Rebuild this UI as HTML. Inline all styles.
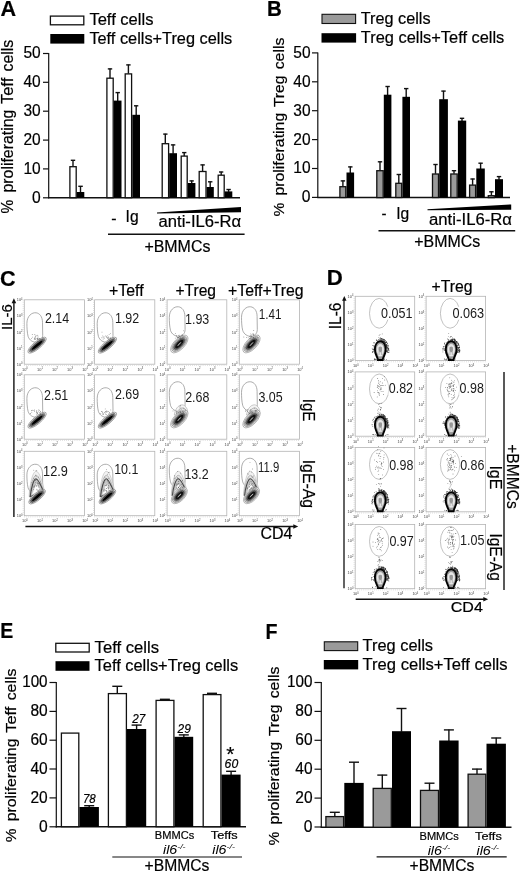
<!DOCTYPE html>
<html lang="en"><head><meta charset="utf-8"><title>Figure</title>
<style>
html,body{margin:0;padding:0;background:#fff;}
body{width:520px;height:874px;overflow:hidden;}
svg{display:block;font-family:"Liberation Sans", sans-serif;}
.m{stroke:#000;stroke-width:0.2px;}
</style></head><body>
<svg width="520" height="874" viewBox="0 0 520 874">
<rect width="520" height="874" fill="#fff"/>
<text font-size="21.6" font-weight="bold" class="m" x="0.6" y="15.8">A</text>
<rect x="50.4" y="16.1" width="33.4" height="8.7" fill="#fff" stroke="#111" stroke-width="1.3"/>
<rect x="50.3" y="34" width="34" height="9.6" fill="#000"/>
<text font-size="16" textLength="64.0" lengthAdjust="spacingAndGlyphs" class="m" x="89.4" y="25.4">Teff cells</text>
<text font-size="16" textLength="142.8" lengthAdjust="spacingAndGlyphs" class="m" x="89.4" y="44.2">Teff cells+Treg cells</text>
<line x1="48.7" y1="53.0" x2="48.7" y2="198.3" stroke="#111" stroke-width="1.2"/>
<line x1="48.1" y1="197.7" x2="240.0" y2="197.7" stroke="#111" stroke-width="1.5"/>
<line x1="43.0" y1="53.5" x2="48.7" y2="53.5" stroke="#111" stroke-width="1.2"/>
<text font-size="16" textLength="17.2" lengthAdjust="spacingAndGlyphs" text-anchor="end" class="m" x="40.6" y="58.4">50</text>
<line x1="43.0" y1="82.3" x2="48.7" y2="82.3" stroke="#111" stroke-width="1.2"/>
<text font-size="16" textLength="17.2" lengthAdjust="spacingAndGlyphs" text-anchor="end" class="m" x="40.6" y="87.2">40</text>
<line x1="43.0" y1="111.2" x2="48.7" y2="111.2" stroke="#111" stroke-width="1.2"/>
<text font-size="16" textLength="17.2" lengthAdjust="spacingAndGlyphs" text-anchor="end" class="m" x="40.6" y="116.1">30</text>
<line x1="43.0" y1="140.1" x2="48.7" y2="140.1" stroke="#111" stroke-width="1.2"/>
<text font-size="16" textLength="17.2" lengthAdjust="spacingAndGlyphs" text-anchor="end" class="m" x="40.6" y="145.0">20</text>
<line x1="43.0" y1="168.9" x2="48.7" y2="168.9" stroke="#111" stroke-width="1.2"/>
<text font-size="16" textLength="17.2" lengthAdjust="spacingAndGlyphs" text-anchor="end" class="m" x="40.6" y="173.8">10</text>
<line x1="43.0" y1="197.8" x2="48.7" y2="197.8" stroke="#111" stroke-width="1.2"/>
<text font-size="16" textLength="8.7" lengthAdjust="spacingAndGlyphs" text-anchor="end" class="m" x="40.6" y="202.7">0</text>
<text font-size="16.4" textLength="13.8" lengthAdjust="spacingAndGlyphs" class="m" transform="translate(12.8 213.5) rotate(-90)">%</text>
<text font-size="16.4" textLength="82.8" lengthAdjust="spacingAndGlyphs" class="m" transform="translate(12.8 192.5) rotate(-90)">proliferating</text>
<text font-size="16.4" textLength="26.2" lengthAdjust="spacingAndGlyphs" class="m" transform="translate(12.8 104.0) rotate(-90)">Teff</text>
<text font-size="16.4" textLength="31.7" lengthAdjust="spacingAndGlyphs" class="m" transform="translate(12.8 71.5) rotate(-90)">cells</text>
<line x1="73.0" y1="160.0" x2="73.0" y2="166.5" stroke="#111" stroke-width="1.4"/>
<line x1="70.8" y1="160.3" x2="75.2" y2="160.3" stroke="#111" stroke-width="1.4"/>
<rect x="69.9" y="166.7" width="6.3" height="31.0" fill="#fff" stroke="#111" stroke-width="1.3"/>
<line x1="80.5" y1="186.0" x2="80.5" y2="192.5" stroke="#111" stroke-width="1.4"/>
<line x1="78.3" y1="186.3" x2="82.8" y2="186.3" stroke="#111" stroke-width="1.4"/>
<rect x="76.8" y="192.0" width="7.5" height="5.7" fill="#000"/>
<line x1="110.0" y1="68.6" x2="110.0" y2="78.0" stroke="#111" stroke-width="1.4"/>
<line x1="107.8" y1="68.9" x2="112.2" y2="68.9" stroke="#111" stroke-width="1.4"/>
<rect x="106.9" y="78.2" width="6.3" height="119.5" fill="#fff" stroke="#111" stroke-width="1.3"/>
<line x1="117.7" y1="92.3" x2="117.7" y2="101.1" stroke="#111" stroke-width="1.4"/>
<line x1="115.5" y1="92.6" x2="119.9" y2="92.6" stroke="#111" stroke-width="1.4"/>
<rect x="113.8" y="100.6" width="7.7" height="97.1" fill="#000"/>
<line x1="128.4" y1="64.6" x2="128.4" y2="73.7" stroke="#111" stroke-width="1.4"/>
<line x1="126.2" y1="64.9" x2="130.6" y2="64.9" stroke="#111" stroke-width="1.4"/>
<rect x="125.2" y="73.9" width="6.4" height="123.8" fill="#fff" stroke="#111" stroke-width="1.3"/>
<line x1="136.2" y1="105.5" x2="136.2" y2="115.3" stroke="#111" stroke-width="1.4"/>
<line x1="134.0" y1="105.8" x2="138.3" y2="105.8" stroke="#111" stroke-width="1.4"/>
<rect x="132.3" y="114.8" width="7.7" height="82.9" fill="#000"/>
<line x1="165.3" y1="133.8" x2="165.3" y2="143.5" stroke="#111" stroke-width="1.4"/>
<line x1="163.2" y1="134.1" x2="167.5" y2="134.1" stroke="#111" stroke-width="1.4"/>
<rect x="162.2" y="143.7" width="6.4" height="54.0" fill="#fff" stroke="#111" stroke-width="1.3"/>
<line x1="173.1" y1="144.6" x2="173.1" y2="153.7" stroke="#111" stroke-width="1.4"/>
<line x1="170.9" y1="144.9" x2="175.3" y2="144.9" stroke="#111" stroke-width="1.4"/>
<rect x="169.2" y="153.2" width="7.8" height="44.5" fill="#000"/>
<line x1="184.2" y1="152.3" x2="184.2" y2="155.9" stroke="#111" stroke-width="1.4"/>
<line x1="182.1" y1="152.6" x2="186.4" y2="152.6" stroke="#111" stroke-width="1.4"/>
<rect x="181.2" y="156.1" width="6.0" height="41.6" fill="#fff" stroke="#111" stroke-width="1.3"/>
<line x1="191.7" y1="180.6" x2="191.7" y2="183.5" stroke="#111" stroke-width="1.4"/>
<line x1="189.5" y1="180.9" x2="193.8" y2="180.9" stroke="#111" stroke-width="1.4"/>
<rect x="187.9" y="183.0" width="7.5" height="14.7" fill="#000"/>
<line x1="202.6" y1="164.6" x2="202.6" y2="171.3" stroke="#111" stroke-width="1.4"/>
<line x1="200.4" y1="164.9" x2="204.8" y2="164.9" stroke="#111" stroke-width="1.4"/>
<rect x="199.2" y="171.5" width="6.8" height="26.2" fill="#fff" stroke="#111" stroke-width="1.3"/>
<line x1="210.2" y1="181.5" x2="210.2" y2="187.5" stroke="#111" stroke-width="1.4"/>
<line x1="208.0" y1="181.8" x2="212.4" y2="181.8" stroke="#111" stroke-width="1.4"/>
<rect x="206.6" y="187.0" width="7.2" height="10.7" fill="#000"/>
<line x1="221.2" y1="171.7" x2="221.2" y2="175.0" stroke="#111" stroke-width="1.4"/>
<line x1="219.0" y1="172.0" x2="223.3" y2="172.0" stroke="#111" stroke-width="1.4"/>
<rect x="218.2" y="175.2" width="6.0" height="22.5" fill="#fff" stroke="#111" stroke-width="1.3"/>
<line x1="228.6" y1="189.2" x2="228.6" y2="191.9" stroke="#111" stroke-width="1.4"/>
<line x1="226.4" y1="189.5" x2="230.8" y2="189.5" stroke="#111" stroke-width="1.4"/>
<rect x="224.8" y="191.4" width="7.5" height="6.3" fill="#000"/>
<polygon points="157,212.5 241,206.9 241,212.2 157,213.5" fill="#000"/>
<text font-size="16" textLength="5.3" lengthAdjust="spacingAndGlyphs" class="m" x="111.2" y="224.2">-</text>
<text font-size="16" textLength="13.0" lengthAdjust="spacingAndGlyphs" class="m" x="125.6" y="222.3">Ig</text>
<text font-size="16" textLength="82.5" lengthAdjust="spacingAndGlyphs" class="m" x="158.6" y="227.0">anti-IL6-Rα</text>
<line x1="108.0" y1="234.2" x2="244.6" y2="234.2" stroke="#111" stroke-width="1.4"/>
<text font-size="16" textLength="66.0" lengthAdjust="spacingAndGlyphs" class="m" x="144.4" y="251.5">+BMMCs</text>
<text font-size="22.6" textLength="14.8" lengthAdjust="spacingAndGlyphs" font-weight="bold" class="m" x="267.0" y="15.7">B</text>
<rect x="322.0" y="14.3" width="33.6" height="9.2" fill="#9a9a9a" stroke="#111" stroke-width="1.1"/>
<rect x="321.5" y="33.2" width="34.6" height="9.4" fill="#000"/>
<text font-size="16" textLength="69.8" lengthAdjust="spacingAndGlyphs" class="m" x="360.8" y="24.2">Treg cells</text>
<text font-size="16" textLength="143.5" lengthAdjust="spacingAndGlyphs" class="m" x="360.8" y="42.8">Treg cells+Teff cells</text>
<line x1="317.8" y1="52.4" x2="317.8" y2="198.1" stroke="#111" stroke-width="1.2"/>
<line x1="317.2" y1="197.5" x2="510.0" y2="197.5" stroke="#111" stroke-width="1.5"/>
<line x1="312.0" y1="52.9" x2="317.8" y2="52.9" stroke="#111" stroke-width="1.2"/>
<text font-size="16" textLength="17.2" lengthAdjust="spacingAndGlyphs" text-anchor="end" class="m" x="310.5" y="57.8">50</text>
<line x1="312.0" y1="81.8" x2="317.8" y2="81.8" stroke="#111" stroke-width="1.2"/>
<text font-size="16" textLength="17.2" lengthAdjust="spacingAndGlyphs" text-anchor="end" class="m" x="310.5" y="86.7">40</text>
<line x1="312.0" y1="110.7" x2="317.8" y2="110.7" stroke="#111" stroke-width="1.2"/>
<text font-size="16" textLength="17.2" lengthAdjust="spacingAndGlyphs" text-anchor="end" class="m" x="310.5" y="115.6">30</text>
<line x1="312.0" y1="139.6" x2="317.8" y2="139.6" stroke="#111" stroke-width="1.2"/>
<text font-size="16" textLength="17.2" lengthAdjust="spacingAndGlyphs" text-anchor="end" class="m" x="310.5" y="144.5">20</text>
<line x1="312.0" y1="168.5" x2="317.8" y2="168.5" stroke="#111" stroke-width="1.2"/>
<text font-size="16" textLength="17.2" lengthAdjust="spacingAndGlyphs" text-anchor="end" class="m" x="310.5" y="173.4">10</text>
<line x1="312.0" y1="197.4" x2="317.8" y2="197.4" stroke="#111" stroke-width="1.2"/>
<text font-size="16" textLength="8.7" lengthAdjust="spacingAndGlyphs" text-anchor="end" class="m" x="310.5" y="202.3">0</text>
<text font-size="15.2" textLength="13.8" lengthAdjust="spacingAndGlyphs" class="m" transform="translate(283.8 216.6) rotate(-90)">%</text>
<text font-size="15.2" textLength="82.8" lengthAdjust="spacingAndGlyphs" class="m" transform="translate(283.8 195.6) rotate(-90)">proliferating</text>
<text font-size="15.2" textLength="31.5" lengthAdjust="spacingAndGlyphs" class="m" transform="translate(283.8 107.1) rotate(-90)">Treg</text>
<text font-size="15.2" textLength="31.7" lengthAdjust="spacingAndGlyphs" class="m" transform="translate(283.8 69.3) rotate(-90)">cells</text>
<line x1="342.9" y1="180.6" x2="342.9" y2="186.5" stroke="#111" stroke-width="1.4"/>
<line x1="340.7" y1="180.9" x2="345.1" y2="180.9" stroke="#111" stroke-width="1.4"/>
<rect x="339.9" y="186.7" width="5.9" height="10.8" fill="#9a9a9a" stroke="#111" stroke-width="1.3"/>
<line x1="350.3" y1="166.6" x2="350.3" y2="173.0" stroke="#111" stroke-width="1.4"/>
<line x1="348.1" y1="166.9" x2="352.5" y2="166.9" stroke="#111" stroke-width="1.4"/>
<rect x="346.5" y="172.5" width="7.6" height="25.0" fill="#000"/>
<line x1="380.0" y1="161.5" x2="380.0" y2="170.5" stroke="#111" stroke-width="1.4"/>
<line x1="377.8" y1="161.8" x2="382.2" y2="161.8" stroke="#111" stroke-width="1.4"/>
<rect x="376.8" y="170.7" width="6.4" height="26.9" fill="#9a9a9a" stroke="#111" stroke-width="1.3"/>
<line x1="387.6" y1="86.2" x2="387.6" y2="95.2" stroke="#111" stroke-width="1.4"/>
<line x1="385.4" y1="86.5" x2="389.8" y2="86.5" stroke="#111" stroke-width="1.4"/>
<rect x="383.8" y="94.7" width="7.6" height="102.8" fill="#000"/>
<line x1="398.8" y1="174.2" x2="398.8" y2="183.2" stroke="#111" stroke-width="1.4"/>
<line x1="396.6" y1="174.5" x2="401.0" y2="174.5" stroke="#111" stroke-width="1.4"/>
<rect x="395.8" y="183.3" width="5.9" height="14.2" fill="#9a9a9a" stroke="#111" stroke-width="1.3"/>
<line x1="406.2" y1="88.3" x2="406.2" y2="97.3" stroke="#111" stroke-width="1.4"/>
<line x1="404.0" y1="88.6" x2="408.4" y2="88.6" stroke="#111" stroke-width="1.4"/>
<rect x="402.4" y="96.8" width="7.6" height="100.7" fill="#000"/>
<line x1="435.5" y1="164.2" x2="435.5" y2="173.8" stroke="#111" stroke-width="1.4"/>
<line x1="433.3" y1="164.5" x2="437.7" y2="164.5" stroke="#111" stroke-width="1.4"/>
<rect x="432.5" y="174.0" width="6.0" height="23.5" fill="#9a9a9a" stroke="#111" stroke-width="1.3"/>
<line x1="443.5" y1="90.8" x2="443.5" y2="99.7" stroke="#111" stroke-width="1.4"/>
<line x1="441.3" y1="91.1" x2="445.7" y2="91.1" stroke="#111" stroke-width="1.4"/>
<rect x="439.2" y="99.2" width="8.7" height="98.3" fill="#000"/>
<line x1="454.0" y1="170.4" x2="454.0" y2="173.8" stroke="#111" stroke-width="1.4"/>
<line x1="451.8" y1="170.7" x2="456.2" y2="170.7" stroke="#111" stroke-width="1.4"/>
<rect x="450.8" y="174.0" width="6.4" height="23.5" fill="#9a9a9a" stroke="#111" stroke-width="1.3"/>
<line x1="462.0" y1="118.0" x2="462.0" y2="121.1" stroke="#111" stroke-width="1.4"/>
<line x1="459.8" y1="118.3" x2="464.2" y2="118.3" stroke="#111" stroke-width="1.4"/>
<rect x="457.9" y="120.6" width="8.3" height="76.9" fill="#000"/>
<line x1="472.6" y1="178.7" x2="472.6" y2="184.9" stroke="#111" stroke-width="1.4"/>
<line x1="470.4" y1="179.0" x2="474.8" y2="179.0" stroke="#111" stroke-width="1.4"/>
<rect x="469.6" y="185.1" width="6.0" height="12.4" fill="#9a9a9a" stroke="#111" stroke-width="1.3"/>
<line x1="480.6" y1="162.9" x2="480.6" y2="169.0" stroke="#111" stroke-width="1.4"/>
<line x1="478.4" y1="163.2" x2="482.8" y2="163.2" stroke="#111" stroke-width="1.4"/>
<rect x="476.3" y="168.5" width="8.5" height="29.0" fill="#000"/>
<line x1="491.4" y1="191.5" x2="491.4" y2="195.5" stroke="#111" stroke-width="1.4"/>
<line x1="489.2" y1="191.8" x2="493.6" y2="191.8" stroke="#111" stroke-width="1.4"/>
<rect x="488.3" y="195.7" width="6.0" height="1.9" fill="#9a9a9a" stroke="#111" stroke-width="1.3"/>
<line x1="499.0" y1="176.3" x2="499.0" y2="179.7" stroke="#111" stroke-width="1.4"/>
<line x1="496.8" y1="176.6" x2="501.2" y2="176.6" stroke="#111" stroke-width="1.4"/>
<rect x="495.0" y="179.2" width="8.0" height="18.3" fill="#000"/>
<polygon points="427.5,209.3 511.2,204.4 511.2,209.7 427.5,210.3" fill="#000"/>
<text font-size="16" textLength="5.0" lengthAdjust="spacingAndGlyphs" class="m" x="381.5" y="219.0">-</text>
<text font-size="16" textLength="13.0" lengthAdjust="spacingAndGlyphs" class="m" x="396.2" y="219.0">Ig</text>
<text font-size="16" textLength="83.0" lengthAdjust="spacingAndGlyphs" class="m" x="429.0" y="224.5">anti-IL6-Rα</text>
<line x1="378.5" y1="230.8" x2="515.2" y2="230.8" stroke="#111" stroke-width="1.4"/>
<text font-size="16" textLength="66.0" lengthAdjust="spacingAndGlyphs" class="m" x="414.2" y="246.5">+BMMCs</text>
<text font-size="21.6" font-weight="bold" class="m" x="0.0" y="285.8">C</text>
<text font-size="16" textLength="34.6" lengthAdjust="spacingAndGlyphs" class="m" x="109.0" y="295.5">+Teff</text>
<text font-size="16" textLength="40.6" lengthAdjust="spacingAndGlyphs" class="m" x="175.4" y="295.5">+Treg</text>
<text font-size="16" textLength="75.6" lengthAdjust="spacingAndGlyphs" class="m" x="228.0" y="295.5">+Teff+Treg</text>
<text font-size="14.9" textLength="25.8" lengthAdjust="spacingAndGlyphs" class="m" transform="translate(12.0 330.0) rotate(-90)">IL-6</text>
<line x1="13.9" y1="302.0" x2="13.9" y2="517.0" stroke="#111" stroke-width="1.4"/>
<polygon points="13.9,298.3 11.6,303.2 16.2,303.2" fill="#111"/>
<line x1="25.4" y1="526.5" x2="294.0" y2="526.5" stroke="#111" stroke-width="1.4"/>
<polygon points="298.2,526.5 293.3,524.2 293.3,528.8" fill="#111"/>
<text font-size="15.6" textLength="32.0" lengthAdjust="spacingAndGlyphs" class="m" x="260.4" y="539.4">CD4</text>
<text font-size="16.6" textLength="22.6" lengthAdjust="spacingAndGlyphs" class="m" transform="translate(302.9 398.7) rotate(90)">IgE</text>
<text font-size="16.6" textLength="48.4" lengthAdjust="spacingAndGlyphs" class="m" transform="translate(302.9 459.7) rotate(90)">IgE-Ag</text>
<rect x="24.3" y="299.8" width="60.2" height="64.4" fill="#fff" stroke="#b4b4b4" stroke-width="0.8"/>
<text x="22.5" y="365.7" font-size="3.9" text-anchor="end" fill="#444">10<tspan dy="-1.4" font-size="2.6">0</tspan></text>
<text x="24.9" y="370.5" font-size="3.9" text-anchor="middle" fill="#444">10<tspan dy="-1.4" font-size="2.6">0</tspan></text>
<text x="22.5" y="349.6" font-size="3.9" text-anchor="end" fill="#444">10<tspan dy="-1.4" font-size="2.6">1</tspan></text>
<text x="40.0" y="370.5" font-size="3.9" text-anchor="middle" fill="#444">10<tspan dy="-1.4" font-size="2.6">1</tspan></text>
<text x="22.5" y="333.5" font-size="3.9" text-anchor="end" fill="#444">10<tspan dy="-1.4" font-size="2.6">2</tspan></text>
<text x="55.0" y="370.5" font-size="3.9" text-anchor="middle" fill="#444">10<tspan dy="-1.4" font-size="2.6">2</tspan></text>
<text x="22.5" y="317.4" font-size="3.9" text-anchor="end" fill="#444">10<tspan dy="-1.4" font-size="2.6">3</tspan></text>
<text x="70.0" y="370.5" font-size="3.9" text-anchor="middle" fill="#444">10<tspan dy="-1.4" font-size="2.6">3</tspan></text>
<text x="22.5" y="301.3" font-size="3.9" text-anchor="end" fill="#444">10<tspan dy="-1.4" font-size="2.6">4</tspan></text>
<text x="85.1" y="370.5" font-size="3.9" text-anchor="middle" fill="#444">10<tspan dy="-1.4" font-size="2.6">4</tspan></text>
<line x1="24.3" y1="365.4" x2="84.5" y2="365.4" stroke="#bbb" stroke-width="0.9" stroke-dasharray="0.5 1.6"/>
<line x1="23.2" y1="299.8" x2="23.2" y2="364.2" stroke="#bbb" stroke-width="0.9" stroke-dasharray="0.5 1.6"/>
<path d="M26.9,323.4 C26.9,310.4 42.3,308.4 42.5,322.4 L42.7,335.4 C42.7,344.4 30.7,344.4 28.1,336.4 C27.1,332.4 26.9,327.4 26.9,323.4 Z" fill="none" stroke="#8a8a8a" stroke-width="0.7"/>
<g transform="translate(37.1 345.2) rotate(-40)"><ellipse rx="11.6" ry="3.7" fill="#fdfdfd" stroke="#6a6a6a" stroke-width="0.55"/><ellipse rx="10.0" ry="2.7" fill="#c8c8c8" stroke="#444" stroke-width="0.6"/><ellipse rx="8.6" ry="2.1" fill="#777" stroke="#222" stroke-width="0.5"/><ellipse rx="7.2" ry="1.4" fill="#000"/></g>
<g fill="#4a4a4a"><circle cx="35.9" cy="338.2" r="0.38"/><circle cx="36.0" cy="338.8" r="0.38"/><circle cx="34.2" cy="339.1" r="0.38"/><circle cx="39.5" cy="338.4" r="0.38"/><circle cx="39.3" cy="339.0" r="0.38"/><circle cx="37.6" cy="339.1" r="0.38"/><circle cx="32.3" cy="337.1" r="0.38"/><circle cx="37.9" cy="338.2" r="0.38"/><circle cx="32.2" cy="334.5" r="0.38"/><circle cx="34.3" cy="338.3" r="0.38"/><circle cx="37.4" cy="339.6" r="0.38"/><circle cx="38.0" cy="337.8" r="0.38"/><circle cx="37.4" cy="338.5" r="0.38"/><circle cx="34.9" cy="334.5" r="0.38"/><circle cx="38.0" cy="336.1" r="0.38"/><circle cx="35.0" cy="337.5" r="0.38"/><circle cx="35.7" cy="339.4" r="0.38"/><circle cx="38.2" cy="339.0" r="0.38"/><circle cx="35.4" cy="336.8" r="0.38"/><circle cx="35.2" cy="336.0" r="0.38"/><circle cx="34.5" cy="339.0" r="0.38"/><circle cx="37.7" cy="335.2" r="0.38"/><circle cx="36.7" cy="335.8" r="0.38"/><circle cx="31.4" cy="338.7" r="0.38"/></g>
<text font-size="14.4" textLength="24.2" lengthAdjust="spacingAndGlyphs" fill="#1a1a1a" x="44.9" y="323.1">2.14</text>
<rect x="94.6" y="299.8" width="60.2" height="64.4" fill="#fff" stroke="#b4b4b4" stroke-width="0.8"/>
<text x="92.8" y="365.7" font-size="3.9" text-anchor="end" fill="#444">10<tspan dy="-1.4" font-size="2.6">0</tspan></text>
<text x="95.2" y="370.5" font-size="3.9" text-anchor="middle" fill="#444">10<tspan dy="-1.4" font-size="2.6">0</tspan></text>
<text x="92.8" y="349.6" font-size="3.9" text-anchor="end" fill="#444">10<tspan dy="-1.4" font-size="2.6">1</tspan></text>
<text x="110.2" y="370.5" font-size="3.9" text-anchor="middle" fill="#444">10<tspan dy="-1.4" font-size="2.6">1</tspan></text>
<text x="92.8" y="333.5" font-size="3.9" text-anchor="end" fill="#444">10<tspan dy="-1.4" font-size="2.6">2</tspan></text>
<text x="125.3" y="370.5" font-size="3.9" text-anchor="middle" fill="#444">10<tspan dy="-1.4" font-size="2.6">2</tspan></text>
<text x="92.8" y="317.4" font-size="3.9" text-anchor="end" fill="#444">10<tspan dy="-1.4" font-size="2.6">3</tspan></text>
<text x="140.3" y="370.5" font-size="3.9" text-anchor="middle" fill="#444">10<tspan dy="-1.4" font-size="2.6">3</tspan></text>
<text x="92.8" y="301.3" font-size="3.9" text-anchor="end" fill="#444">10<tspan dy="-1.4" font-size="2.6">4</tspan></text>
<text x="155.4" y="370.5" font-size="3.9" text-anchor="middle" fill="#444">10<tspan dy="-1.4" font-size="2.6">4</tspan></text>
<line x1="94.6" y1="365.4" x2="154.8" y2="365.4" stroke="#bbb" stroke-width="0.9" stroke-dasharray="0.5 1.6"/>
<line x1="93.5" y1="299.8" x2="93.5" y2="364.2" stroke="#bbb" stroke-width="0.9" stroke-dasharray="0.5 1.6"/>
<path d="M97.2,323.4 C97.2,310.4 112.6,308.4 112.8,322.4 L113.0,335.4 C113.0,344.4 101.0,344.4 98.4,336.4 C97.4,332.4 97.2,327.4 97.2,323.4 Z" fill="none" stroke="#8a8a8a" stroke-width="0.7"/>
<g transform="translate(107.4 345.2) rotate(-40)"><ellipse rx="11.6" ry="3.7" fill="#fdfdfd" stroke="#6a6a6a" stroke-width="0.55"/><ellipse rx="10.0" ry="2.7" fill="#c8c8c8" stroke="#444" stroke-width="0.6"/><ellipse rx="8.6" ry="2.1" fill="#777" stroke="#222" stroke-width="0.5"/><ellipse rx="7.2" ry="1.4" fill="#000"/></g>
<g fill="#4a4a4a"><circle cx="106.6" cy="337.2" r="0.38"/><circle cx="108.2" cy="339.5" r="0.38"/><circle cx="103.1" cy="337.2" r="0.38"/><circle cx="108.6" cy="336.9" r="0.38"/><circle cx="110.6" cy="338.6" r="0.38"/><circle cx="107.2" cy="335.8" r="0.38"/><circle cx="108.5" cy="337.9" r="0.38"/><circle cx="105.7" cy="335.9" r="0.38"/><circle cx="104.4" cy="338.1" r="0.38"/><circle cx="110.3" cy="333.6" r="0.38"/><circle cx="103.1" cy="339.0" r="0.38"/><circle cx="110.7" cy="338.0" r="0.38"/><circle cx="102.0" cy="332.1" r="0.38"/><circle cx="107.8" cy="337.5" r="0.38"/><circle cx="104.0" cy="336.8" r="0.38"/><circle cx="109.8" cy="339.2" r="0.38"/><circle cx="107.5" cy="338.4" r="0.38"/><circle cx="111.0" cy="337.8" r="0.38"/><circle cx="108.2" cy="338.1" r="0.38"/><circle cx="102.8" cy="335.9" r="0.38"/><circle cx="109.4" cy="338.1" r="0.38"/><circle cx="101.8" cy="337.8" r="0.38"/><circle cx="109.1" cy="334.3" r="0.38"/><circle cx="106.4" cy="336.6" r="0.38"/></g>
<text font-size="14.4" textLength="24.2" lengthAdjust="spacingAndGlyphs" fill="#1a1a1a" x="115.0" y="323.0">1.92</text>
<rect x="167.1" y="299.8" width="59.7" height="64.4" fill="#fff" stroke="#b4b4b4" stroke-width="0.8"/>
<text x="165.3" y="365.7" font-size="3.9" text-anchor="end" fill="#444">10<tspan dy="-1.4" font-size="2.6">0</tspan></text>
<text x="167.7" y="370.5" font-size="3.9" text-anchor="middle" fill="#444">10<tspan dy="-1.4" font-size="2.6">0</tspan></text>
<text x="165.3" y="349.6" font-size="3.9" text-anchor="end" fill="#444">10<tspan dy="-1.4" font-size="2.6">1</tspan></text>
<text x="182.6" y="370.5" font-size="3.9" text-anchor="middle" fill="#444">10<tspan dy="-1.4" font-size="2.6">1</tspan></text>
<text x="165.3" y="333.5" font-size="3.9" text-anchor="end" fill="#444">10<tspan dy="-1.4" font-size="2.6">2</tspan></text>
<text x="197.5" y="370.5" font-size="3.9" text-anchor="middle" fill="#444">10<tspan dy="-1.4" font-size="2.6">2</tspan></text>
<text x="165.3" y="317.4" font-size="3.9" text-anchor="end" fill="#444">10<tspan dy="-1.4" font-size="2.6">3</tspan></text>
<text x="212.5" y="370.5" font-size="3.9" text-anchor="middle" fill="#444">10<tspan dy="-1.4" font-size="2.6">3</tspan></text>
<text x="165.3" y="301.3" font-size="3.9" text-anchor="end" fill="#444">10<tspan dy="-1.4" font-size="2.6">4</tspan></text>
<text x="227.4" y="370.5" font-size="3.9" text-anchor="middle" fill="#444">10<tspan dy="-1.4" font-size="2.6">4</tspan></text>
<line x1="167.1" y1="365.4" x2="226.8" y2="365.4" stroke="#bbb" stroke-width="0.9" stroke-dasharray="0.5 1.6"/>
<line x1="166.0" y1="299.8" x2="166.0" y2="364.2" stroke="#bbb" stroke-width="0.9" stroke-dasharray="0.5 1.6"/>
<path d="M169.3,317.4 C169.3,304.4 184.7,302.4 184.9,316.4 L185.1,329.4 C185.1,338.4 173.1,338.4 170.5,330.4 C169.5,326.4 169.3,321.4 169.3,317.4 Z" fill="none" stroke="#8a8a8a" stroke-width="0.7"/>
<g transform="translate(179.3 344.0) rotate(-46)"><ellipse rx="11.2" ry="5.4" fill="#fafafa" stroke="#777" stroke-width="0.5"/><ellipse rx="9.6" ry="4.4" fill="#e4e4e4" stroke="#555" stroke-width="0.5"/><ellipse rx="8.1" ry="3.5" fill="#bbb" stroke="#444" stroke-width="0.5"/><ellipse rx="6.9" ry="2.8" fill="#666" stroke="#222" stroke-width="0.5"/><ellipse rx="5.6" ry="2.1" fill="#111"/><ellipse rx="2.9" ry="0.4" fill="#ddd"/></g>
<g fill="#4a4a4a"><circle cx="175.4" cy="333.7" r="0.38"/><circle cx="180.2" cy="338.0" r="0.38"/><circle cx="179.6" cy="336.6" r="0.38"/><circle cx="179.1" cy="335.1" r="0.38"/><circle cx="177.1" cy="337.3" r="0.38"/><circle cx="181.5" cy="338.4" r="0.38"/><circle cx="176.5" cy="335.7" r="0.38"/><circle cx="182.6" cy="337.2" r="0.38"/><circle cx="175.2" cy="338.1" r="0.38"/><circle cx="178.4" cy="337.6" r="0.38"/><circle cx="182.5" cy="335.4" r="0.38"/><circle cx="182.1" cy="334.7" r="0.38"/><circle cx="176.8" cy="336.6" r="0.38"/><circle cx="181.7" cy="335.9" r="0.38"/><circle cx="179.7" cy="338.1" r="0.38"/><circle cx="179.2" cy="336.8" r="0.38"/><circle cx="178.3" cy="337.7" r="0.38"/><circle cx="180.3" cy="338.5" r="0.38"/><circle cx="180.8" cy="336.8" r="0.38"/><circle cx="184.0" cy="337.5" r="0.38"/><circle cx="177.7" cy="337.4" r="0.38"/><circle cx="178.8" cy="335.7" r="0.38"/><circle cx="177.9" cy="337.3" r="0.38"/><circle cx="183.6" cy="330.8" r="0.38"/></g>
<text font-size="14.4" textLength="24.2" lengthAdjust="spacingAndGlyphs" fill="#1a1a1a" x="185.1" y="323.6">1.93</text>
<rect x="239.3" y="299.8" width="60.2" height="64.4" fill="#fff" stroke="#b4b4b4" stroke-width="0.8"/>
<text x="237.5" y="365.7" font-size="3.9" text-anchor="end" fill="#444">10<tspan dy="-1.4" font-size="2.6">0</tspan></text>
<text x="239.9" y="370.5" font-size="3.9" text-anchor="middle" fill="#444">10<tspan dy="-1.4" font-size="2.6">0</tspan></text>
<text x="237.5" y="349.6" font-size="3.9" text-anchor="end" fill="#444">10<tspan dy="-1.4" font-size="2.6">1</tspan></text>
<text x="255.0" y="370.5" font-size="3.9" text-anchor="middle" fill="#444">10<tspan dy="-1.4" font-size="2.6">1</tspan></text>
<text x="237.5" y="333.5" font-size="3.9" text-anchor="end" fill="#444">10<tspan dy="-1.4" font-size="2.6">2</tspan></text>
<text x="270.0" y="370.5" font-size="3.9" text-anchor="middle" fill="#444">10<tspan dy="-1.4" font-size="2.6">2</tspan></text>
<text x="237.5" y="317.4" font-size="3.9" text-anchor="end" fill="#444">10<tspan dy="-1.4" font-size="2.6">3</tspan></text>
<text x="285.1" y="370.5" font-size="3.9" text-anchor="middle" fill="#444">10<tspan dy="-1.4" font-size="2.6">3</tspan></text>
<text x="237.5" y="301.3" font-size="3.9" text-anchor="end" fill="#444">10<tspan dy="-1.4" font-size="2.6">4</tspan></text>
<text x="300.1" y="370.5" font-size="3.9" text-anchor="middle" fill="#444">10<tspan dy="-1.4" font-size="2.6">4</tspan></text>
<line x1="239.3" y1="365.4" x2="299.5" y2="365.4" stroke="#bbb" stroke-width="0.9" stroke-dasharray="0.5 1.6"/>
<line x1="238.2" y1="299.8" x2="238.2" y2="364.2" stroke="#bbb" stroke-width="0.9" stroke-dasharray="0.5 1.6"/>
<path d="M241.5,317.4 C241.5,304.4 256.9,302.4 257.1,316.4 L257.3,329.4 C257.3,338.4 245.3,338.4 242.7,330.4 C241.7,326.4 241.5,321.4 241.5,317.4 Z" fill="none" stroke="#8a8a8a" stroke-width="0.7"/>
<g transform="translate(251.5 344.0) rotate(-46)"><ellipse rx="11.2" ry="5.4" fill="#fafafa" stroke="#777" stroke-width="0.5"/><ellipse rx="9.6" ry="4.4" fill="#e4e4e4" stroke="#555" stroke-width="0.5"/><ellipse rx="8.1" ry="3.5" fill="#bbb" stroke="#444" stroke-width="0.5"/><ellipse rx="6.9" ry="2.8" fill="#666" stroke="#222" stroke-width="0.5"/><ellipse rx="5.6" ry="2.1" fill="#111"/><ellipse rx="2.9" ry="0.4" fill="#ddd"/></g>
<g fill="#4a4a4a"><circle cx="248.1" cy="337.8" r="0.38"/><circle cx="252.0" cy="337.8" r="0.38"/><circle cx="249.9" cy="336.5" r="0.38"/><circle cx="251.7" cy="336.9" r="0.38"/><circle cx="257.3" cy="337.4" r="0.38"/><circle cx="249.6" cy="338.2" r="0.38"/><circle cx="250.4" cy="338.3" r="0.38"/><circle cx="243.9" cy="337.0" r="0.38"/><circle cx="253.6" cy="335.0" r="0.38"/><circle cx="250.8" cy="335.6" r="0.38"/><circle cx="253.2" cy="334.0" r="0.38"/><circle cx="246.6" cy="337.4" r="0.38"/><circle cx="250.1" cy="336.6" r="0.38"/><circle cx="253.8" cy="330.5" r="0.38"/><circle cx="253.8" cy="334.2" r="0.38"/><circle cx="252.8" cy="334.0" r="0.38"/><circle cx="251.5" cy="334.9" r="0.38"/><circle cx="250.6" cy="337.9" r="0.38"/><circle cx="253.1" cy="338.1" r="0.38"/><circle cx="250.8" cy="333.9" r="0.38"/><circle cx="253.7" cy="337.6" r="0.38"/><circle cx="258.1" cy="335.1" r="0.38"/><circle cx="253.4" cy="337.7" r="0.38"/><circle cx="251.3" cy="336.4" r="0.38"/></g>
<text font-size="14.4" textLength="22.8" lengthAdjust="spacingAndGlyphs" fill="#1a1a1a" x="258.7" y="318.7">1.41</text>
<rect x="24.3" y="374.8" width="60.2" height="64.4" fill="#fff" stroke="#b4b4b4" stroke-width="0.8"/>
<text x="22.5" y="440.7" font-size="3.9" text-anchor="end" fill="#444">10<tspan dy="-1.4" font-size="2.6">0</tspan></text>
<text x="24.9" y="445.5" font-size="3.9" text-anchor="middle" fill="#444">10<tspan dy="-1.4" font-size="2.6">0</tspan></text>
<text x="22.5" y="424.6" font-size="3.9" text-anchor="end" fill="#444">10<tspan dy="-1.4" font-size="2.6">1</tspan></text>
<text x="40.0" y="445.5" font-size="3.9" text-anchor="middle" fill="#444">10<tspan dy="-1.4" font-size="2.6">1</tspan></text>
<text x="22.5" y="408.5" font-size="3.9" text-anchor="end" fill="#444">10<tspan dy="-1.4" font-size="2.6">2</tspan></text>
<text x="55.0" y="445.5" font-size="3.9" text-anchor="middle" fill="#444">10<tspan dy="-1.4" font-size="2.6">2</tspan></text>
<text x="22.5" y="392.4" font-size="3.9" text-anchor="end" fill="#444">10<tspan dy="-1.4" font-size="2.6">3</tspan></text>
<text x="70.0" y="445.5" font-size="3.9" text-anchor="middle" fill="#444">10<tspan dy="-1.4" font-size="2.6">3</tspan></text>
<text x="22.5" y="376.3" font-size="3.9" text-anchor="end" fill="#444">10<tspan dy="-1.4" font-size="2.6">4</tspan></text>
<text x="85.1" y="445.5" font-size="3.9" text-anchor="middle" fill="#444">10<tspan dy="-1.4" font-size="2.6">4</tspan></text>
<line x1="24.3" y1="440.4" x2="84.5" y2="440.4" stroke="#bbb" stroke-width="0.9" stroke-dasharray="0.5 1.6"/>
<line x1="23.2" y1="374.8" x2="23.2" y2="439.2" stroke="#bbb" stroke-width="0.9" stroke-dasharray="0.5 1.6"/>
<path d="M26.9,398.4 C26.9,385.4 42.3,383.4 42.5,397.4 L42.7,410.4 C42.7,419.4 30.7,419.4 28.1,411.4 C27.1,407.4 26.9,402.4 26.9,398.4 Z" fill="none" stroke="#8a8a8a" stroke-width="0.7"/>
<g transform="translate(37.1 420.2) rotate(-40)"><ellipse rx="11.6" ry="3.7" fill="#fdfdfd" stroke="#6a6a6a" stroke-width="0.55"/><ellipse rx="10.0" ry="2.7" fill="#c8c8c8" stroke="#444" stroke-width="0.6"/><ellipse rx="8.6" ry="2.1" fill="#777" stroke="#222" stroke-width="0.5"/><ellipse rx="7.2" ry="1.4" fill="#000"/></g>
<g fill="#4a4a4a"><circle cx="37.2" cy="412.8" r="0.38"/><circle cx="32.6" cy="410.2" r="0.38"/><circle cx="38.2" cy="411.8" r="0.38"/><circle cx="33.9" cy="410.3" r="0.38"/><circle cx="39.9" cy="412.5" r="0.38"/><circle cx="40.4" cy="411.9" r="0.38"/><circle cx="36.6" cy="411.3" r="0.38"/><circle cx="38.6" cy="409.9" r="0.38"/><circle cx="34.3" cy="410.0" r="0.38"/><circle cx="39.2" cy="414.2" r="0.38"/><circle cx="31.5" cy="410.5" r="0.38"/><circle cx="36.3" cy="412.9" r="0.38"/><circle cx="37.6" cy="413.5" r="0.38"/><circle cx="40.5" cy="411.6" r="0.38"/><circle cx="39.6" cy="410.2" r="0.38"/><circle cx="40.4" cy="414.2" r="0.38"/><circle cx="34.7" cy="411.6" r="0.38"/><circle cx="36.9" cy="414.3" r="0.38"/><circle cx="40.3" cy="413.9" r="0.38"/><circle cx="30.6" cy="413.5" r="0.38"/><circle cx="31.8" cy="412.2" r="0.38"/><circle cx="37.4" cy="412.9" r="0.38"/><circle cx="36.6" cy="412.2" r="0.38"/><circle cx="36.8" cy="410.7" r="0.38"/></g>
<text font-size="14.4" textLength="24.2" lengthAdjust="spacingAndGlyphs" fill="#1a1a1a" x="44.1" y="399.6">2.51</text>
<rect x="94.6" y="374.8" width="60.2" height="64.4" fill="#fff" stroke="#b4b4b4" stroke-width="0.8"/>
<text x="92.8" y="440.7" font-size="3.9" text-anchor="end" fill="#444">10<tspan dy="-1.4" font-size="2.6">0</tspan></text>
<text x="95.2" y="445.5" font-size="3.9" text-anchor="middle" fill="#444">10<tspan dy="-1.4" font-size="2.6">0</tspan></text>
<text x="92.8" y="424.6" font-size="3.9" text-anchor="end" fill="#444">10<tspan dy="-1.4" font-size="2.6">1</tspan></text>
<text x="110.2" y="445.5" font-size="3.9" text-anchor="middle" fill="#444">10<tspan dy="-1.4" font-size="2.6">1</tspan></text>
<text x="92.8" y="408.5" font-size="3.9" text-anchor="end" fill="#444">10<tspan dy="-1.4" font-size="2.6">2</tspan></text>
<text x="125.3" y="445.5" font-size="3.9" text-anchor="middle" fill="#444">10<tspan dy="-1.4" font-size="2.6">2</tspan></text>
<text x="92.8" y="392.4" font-size="3.9" text-anchor="end" fill="#444">10<tspan dy="-1.4" font-size="2.6">3</tspan></text>
<text x="140.3" y="445.5" font-size="3.9" text-anchor="middle" fill="#444">10<tspan dy="-1.4" font-size="2.6">3</tspan></text>
<text x="92.8" y="376.3" font-size="3.9" text-anchor="end" fill="#444">10<tspan dy="-1.4" font-size="2.6">4</tspan></text>
<text x="155.4" y="445.5" font-size="3.9" text-anchor="middle" fill="#444">10<tspan dy="-1.4" font-size="2.6">4</tspan></text>
<line x1="94.6" y1="440.4" x2="154.8" y2="440.4" stroke="#bbb" stroke-width="0.9" stroke-dasharray="0.5 1.6"/>
<line x1="93.5" y1="374.8" x2="93.5" y2="439.2" stroke="#bbb" stroke-width="0.9" stroke-dasharray="0.5 1.6"/>
<path d="M97.2,398.4 C97.2,385.4 112.6,383.4 112.8,397.4 L113.0,410.4 C113.0,419.4 101.0,419.4 98.4,411.4 C97.4,407.4 97.2,402.4 97.2,398.4 Z" fill="none" stroke="#8a8a8a" stroke-width="0.7"/>
<g transform="translate(107.4 420.2) rotate(-40)"><ellipse rx="11.6" ry="3.7" fill="#fdfdfd" stroke="#6a6a6a" stroke-width="0.55"/><ellipse rx="10.0" ry="2.7" fill="#c8c8c8" stroke="#444" stroke-width="0.6"/><ellipse rx="8.6" ry="2.1" fill="#777" stroke="#222" stroke-width="0.5"/><ellipse rx="7.2" ry="1.4" fill="#000"/></g>
<g fill="#4a4a4a"><circle cx="106.7" cy="411.6" r="0.38"/><circle cx="110.8" cy="409.9" r="0.38"/><circle cx="105.2" cy="412.1" r="0.38"/><circle cx="102.0" cy="411.4" r="0.38"/><circle cx="101.8" cy="411.5" r="0.38"/><circle cx="103.7" cy="414.7" r="0.38"/><circle cx="106.4" cy="414.6" r="0.38"/><circle cx="105.4" cy="414.0" r="0.38"/><circle cx="111.6" cy="414.6" r="0.38"/><circle cx="108.3" cy="411.7" r="0.38"/><circle cx="106.4" cy="410.9" r="0.38"/><circle cx="105.5" cy="411.5" r="0.38"/><circle cx="102.6" cy="412.9" r="0.38"/><circle cx="109.5" cy="412.3" r="0.38"/><circle cx="106.9" cy="412.3" r="0.38"/><circle cx="107.3" cy="411.2" r="0.38"/><circle cx="102.8" cy="412.8" r="0.38"/><circle cx="109.3" cy="413.0" r="0.38"/><circle cx="104.6" cy="412.4" r="0.38"/><circle cx="102.9" cy="414.3" r="0.38"/><circle cx="103.8" cy="413.6" r="0.38"/><circle cx="100.8" cy="413.7" r="0.38"/><circle cx="105.2" cy="408.9" r="0.38"/><circle cx="108.8" cy="413.9" r="0.38"/></g>
<text font-size="14.4" textLength="24.2" lengthAdjust="spacingAndGlyphs" fill="#1a1a1a" x="114.9" y="399.2">2.69</text>
<rect x="167.1" y="374.8" width="59.7" height="64.4" fill="#fff" stroke="#b4b4b4" stroke-width="0.8"/>
<text x="165.3" y="440.7" font-size="3.9" text-anchor="end" fill="#444">10<tspan dy="-1.4" font-size="2.6">0</tspan></text>
<text x="167.7" y="445.5" font-size="3.9" text-anchor="middle" fill="#444">10<tspan dy="-1.4" font-size="2.6">0</tspan></text>
<text x="165.3" y="424.6" font-size="3.9" text-anchor="end" fill="#444">10<tspan dy="-1.4" font-size="2.6">1</tspan></text>
<text x="182.6" y="445.5" font-size="3.9" text-anchor="middle" fill="#444">10<tspan dy="-1.4" font-size="2.6">1</tspan></text>
<text x="165.3" y="408.5" font-size="3.9" text-anchor="end" fill="#444">10<tspan dy="-1.4" font-size="2.6">2</tspan></text>
<text x="197.5" y="445.5" font-size="3.9" text-anchor="middle" fill="#444">10<tspan dy="-1.4" font-size="2.6">2</tspan></text>
<text x="165.3" y="392.4" font-size="3.9" text-anchor="end" fill="#444">10<tspan dy="-1.4" font-size="2.6">3</tspan></text>
<text x="212.5" y="445.5" font-size="3.9" text-anchor="middle" fill="#444">10<tspan dy="-1.4" font-size="2.6">3</tspan></text>
<text x="165.3" y="376.3" font-size="3.9" text-anchor="end" fill="#444">10<tspan dy="-1.4" font-size="2.6">4</tspan></text>
<text x="227.4" y="445.5" font-size="3.9" text-anchor="middle" fill="#444">10<tspan dy="-1.4" font-size="2.6">4</tspan></text>
<line x1="167.1" y1="440.4" x2="226.8" y2="440.4" stroke="#bbb" stroke-width="0.9" stroke-dasharray="0.5 1.6"/>
<line x1="166.0" y1="374.8" x2="166.0" y2="439.2" stroke="#bbb" stroke-width="0.9" stroke-dasharray="0.5 1.6"/>
<path d="M169.3,392.4 C169.3,379.4 184.7,377.4 184.9,391.4 L185.1,404.4 C185.1,413.4 173.1,413.4 170.5,405.4 C169.5,401.4 169.3,396.4 169.3,392.4 Z" fill="none" stroke="#8a8a8a" stroke-width="0.7"/>
<path d="M174.3,415.0 C175.3,407.0 180.3,404.0 183.3,405.0 C187.3,407.0 188.3,411.0 187.3,415.0 Z" fill="#f4f4f4" stroke="#999" stroke-width="0.5"/>
<path d="M176.3,415.0 C177.3,410.0 180.3,407.5 183.3,408.0 C186.3,409.0 186.9,412.0 186.3,415.0 Z" fill="#e6e6e6" stroke="#777" stroke-width="0.5"/>
<g transform="translate(179.3 419.0) rotate(-46)"><ellipse rx="11.2" ry="5.4" fill="#fafafa" stroke="#777" stroke-width="0.5"/><ellipse rx="9.6" ry="4.4" fill="#e4e4e4" stroke="#555" stroke-width="0.5"/><ellipse rx="8.1" ry="3.5" fill="#bbb" stroke="#444" stroke-width="0.5"/><ellipse rx="6.9" ry="2.8" fill="#666" stroke="#222" stroke-width="0.5"/><ellipse rx="5.6" ry="2.1" fill="#111"/><ellipse rx="2.9" ry="0.4" fill="#ddd"/></g>
<g fill="#4a4a4a"><circle cx="173.0" cy="410.9" r="0.38"/><circle cx="179.6" cy="412.1" r="0.38"/><circle cx="180.8" cy="411.3" r="0.38"/><circle cx="180.5" cy="412.5" r="0.38"/><circle cx="182.3" cy="411.5" r="0.38"/><circle cx="180.0" cy="407.2" r="0.38"/><circle cx="181.1" cy="409.6" r="0.38"/><circle cx="178.0" cy="412.1" r="0.38"/><circle cx="183.8" cy="408.2" r="0.38"/><circle cx="180.0" cy="406.2" r="0.38"/><circle cx="176.4" cy="411.4" r="0.38"/><circle cx="183.7" cy="413.1" r="0.38"/><circle cx="180.3" cy="410.8" r="0.38"/><circle cx="176.4" cy="413.2" r="0.38"/><circle cx="179.6" cy="411.0" r="0.38"/><circle cx="178.7" cy="412.9" r="0.38"/><circle cx="176.2" cy="412.4" r="0.38"/><circle cx="181.1" cy="413.2" r="0.38"/><circle cx="176.6" cy="411.0" r="0.38"/><circle cx="185.7" cy="410.1" r="0.38"/><circle cx="180.5" cy="405.7" r="0.38"/><circle cx="180.4" cy="412.1" r="0.38"/><circle cx="183.2" cy="412.2" r="0.38"/><circle cx="178.6" cy="411.9" r="0.38"/></g>
<text font-size="14.4" textLength="24.2" lengthAdjust="spacingAndGlyphs" fill="#1a1a1a" x="185.2" y="402.3">2.68</text>
<rect x="239.3" y="374.8" width="60.2" height="64.4" fill="#fff" stroke="#b4b4b4" stroke-width="0.8"/>
<text x="237.5" y="440.7" font-size="3.9" text-anchor="end" fill="#444">10<tspan dy="-1.4" font-size="2.6">0</tspan></text>
<text x="239.9" y="445.5" font-size="3.9" text-anchor="middle" fill="#444">10<tspan dy="-1.4" font-size="2.6">0</tspan></text>
<text x="237.5" y="424.6" font-size="3.9" text-anchor="end" fill="#444">10<tspan dy="-1.4" font-size="2.6">1</tspan></text>
<text x="255.0" y="445.5" font-size="3.9" text-anchor="middle" fill="#444">10<tspan dy="-1.4" font-size="2.6">1</tspan></text>
<text x="237.5" y="408.5" font-size="3.9" text-anchor="end" fill="#444">10<tspan dy="-1.4" font-size="2.6">2</tspan></text>
<text x="270.0" y="445.5" font-size="3.9" text-anchor="middle" fill="#444">10<tspan dy="-1.4" font-size="2.6">2</tspan></text>
<text x="237.5" y="392.4" font-size="3.9" text-anchor="end" fill="#444">10<tspan dy="-1.4" font-size="2.6">3</tspan></text>
<text x="285.1" y="445.5" font-size="3.9" text-anchor="middle" fill="#444">10<tspan dy="-1.4" font-size="2.6">3</tspan></text>
<text x="237.5" y="376.3" font-size="3.9" text-anchor="end" fill="#444">10<tspan dy="-1.4" font-size="2.6">4</tspan></text>
<text x="300.1" y="445.5" font-size="3.9" text-anchor="middle" fill="#444">10<tspan dy="-1.4" font-size="2.6">4</tspan></text>
<line x1="239.3" y1="440.4" x2="299.5" y2="440.4" stroke="#bbb" stroke-width="0.9" stroke-dasharray="0.5 1.6"/>
<line x1="238.2" y1="374.8" x2="238.2" y2="439.2" stroke="#bbb" stroke-width="0.9" stroke-dasharray="0.5 1.6"/>
<path d="M241.5,392.4 C241.5,379.4 256.9,377.4 257.1,391.4 L257.3,404.4 C257.3,413.4 245.3,413.4 242.7,405.4 C241.7,401.4 241.5,396.4 241.5,392.4 Z" fill="none" stroke="#8a8a8a" stroke-width="0.7"/>
<path d="M246.5,415.0 C247.5,407.0 252.5,404.0 255.5,405.0 C259.5,407.0 260.5,411.0 259.5,415.0 Z" fill="#f4f4f4" stroke="#999" stroke-width="0.5"/>
<path d="M248.5,415.0 C249.5,410.0 252.5,407.5 255.5,408.0 C258.5,409.0 259.1,412.0 258.5,415.0 Z" fill="#e6e6e6" stroke="#777" stroke-width="0.5"/>
<g transform="translate(251.5 419.0) rotate(-46)"><ellipse rx="11.2" ry="5.4" fill="#fafafa" stroke="#777" stroke-width="0.5"/><ellipse rx="9.6" ry="4.4" fill="#e4e4e4" stroke="#555" stroke-width="0.5"/><ellipse rx="8.1" ry="3.5" fill="#bbb" stroke="#444" stroke-width="0.5"/><ellipse rx="6.9" ry="2.8" fill="#666" stroke="#222" stroke-width="0.5"/><ellipse rx="5.6" ry="2.1" fill="#111"/><ellipse rx="2.9" ry="0.4" fill="#ddd"/></g>
<g fill="#4a4a4a"><circle cx="245.9" cy="410.4" r="0.38"/><circle cx="251.8" cy="411.4" r="0.38"/><circle cx="254.4" cy="408.1" r="0.38"/><circle cx="247.4" cy="411.5" r="0.38"/><circle cx="251.8" cy="412.9" r="0.38"/><circle cx="250.0" cy="410.6" r="0.38"/><circle cx="256.5" cy="410.4" r="0.38"/><circle cx="247.9" cy="409.5" r="0.38"/><circle cx="255.4" cy="410.5" r="0.38"/><circle cx="255.7" cy="411.1" r="0.38"/><circle cx="248.7" cy="412.7" r="0.38"/><circle cx="245.4" cy="411.3" r="0.38"/><circle cx="250.8" cy="411.9" r="0.38"/><circle cx="249.1" cy="413.1" r="0.38"/><circle cx="252.2" cy="412.4" r="0.38"/><circle cx="252.7" cy="412.9" r="0.38"/><circle cx="250.2" cy="411.1" r="0.38"/><circle cx="251.1" cy="411.0" r="0.38"/><circle cx="249.4" cy="413.5" r="0.38"/><circle cx="250.7" cy="413.0" r="0.38"/><circle cx="251.0" cy="413.0" r="0.38"/><circle cx="250.7" cy="409.7" r="0.38"/><circle cx="252.1" cy="410.3" r="0.38"/><circle cx="252.1" cy="412.9" r="0.38"/></g>
<text font-size="14.4" textLength="24.2" lengthAdjust="spacingAndGlyphs" fill="#1a1a1a" x="258.4" y="401.6">3.05</text>
<rect x="24.3" y="451.3" width="60.2" height="64.4" fill="#fff" stroke="#b4b4b4" stroke-width="0.8"/>
<text x="22.5" y="517.2" font-size="3.9" text-anchor="end" fill="#444">10<tspan dy="-1.4" font-size="2.6">0</tspan></text>
<text x="24.9" y="522.0" font-size="3.9" text-anchor="middle" fill="#444">10<tspan dy="-1.4" font-size="2.6">0</tspan></text>
<text x="22.5" y="501.1" font-size="3.9" text-anchor="end" fill="#444">10<tspan dy="-1.4" font-size="2.6">1</tspan></text>
<text x="40.0" y="522.0" font-size="3.9" text-anchor="middle" fill="#444">10<tspan dy="-1.4" font-size="2.6">1</tspan></text>
<text x="22.5" y="485.0" font-size="3.9" text-anchor="end" fill="#444">10<tspan dy="-1.4" font-size="2.6">2</tspan></text>
<text x="55.0" y="522.0" font-size="3.9" text-anchor="middle" fill="#444">10<tspan dy="-1.4" font-size="2.6">2</tspan></text>
<text x="22.5" y="468.9" font-size="3.9" text-anchor="end" fill="#444">10<tspan dy="-1.4" font-size="2.6">3</tspan></text>
<text x="70.0" y="522.0" font-size="3.9" text-anchor="middle" fill="#444">10<tspan dy="-1.4" font-size="2.6">3</tspan></text>
<text x="22.5" y="452.8" font-size="3.9" text-anchor="end" fill="#444">10<tspan dy="-1.4" font-size="2.6">4</tspan></text>
<text x="85.1" y="522.0" font-size="3.9" text-anchor="middle" fill="#444">10<tspan dy="-1.4" font-size="2.6">4</tspan></text>
<line x1="24.3" y1="516.9" x2="84.5" y2="516.9" stroke="#bbb" stroke-width="0.9" stroke-dasharray="0.5 1.6"/>
<line x1="23.2" y1="451.3" x2="23.2" y2="515.7" stroke="#bbb" stroke-width="0.9" stroke-dasharray="0.5 1.6"/>
<path d="M26.9,474.9 C26.9,461.9 42.3,459.9 42.5,473.9 L42.7,486.9 C42.7,495.9 30.7,495.9 28.1,487.9 C27.1,483.9 26.9,478.9 26.9,474.9 Z" fill="none" stroke="#8a8a8a" stroke-width="0.7"/>
<path d="M29.1,496.7 C29.6,484.7 32.6,471.3 36.1,471.3 C39.6,471.3 42.6,482.7 44.6,491.7 Z" fill="#f2f2f2" stroke="#aaa" stroke-width="0.5"/>
<path d="M29.6,496.7 C30.2,486.7 33.1,475.3 36.1,475.3 C39.1,475.3 41.6,484.7 44.0,491.7 Z" fill="#e2e2e2" stroke="#888" stroke-width="0.5"/>
<path d="M30.2,496.7 C31.0,488.7 33.6,478.8 36.0,478.8 C38.2,478.8 41.0,485.7 43.4,491.2 Z" fill="#c4c4c4" stroke="#444" stroke-width="1.1" stroke-linejoin="round"/>
<path d="M32.4,494.2 L36.0,483.8 L40.6,490.7 Z" fill="#fff" stroke="#eee" stroke-width="0.6" stroke-linejoin="round"/>
<g transform="translate(37.1 496.7) rotate(-40)"><ellipse rx="10.4" ry="3.7" fill="#fdfdfd" stroke="#6a6a6a" stroke-width="0.55"/><ellipse rx="9.0" ry="2.7" fill="#c8c8c8" stroke="#444" stroke-width="0.6"/><ellipse rx="7.7" ry="2.1" fill="#777" stroke="#222" stroke-width="0.5"/><ellipse rx="6.5" ry="1.4" fill="#000"/></g>
<g fill="#4a4a4a"><circle cx="37.8" cy="483.5" r="0.38"/><circle cx="31.7" cy="490.7" r="0.38"/><circle cx="34.2" cy="485.3" r="0.38"/><circle cx="33.8" cy="470.2" r="0.38"/><circle cx="33.9" cy="478.6" r="0.38"/><circle cx="35.6" cy="480.2" r="0.38"/><circle cx="34.6" cy="487.0" r="0.38"/><circle cx="37.9" cy="489.8" r="0.38"/><circle cx="40.5" cy="485.5" r="0.38"/><circle cx="36.5" cy="486.4" r="0.38"/><circle cx="40.9" cy="483.4" r="0.38"/><circle cx="39.3" cy="482.5" r="0.38"/><circle cx="36.2" cy="485.4" r="0.38"/><circle cx="35.8" cy="482.6" r="0.38"/><circle cx="38.2" cy="483.9" r="0.38"/><circle cx="36.0" cy="470.8" r="0.38"/><circle cx="39.8" cy="489.5" r="0.38"/><circle cx="36.8" cy="470.4" r="0.38"/><circle cx="35.7" cy="484.2" r="0.38"/><circle cx="39.1" cy="491.1" r="0.38"/><circle cx="33.6" cy="489.7" r="0.38"/><circle cx="37.5" cy="482.2" r="0.38"/><circle cx="38.6" cy="491.0" r="0.38"/><circle cx="38.8" cy="486.9" r="0.38"/><circle cx="37.1" cy="490.8" r="0.38"/><circle cx="36.0" cy="485.7" r="0.38"/><circle cx="33.9" cy="486.2" r="0.38"/><circle cx="36.6" cy="479.5" r="0.38"/><circle cx="35.5" cy="475.1" r="0.38"/><circle cx="34.8" cy="486.7" r="0.38"/><circle cx="38.1" cy="490.8" r="0.38"/><circle cx="36.0" cy="479.9" r="0.38"/><circle cx="41.4" cy="487.1" r="0.38"/><circle cx="39.4" cy="484.1" r="0.38"/><circle cx="36.1" cy="476.6" r="0.38"/><circle cx="38.6" cy="483.7" r="0.38"/><circle cx="31.7" cy="490.8" r="0.38"/><circle cx="38.2" cy="477.1" r="0.38"/><circle cx="31.9" cy="482.7" r="0.38"/><circle cx="35.0" cy="480.0" r="0.38"/><circle cx="36.7" cy="489.2" r="0.38"/><circle cx="38.2" cy="485.6" r="0.38"/><circle cx="40.5" cy="481.9" r="0.38"/><circle cx="33.2" cy="487.2" r="0.38"/></g>
<text font-size="14.4" textLength="24.8" lengthAdjust="spacingAndGlyphs" fill="#1a1a1a" x="43.1" y="475.8">12.9</text>
<rect x="94.6" y="451.3" width="60.2" height="64.4" fill="#fff" stroke="#b4b4b4" stroke-width="0.8"/>
<text x="92.8" y="517.2" font-size="3.9" text-anchor="end" fill="#444">10<tspan dy="-1.4" font-size="2.6">0</tspan></text>
<text x="95.2" y="522.0" font-size="3.9" text-anchor="middle" fill="#444">10<tspan dy="-1.4" font-size="2.6">0</tspan></text>
<text x="92.8" y="501.1" font-size="3.9" text-anchor="end" fill="#444">10<tspan dy="-1.4" font-size="2.6">1</tspan></text>
<text x="110.2" y="522.0" font-size="3.9" text-anchor="middle" fill="#444">10<tspan dy="-1.4" font-size="2.6">1</tspan></text>
<text x="92.8" y="485.0" font-size="3.9" text-anchor="end" fill="#444">10<tspan dy="-1.4" font-size="2.6">2</tspan></text>
<text x="125.3" y="522.0" font-size="3.9" text-anchor="middle" fill="#444">10<tspan dy="-1.4" font-size="2.6">2</tspan></text>
<text x="92.8" y="468.9" font-size="3.9" text-anchor="end" fill="#444">10<tspan dy="-1.4" font-size="2.6">3</tspan></text>
<text x="140.3" y="522.0" font-size="3.9" text-anchor="middle" fill="#444">10<tspan dy="-1.4" font-size="2.6">3</tspan></text>
<text x="92.8" y="452.8" font-size="3.9" text-anchor="end" fill="#444">10<tspan dy="-1.4" font-size="2.6">4</tspan></text>
<text x="155.4" y="522.0" font-size="3.9" text-anchor="middle" fill="#444">10<tspan dy="-1.4" font-size="2.6">4</tspan></text>
<line x1="94.6" y1="516.9" x2="154.8" y2="516.9" stroke="#bbb" stroke-width="0.9" stroke-dasharray="0.5 1.6"/>
<line x1="93.5" y1="451.3" x2="93.5" y2="515.7" stroke="#bbb" stroke-width="0.9" stroke-dasharray="0.5 1.6"/>
<path d="M97.2,474.9 C97.2,461.9 112.6,459.9 112.8,473.9 L113.0,486.9 C113.0,495.9 101.0,495.9 98.4,487.9 C97.4,483.9 97.2,478.9 97.2,474.9 Z" fill="none" stroke="#8a8a8a" stroke-width="0.7"/>
<path d="M99.4,496.7 C99.9,484.7 102.9,471.3 106.4,471.3 C109.9,471.3 112.9,482.7 114.9,491.7 Z" fill="#f2f2f2" stroke="#aaa" stroke-width="0.5"/>
<path d="M99.9,496.7 C100.5,486.7 103.4,475.3 106.4,475.3 C109.4,475.3 111.9,484.7 114.3,491.7 Z" fill="#e2e2e2" stroke="#888" stroke-width="0.5"/>
<path d="M100.5,496.7 C101.3,488.7 103.9,478.8 106.3,478.8 C108.5,478.8 111.3,485.7 113.7,491.2 Z" fill="#c4c4c4" stroke="#444" stroke-width="1.1" stroke-linejoin="round"/>
<path d="M102.7,494.2 L106.3,483.8 L110.9,490.7 Z" fill="#fff" stroke="#eee" stroke-width="0.6" stroke-linejoin="round"/>
<g transform="translate(107.4 496.7) rotate(-40)"><ellipse rx="10.4" ry="3.7" fill="#fdfdfd" stroke="#6a6a6a" stroke-width="0.55"/><ellipse rx="9.0" ry="2.7" fill="#c8c8c8" stroke="#444" stroke-width="0.6"/><ellipse rx="7.7" ry="2.1" fill="#777" stroke="#222" stroke-width="0.5"/><ellipse rx="6.5" ry="1.4" fill="#000"/></g>
<g fill="#4a4a4a"><circle cx="104.1" cy="482.6" r="0.38"/><circle cx="106.7" cy="491.2" r="0.38"/><circle cx="108.2" cy="478.5" r="0.38"/><circle cx="103.7" cy="491.0" r="0.38"/><circle cx="106.4" cy="488.7" r="0.38"/><circle cx="106.7" cy="485.1" r="0.38"/><circle cx="108.7" cy="488.4" r="0.38"/><circle cx="106.7" cy="485.8" r="0.38"/><circle cx="106.4" cy="469.4" r="0.38"/><circle cx="104.3" cy="490.9" r="0.38"/><circle cx="103.0" cy="489.6" r="0.38"/><circle cx="107.3" cy="480.2" r="0.38"/><circle cx="106.2" cy="488.7" r="0.38"/><circle cx="108.1" cy="486.3" r="0.38"/><circle cx="106.8" cy="484.4" r="0.38"/><circle cx="106.5" cy="490.7" r="0.38"/><circle cx="108.8" cy="488.8" r="0.38"/><circle cx="105.0" cy="480.4" r="0.38"/><circle cx="105.9" cy="485.3" r="0.38"/><circle cx="104.0" cy="490.3" r="0.38"/><circle cx="105.6" cy="490.4" r="0.38"/><circle cx="108.3" cy="487.9" r="0.38"/><circle cx="112.9" cy="488.6" r="0.38"/><circle cx="109.8" cy="490.2" r="0.38"/><circle cx="109.8" cy="472.2" r="0.38"/><circle cx="104.9" cy="489.2" r="0.38"/><circle cx="108.5" cy="472.5" r="0.38"/><circle cx="107.7" cy="481.0" r="0.38"/><circle cx="108.9" cy="483.6" r="0.38"/><circle cx="108.2" cy="490.0" r="0.38"/><circle cx="108.2" cy="482.6" r="0.38"/><circle cx="110.0" cy="483.1" r="0.38"/><circle cx="107.5" cy="474.2" r="0.38"/><circle cx="106.3" cy="491.0" r="0.38"/><circle cx="109.9" cy="491.0" r="0.38"/><circle cx="104.8" cy="489.1" r="0.38"/><circle cx="108.4" cy="485.5" r="0.38"/><circle cx="104.9" cy="477.2" r="0.38"/><circle cx="111.2" cy="491.1" r="0.38"/><circle cx="107.6" cy="487.8" r="0.38"/><circle cx="110.6" cy="485.6" r="0.38"/><circle cx="108.7" cy="487.4" r="0.38"/><circle cx="105.1" cy="485.5" r="0.38"/><circle cx="110.4" cy="491.1" r="0.38"/></g>
<text font-size="14.4" textLength="24.2" lengthAdjust="spacingAndGlyphs" fill="#1a1a1a" x="114.2" y="474.2">10.1</text>
<rect x="167.1" y="451.3" width="59.7" height="64.4" fill="#fff" stroke="#b4b4b4" stroke-width="0.8"/>
<text x="165.3" y="517.2" font-size="3.9" text-anchor="end" fill="#444">10<tspan dy="-1.4" font-size="2.6">0</tspan></text>
<text x="167.7" y="522.0" font-size="3.9" text-anchor="middle" fill="#444">10<tspan dy="-1.4" font-size="2.6">0</tspan></text>
<text x="165.3" y="501.1" font-size="3.9" text-anchor="end" fill="#444">10<tspan dy="-1.4" font-size="2.6">1</tspan></text>
<text x="182.6" y="522.0" font-size="3.9" text-anchor="middle" fill="#444">10<tspan dy="-1.4" font-size="2.6">1</tspan></text>
<text x="165.3" y="485.0" font-size="3.9" text-anchor="end" fill="#444">10<tspan dy="-1.4" font-size="2.6">2</tspan></text>
<text x="197.5" y="522.0" font-size="3.9" text-anchor="middle" fill="#444">10<tspan dy="-1.4" font-size="2.6">2</tspan></text>
<text x="165.3" y="468.9" font-size="3.9" text-anchor="end" fill="#444">10<tspan dy="-1.4" font-size="2.6">3</tspan></text>
<text x="212.5" y="522.0" font-size="3.9" text-anchor="middle" fill="#444">10<tspan dy="-1.4" font-size="2.6">3</tspan></text>
<text x="165.3" y="452.8" font-size="3.9" text-anchor="end" fill="#444">10<tspan dy="-1.4" font-size="2.6">4</tspan></text>
<text x="227.4" y="522.0" font-size="3.9" text-anchor="middle" fill="#444">10<tspan dy="-1.4" font-size="2.6">4</tspan></text>
<line x1="167.1" y1="516.9" x2="226.8" y2="516.9" stroke="#bbb" stroke-width="0.9" stroke-dasharray="0.5 1.6"/>
<line x1="166.0" y1="451.3" x2="166.0" y2="515.7" stroke="#bbb" stroke-width="0.9" stroke-dasharray="0.5 1.6"/>
<path d="M169.3,468.9 C169.3,455.9 184.7,453.9 184.9,467.9 L185.1,480.9 C185.1,489.9 173.1,489.9 170.5,481.9 C169.5,477.9 169.3,472.9 169.3,468.9 Z" fill="none" stroke="#8a8a8a" stroke-width="0.7"/>
<path d="M171.3,495.5 C171.8,483.5 174.8,471.3 178.3,471.3 C181.8,471.3 184.8,481.5 186.8,490.5 Z" fill="#f2f2f2" stroke="#aaa" stroke-width="0.5"/>
<path d="M171.8,495.5 C172.4,485.5 175.3,475.3 178.3,475.3 C181.3,475.3 183.8,483.5 186.2,490.5 Z" fill="#e2e2e2" stroke="#888" stroke-width="0.5"/>
<path d="M172.4,495.5 C173.2,487.5 175.8,478.8 178.2,478.8 C180.4,478.8 183.2,484.5 185.6,490.0 Z" fill="#c4c4c4" stroke="#444" stroke-width="1.1" stroke-linejoin="round"/>
<path d="M174.6,493.0 L178.2,483.8 L182.8,489.5 Z" fill="#fff" stroke="#eee" stroke-width="0.6" stroke-linejoin="round"/>
<g transform="translate(179.3 495.5) rotate(-46)"><ellipse rx="10.1" ry="5.4" fill="#fafafa" stroke="#777" stroke-width="0.5"/><ellipse rx="8.7" ry="4.4" fill="#e4e4e4" stroke="#555" stroke-width="0.5"/><ellipse rx="7.3" ry="3.5" fill="#bbb" stroke="#444" stroke-width="0.5"/><ellipse rx="6.2" ry="2.8" fill="#666" stroke="#222" stroke-width="0.5"/><ellipse rx="5.0" ry="2.1" fill="#111"/><ellipse rx="2.6" ry="0.4" fill="#ddd"/></g>
<g fill="#4a4a4a"><circle cx="177.0" cy="483.5" r="0.38"/><circle cx="178.7" cy="487.5" r="0.38"/><circle cx="182.8" cy="480.9" r="0.38"/><circle cx="177.4" cy="471.7" r="0.38"/><circle cx="178.8" cy="483.7" r="0.38"/><circle cx="177.1" cy="489.6" r="0.38"/><circle cx="174.3" cy="475.7" r="0.38"/><circle cx="182.4" cy="480.3" r="0.38"/><circle cx="174.9" cy="477.0" r="0.38"/><circle cx="181.9" cy="486.3" r="0.38"/><circle cx="178.6" cy="487.5" r="0.38"/><circle cx="178.5" cy="481.3" r="0.38"/><circle cx="178.9" cy="478.5" r="0.38"/><circle cx="178.6" cy="487.5" r="0.38"/><circle cx="180.0" cy="488.1" r="0.38"/><circle cx="176.5" cy="488.7" r="0.38"/><circle cx="177.5" cy="477.5" r="0.38"/><circle cx="180.8" cy="489.1" r="0.38"/><circle cx="177.6" cy="484.4" r="0.38"/><circle cx="176.4" cy="487.2" r="0.38"/><circle cx="179.6" cy="485.9" r="0.38"/><circle cx="180.3" cy="473.2" r="0.38"/><circle cx="177.0" cy="489.9" r="0.38"/><circle cx="186.1" cy="475.1" r="0.38"/><circle cx="177.4" cy="488.6" r="0.38"/><circle cx="179.2" cy="486.7" r="0.38"/><circle cx="178.2" cy="487.1" r="0.38"/><circle cx="178.9" cy="483.8" r="0.38"/><circle cx="173.9" cy="482.9" r="0.38"/><circle cx="178.8" cy="481.7" r="0.38"/><circle cx="176.1" cy="485.0" r="0.38"/><circle cx="177.1" cy="484.9" r="0.38"/><circle cx="180.7" cy="487.5" r="0.38"/><circle cx="180.1" cy="489.2" r="0.38"/><circle cx="175.1" cy="489.8" r="0.38"/><circle cx="180.0" cy="485.8" r="0.38"/><circle cx="178.5" cy="484.0" r="0.38"/><circle cx="176.5" cy="484.9" r="0.38"/><circle cx="183.6" cy="485.6" r="0.38"/><circle cx="179.2" cy="488.8" r="0.38"/><circle cx="182.8" cy="487.5" r="0.38"/><circle cx="181.1" cy="484.5" r="0.38"/><circle cx="178.8" cy="489.9" r="0.38"/><circle cx="174.2" cy="478.5" r="0.38"/></g>
<text font-size="14.4" textLength="24.2" lengthAdjust="spacingAndGlyphs" fill="#1a1a1a" x="184.4" y="478.6">13.2</text>
<rect x="239.3" y="451.3" width="60.2" height="64.4" fill="#fff" stroke="#b4b4b4" stroke-width="0.8"/>
<text x="237.5" y="517.2" font-size="3.9" text-anchor="end" fill="#444">10<tspan dy="-1.4" font-size="2.6">0</tspan></text>
<text x="239.9" y="522.0" font-size="3.9" text-anchor="middle" fill="#444">10<tspan dy="-1.4" font-size="2.6">0</tspan></text>
<text x="237.5" y="501.1" font-size="3.9" text-anchor="end" fill="#444">10<tspan dy="-1.4" font-size="2.6">1</tspan></text>
<text x="255.0" y="522.0" font-size="3.9" text-anchor="middle" fill="#444">10<tspan dy="-1.4" font-size="2.6">1</tspan></text>
<text x="237.5" y="485.0" font-size="3.9" text-anchor="end" fill="#444">10<tspan dy="-1.4" font-size="2.6">2</tspan></text>
<text x="270.0" y="522.0" font-size="3.9" text-anchor="middle" fill="#444">10<tspan dy="-1.4" font-size="2.6">2</tspan></text>
<text x="237.5" y="468.9" font-size="3.9" text-anchor="end" fill="#444">10<tspan dy="-1.4" font-size="2.6">3</tspan></text>
<text x="285.1" y="522.0" font-size="3.9" text-anchor="middle" fill="#444">10<tspan dy="-1.4" font-size="2.6">3</tspan></text>
<text x="237.5" y="452.8" font-size="3.9" text-anchor="end" fill="#444">10<tspan dy="-1.4" font-size="2.6">4</tspan></text>
<text x="300.1" y="522.0" font-size="3.9" text-anchor="middle" fill="#444">10<tspan dy="-1.4" font-size="2.6">4</tspan></text>
<line x1="239.3" y1="516.9" x2="299.5" y2="516.9" stroke="#bbb" stroke-width="0.9" stroke-dasharray="0.5 1.6"/>
<line x1="238.2" y1="451.3" x2="238.2" y2="515.7" stroke="#bbb" stroke-width="0.9" stroke-dasharray="0.5 1.6"/>
<path d="M241.5,468.9 C241.5,455.9 256.9,453.9 257.1,467.9 L257.3,480.9 C257.3,489.9 245.3,489.9 242.7,481.9 C241.7,477.9 241.5,472.9 241.5,468.9 Z" fill="none" stroke="#8a8a8a" stroke-width="0.7"/>
<path d="M243.5,495.5 C244.0,483.5 247.0,471.3 250.5,471.3 C254.0,471.3 257.0,481.5 259.0,490.5 Z" fill="#f2f2f2" stroke="#aaa" stroke-width="0.5"/>
<path d="M244.0,495.5 C244.6,485.5 247.5,475.3 250.5,475.3 C253.5,475.3 256.0,483.5 258.4,490.5 Z" fill="#e2e2e2" stroke="#888" stroke-width="0.5"/>
<path d="M244.6,495.5 C245.4,487.5 248.0,478.8 250.4,478.8 C252.6,478.8 255.4,484.5 257.8,490.0 Z" fill="#c4c4c4" stroke="#444" stroke-width="1.1" stroke-linejoin="round"/>
<path d="M246.8,493.0 L250.4,483.8 L255.0,489.5 Z" fill="#fff" stroke="#eee" stroke-width="0.6" stroke-linejoin="round"/>
<g transform="translate(251.5 495.5) rotate(-46)"><ellipse rx="10.1" ry="5.4" fill="#fafafa" stroke="#777" stroke-width="0.5"/><ellipse rx="8.7" ry="4.4" fill="#e4e4e4" stroke="#555" stroke-width="0.5"/><ellipse rx="7.3" ry="3.5" fill="#bbb" stroke="#444" stroke-width="0.5"/><ellipse rx="6.2" ry="2.8" fill="#666" stroke="#222" stroke-width="0.5"/><ellipse rx="5.0" ry="2.1" fill="#111"/><ellipse rx="2.6" ry="0.4" fill="#ddd"/></g>
<g fill="#4a4a4a"><circle cx="253.3" cy="476.0" r="0.38"/><circle cx="252.9" cy="489.0" r="0.38"/><circle cx="252.2" cy="487.1" r="0.38"/><circle cx="247.1" cy="488.3" r="0.38"/><circle cx="254.9" cy="485.4" r="0.38"/><circle cx="248.3" cy="479.1" r="0.38"/><circle cx="247.8" cy="487.3" r="0.38"/><circle cx="255.4" cy="486.6" r="0.38"/><circle cx="251.6" cy="472.1" r="0.38"/><circle cx="249.6" cy="484.6" r="0.38"/><circle cx="252.4" cy="485.6" r="0.38"/><circle cx="248.4" cy="480.6" r="0.38"/><circle cx="251.8" cy="488.0" r="0.38"/><circle cx="247.6" cy="488.4" r="0.38"/><circle cx="249.6" cy="486.3" r="0.38"/><circle cx="250.7" cy="489.3" r="0.38"/><circle cx="250.1" cy="481.6" r="0.38"/><circle cx="254.6" cy="487.1" r="0.38"/><circle cx="253.2" cy="483.9" r="0.38"/><circle cx="251.2" cy="484.0" r="0.38"/><circle cx="254.9" cy="486.9" r="0.38"/><circle cx="250.8" cy="488.4" r="0.38"/><circle cx="247.1" cy="489.9" r="0.38"/><circle cx="249.2" cy="487.0" r="0.38"/><circle cx="248.1" cy="474.2" r="0.38"/><circle cx="251.1" cy="487.9" r="0.38"/><circle cx="249.6" cy="482.9" r="0.38"/><circle cx="250.3" cy="485.2" r="0.38"/><circle cx="252.2" cy="477.5" r="0.38"/><circle cx="249.2" cy="489.8" r="0.38"/><circle cx="253.2" cy="488.7" r="0.38"/><circle cx="251.8" cy="484.8" r="0.38"/><circle cx="251.8" cy="476.7" r="0.38"/><circle cx="249.2" cy="471.1" r="0.38"/><circle cx="249.3" cy="489.9" r="0.38"/><circle cx="251.5" cy="481.8" r="0.38"/><circle cx="247.8" cy="473.2" r="0.38"/><circle cx="252.6" cy="483.6" r="0.38"/><circle cx="252.6" cy="469.0" r="0.38"/><circle cx="251.5" cy="488.0" r="0.38"/><circle cx="253.4" cy="487.0" r="0.38"/><circle cx="255.3" cy="480.1" r="0.38"/><circle cx="250.0" cy="462.4" r="0.38"/><circle cx="253.1" cy="487.0" r="0.38"/></g>
<text font-size="14.4" textLength="21.2" lengthAdjust="spacingAndGlyphs" fill="#1a1a1a" x="258.1" y="472.4">11.9</text>
<text font-size="22.2" font-weight="bold" class="m" x="326.8" y="285.3">D</text>
<text font-size="16" textLength="41.0" lengthAdjust="spacingAndGlyphs" class="m" x="431.5" y="291.5">+Treg</text>
<text font-size="15.6" textLength="26.6" lengthAdjust="spacingAndGlyphs" class="m" transform="translate(341.2 329.2) rotate(-90)">IL-6</text>
<line x1="344.0" y1="300.0" x2="344.0" y2="588.3" stroke="#222" stroke-width="1.4"/>
<polygon points="344.3,295.9 342.1,300.8 346.5,300.8" fill="#111"/>
<line x1="355.7" y1="599.3" x2="484.0" y2="599.3" stroke="#111" stroke-width="1.4"/>
<polygon points="488.2,599.3 483.3,597 483.3,601.6" fill="#111"/>
<text font-size="14.8" textLength="32.0" lengthAdjust="spacingAndGlyphs" class="m" x="450.8" y="611.9">CD4</text>
<line x1="504.0" y1="372.0" x2="504.0" y2="590.0" stroke="#222" stroke-width="1.5"/>
<text font-size="16.4" textLength="64.6" lengthAdjust="spacingAndGlyphs" class="m" transform="translate(507.3 444.2) rotate(90)">+BMMCs</text>
<text font-size="16.4" textLength="24.0" lengthAdjust="spacingAndGlyphs" class="m" transform="translate(490.2 465.4) rotate(90)">IgE</text>
<text font-size="16.4" textLength="47.4" lengthAdjust="spacingAndGlyphs" class="m" transform="translate(490.2 533.4) rotate(90)">IgE-Ag</text>
<rect x="355.2" y="296.3" width="59.5" height="64.3" fill="#fff" stroke="#b4b4b4" stroke-width="0.8"/>
<text x="353.4" y="362.1" font-size="3.9" text-anchor="end" fill="#444">10<tspan dy="-1.4" font-size="2.6">0</tspan></text>
<text x="355.8" y="366.9" font-size="3.9" text-anchor="middle" fill="#444">10<tspan dy="-1.4" font-size="2.6">0</tspan></text>
<text x="353.4" y="346.0" font-size="3.9" text-anchor="end" fill="#444">10<tspan dy="-1.4" font-size="2.6">1</tspan></text>
<text x="370.7" y="366.9" font-size="3.9" text-anchor="middle" fill="#444">10<tspan dy="-1.4" font-size="2.6">1</tspan></text>
<text x="353.4" y="330.0" font-size="3.9" text-anchor="end" fill="#444">10<tspan dy="-1.4" font-size="2.6">2</tspan></text>
<text x="385.6" y="366.9" font-size="3.9" text-anchor="middle" fill="#444">10<tspan dy="-1.4" font-size="2.6">2</tspan></text>
<text x="353.4" y="313.9" font-size="3.9" text-anchor="end" fill="#444">10<tspan dy="-1.4" font-size="2.6">3</tspan></text>
<text x="400.4" y="366.9" font-size="3.9" text-anchor="middle" fill="#444">10<tspan dy="-1.4" font-size="2.6">3</tspan></text>
<text x="353.4" y="297.8" font-size="3.9" text-anchor="end" fill="#444">10<tspan dy="-1.4" font-size="2.6">4</tspan></text>
<text x="415.3" y="366.9" font-size="3.9" text-anchor="middle" fill="#444">10<tspan dy="-1.4" font-size="2.6">4</tspan></text>
<line x1="355.2" y1="361.8" x2="414.7" y2="361.8" stroke="#bbb" stroke-width="0.9" stroke-dasharray="0.5 1.6"/>
<line x1="354.1" y1="296.3" x2="354.1" y2="360.6" stroke="#bbb" stroke-width="0.9" stroke-dasharray="0.5 1.6"/>
<ellipse cx="379.2" cy="313.3" rx="9.7" ry="14.9" fill="none" stroke="#a8a8a8" stroke-width="0.7"/>
<path d="M377.9,360.0 C377.5,356.0 374.7,355.0 374.9,349.0 C375.1,344.0 377.5,341.2 380.3,341.2 C383.1,341.2 385.5,344.0 385.7,349.0 C385.9,355.0 383.1,356.0 382.7,360.0 Z" fill="#9a9a9a" stroke="#000" stroke-width="1.9"/>
<path d="M378.8,356.0 C378.6,353.5 376.8,352.9 377.0,349.2 C377.1,346.1 378.6,344.3 380.3,344.3 C382.0,344.3 383.5,346.1 383.6,349.2 C383.8,352.9 382.0,353.5 381.8,356.0 Z" fill="#e6e6e6" stroke="#f4f4f4" stroke-width="0.6"/>
<path d="M379.6,352.2 C379.5,351.0 378.6,350.7 378.7,348.9 C378.7,347.4 379.5,346.6 380.3,346.6 C381.1,346.6 381.9,347.4 381.9,348.9 C382.0,350.7 381.1,351.0 381.0,352.2 Z" fill="#999"/>
<line x1="379.1" y1="347.0" x2="379.1" y2="355.0" stroke="#888" stroke-width="0.5"/>
<line x1="381.5" y1="347.0" x2="381.5" y2="355.0" stroke="#888" stroke-width="0.5"/>
<g fill="#222"><circle cx="388.0" cy="345.1" r="0.42"/><circle cx="387.6" cy="346.0" r="0.42"/><circle cx="386.7" cy="348.0" r="0.42"/><circle cx="381.8" cy="338.5" r="0.42"/><circle cx="386.4" cy="345.0" r="0.42"/><circle cx="386.5" cy="344.7" r="0.42"/><circle cx="388.3" cy="345.9" r="0.42"/><circle cx="383.1" cy="341.7" r="0.42"/><circle cx="386.6" cy="351.5" r="0.42"/><circle cx="373.5" cy="349.6" r="0.42"/><circle cx="381.6" cy="340.1" r="0.42"/><circle cx="377.5" cy="340.9" r="0.42"/><circle cx="383.9" cy="341.5" r="0.42"/><circle cx="372.5" cy="349.4" r="0.42"/><circle cx="381.5" cy="340.4" r="0.42"/><circle cx="386.6" cy="345.4" r="0.42"/><circle cx="384.2" cy="339.6" r="0.42"/><circle cx="374.1" cy="342.6" r="0.42"/><circle cx="386.8" cy="346.5" r="0.42"/><circle cx="383.7" cy="342.0" r="0.42"/><circle cx="385.2" cy="344.1" r="0.42"/><circle cx="385.4" cy="340.4" r="0.42"/><circle cx="387.2" cy="351.0" r="0.42"/><circle cx="388.2" cy="348.4" r="0.42"/><circle cx="382.1" cy="339.6" r="0.42"/><circle cx="373.8" cy="342.8" r="0.42"/><circle cx="386.6" cy="342.6" r="0.42"/><circle cx="388.3" cy="348.2" r="0.42"/><circle cx="385.5" cy="344.2" r="0.42"/><circle cx="381.2" cy="340.0" r="0.42"/><circle cx="380.2" cy="340.1" r="0.42"/><circle cx="387.7" cy="343.9" r="0.42"/><circle cx="372.7" cy="345.4" r="0.42"/><circle cx="387.2" cy="349.4" r="0.42"/><circle cx="372.6" cy="351.7" r="0.42"/><circle cx="388.5" cy="347.9" r="0.42"/><circle cx="386.6" cy="342.0" r="0.42"/><circle cx="387.1" cy="350.2" r="0.42"/><circle cx="384.8" cy="342.6" r="0.42"/><circle cx="384.2" cy="342.8" r="0.42"/><circle cx="383.6" cy="341.1" r="0.42"/><circle cx="386.1" cy="346.3" r="0.42"/><circle cx="388.1" cy="349.8" r="0.42"/><circle cx="387.2" cy="347.3" r="0.42"/><circle cx="386.8" cy="346.6" r="0.42"/><circle cx="382.3" cy="339.0" r="0.42"/><circle cx="383.4" cy="341.4" r="0.42"/><circle cx="385.7" cy="345.6" r="0.42"/><circle cx="383.1" cy="339.3" r="0.42"/><circle cx="385.4" cy="344.0" r="0.42"/><circle cx="386.2" cy="341.7" r="0.42"/><circle cx="387.6" cy="347.7" r="0.42"/><circle cx="387.4" cy="343.7" r="0.42"/><circle cx="389.0" cy="350.4" r="0.42"/><circle cx="389.0" cy="351.9" r="0.42"/><circle cx="373.1" cy="349.8" r="0.42"/><circle cx="384.3" cy="340.0" r="0.42"/><circle cx="386.3" cy="344.5" r="0.42"/><circle cx="386.3" cy="346.1" r="0.42"/><circle cx="387.4" cy="348.4" r="0.42"/><circle cx="386.8" cy="342.6" r="0.42"/><circle cx="375.3" cy="344.4" r="0.42"/><circle cx="385.6" cy="342.3" r="0.42"/><circle cx="386.7" cy="345.4" r="0.42"/><circle cx="387.6" cy="352.3" r="0.42"/><circle cx="384.1" cy="341.0" r="0.42"/><circle cx="386.5" cy="344.6" r="0.42"/><circle cx="386.8" cy="351.0" r="0.42"/><circle cx="385.4" cy="342.3" r="0.42"/><circle cx="388.4" cy="349.4" r="0.42"/><circle cx="386.1" cy="346.5" r="0.42"/><circle cx="373.7" cy="350.8" r="0.42"/><circle cx="372.3" cy="352.7" r="0.42"/><circle cx="381.9" cy="338.5" r="0.42"/><circle cx="373.7" cy="349.5" r="0.42"/><circle cx="383.6" cy="342.0" r="0.42"/><circle cx="384.0" cy="339.6" r="0.42"/><circle cx="387.5" cy="347.1" r="0.42"/><circle cx="386.8" cy="347.3" r="0.42"/><circle cx="381.7" cy="340.6" r="0.42"/><circle cx="384.4" cy="339.9" r="0.42"/><circle cx="387.7" cy="348.2" r="0.42"/><circle cx="386.6" cy="342.4" r="0.42"/><circle cx="374.0" cy="348.3" r="0.42"/><circle cx="377.1" cy="340.8" r="0.42"/><circle cx="388.4" cy="345.9" r="0.42"/><circle cx="384.3" cy="341.3" r="0.42"/><circle cx="385.9" cy="341.7" r="0.42"/><circle cx="372.7" cy="352.1" r="0.42"/><circle cx="386.5" cy="350.1" r="0.42"/><circle cx="382.6" cy="340.2" r="0.42"/><circle cx="386.8" cy="347.8" r="0.42"/><circle cx="386.5" cy="350.8" r="0.42"/><circle cx="385.3" cy="343.4" r="0.42"/><circle cx="388.1" cy="350.3" r="0.42"/><circle cx="387.1" cy="351.0" r="0.42"/><circle cx="376.3" cy="339.9" r="0.42"/><circle cx="384.9" cy="342.7" r="0.42"/><circle cx="379.1" cy="340.0" r="0.42"/><circle cx="381.7" cy="338.5" r="0.42"/><circle cx="387.1" cy="343.1" r="0.42"/><circle cx="383.7" cy="341.4" r="0.42"/><circle cx="387.8" cy="352.2" r="0.42"/><circle cx="386.7" cy="347.4" r="0.42"/><circle cx="380.1" cy="339.0" r="0.42"/><circle cx="387.3" cy="351.8" r="0.42"/><circle cx="372.2" cy="348.2" r="0.42"/><circle cx="388.6" cy="352.6" r="0.42"/><circle cx="388.3" cy="348.6" r="0.42"/><circle cx="386.7" cy="347.0" r="0.42"/><circle cx="374.1" cy="343.1" r="0.42"/><circle cx="386.3" cy="345.4" r="0.42"/><circle cx="385.4" cy="342.2" r="0.42"/><circle cx="373.6" cy="351.3" r="0.42"/><circle cx="384.0" cy="341.7" r="0.42"/><circle cx="383.1" cy="339.5" r="0.42"/><circle cx="384.2" cy="341.9" r="0.42"/><circle cx="376.7" cy="340.1" r="0.42"/><circle cx="372.9" cy="351.9" r="0.42"/><circle cx="385.1" cy="340.6" r="0.42"/><circle cx="385.2" cy="342.9" r="0.42"/><circle cx="388.8" cy="352.4" r="0.42"/><circle cx="388.9" cy="350.1" r="0.42"/><circle cx="386.6" cy="351.5" r="0.42"/><circle cx="376.6" cy="340.2" r="0.42"/><circle cx="383.7" cy="340.3" r="0.42"/><circle cx="383.4" cy="339.2" r="0.42"/><circle cx="388.9" cy="348.9" r="0.42"/><circle cx="386.5" cy="348.6" r="0.42"/><circle cx="373.3" cy="345.4" r="0.42"/><circle cx="387.2" cy="350.9" r="0.42"/><circle cx="386.3" cy="345.7" r="0.42"/><circle cx="384.3" cy="342.0" r="0.42"/><circle cx="383.5" cy="341.0" r="0.42"/><circle cx="380.2" cy="338.5" r="0.42"/><circle cx="383.9" cy="341.1" r="0.42"/><circle cx="388.2" cy="348.8" r="0.42"/><circle cx="374.1" cy="347.7" r="0.42"/><circle cx="383.5" cy="342.1" r="0.42"/><circle cx="385.5" cy="345.0" r="0.42"/><circle cx="386.6" cy="346.9" r="0.42"/><circle cx="374.0" cy="346.5" r="0.42"/><circle cx="385.0" cy="343.0" r="0.42"/><circle cx="380.3" cy="340.4" r="0.42"/><circle cx="388.5" cy="349.5" r="0.42"/><circle cx="387.4" cy="345.6" r="0.42"/><circle cx="383.1" cy="339.1" r="0.42"/><circle cx="382.4" cy="340.7" r="0.42"/><circle cx="380.3" cy="339.7" r="0.42"/><circle cx="384.2" cy="341.1" r="0.42"/><circle cx="384.3" cy="359.0" r="0.45"/><circle cx="377.9" cy="359.5" r="0.45"/><circle cx="374.8" cy="358.7" r="0.45"/><circle cx="382.9" cy="358.9" r="0.45"/><circle cx="375.0" cy="359.3" r="0.45"/><circle cx="384.7" cy="359.1" r="0.45"/><circle cx="374.3" cy="359.3" r="0.45"/><circle cx="386.5" cy="359.6" r="0.45"/><circle cx="375.4" cy="359.5" r="0.45"/><circle cx="383.6" cy="358.7" r="0.45"/><circle cx="374.8" cy="359.8" r="0.45"/><circle cx="376.3" cy="359.5" r="0.45"/><circle cx="378.5" cy="339.7" r="0.35"/><circle cx="378.9" cy="337.7" r="0.35"/><circle cx="381.5" cy="339.0" r="0.35"/><circle cx="382.2" cy="333.9" r="0.35"/><circle cx="380.4" cy="337.7" r="0.35"/><circle cx="381.8" cy="339.3" r="0.35"/><circle cx="379.1" cy="335.7" r="0.35"/><circle cx="380.0" cy="334.6" r="0.35"/><circle cx="380.0" cy="338.3" r="0.35"/><circle cx="379.0" cy="339.3" r="0.35"/></g>
<rect x="380.7" y="306.6" width="31.8" height="13" fill="#fff"/>
<text font-size="14" textLength="31.4" lengthAdjust="spacingAndGlyphs" fill="#1a1a1a" x="381.0" y="317.8">0.051</text>
<rect x="426.1" y="296.3" width="59.5" height="64.3" fill="#fff" stroke="#b4b4b4" stroke-width="0.8"/>
<text x="424.3" y="362.1" font-size="3.9" text-anchor="end" fill="#444">10<tspan dy="-1.4" font-size="2.6">0</tspan></text>
<text x="426.7" y="366.9" font-size="3.9" text-anchor="middle" fill="#444">10<tspan dy="-1.4" font-size="2.6">0</tspan></text>
<text x="424.3" y="346.0" font-size="3.9" text-anchor="end" fill="#444">10<tspan dy="-1.4" font-size="2.6">1</tspan></text>
<text x="441.6" y="366.9" font-size="3.9" text-anchor="middle" fill="#444">10<tspan dy="-1.4" font-size="2.6">1</tspan></text>
<text x="424.3" y="330.0" font-size="3.9" text-anchor="end" fill="#444">10<tspan dy="-1.4" font-size="2.6">2</tspan></text>
<text x="456.5" y="366.9" font-size="3.9" text-anchor="middle" fill="#444">10<tspan dy="-1.4" font-size="2.6">2</tspan></text>
<text x="424.3" y="313.9" font-size="3.9" text-anchor="end" fill="#444">10<tspan dy="-1.4" font-size="2.6">3</tspan></text>
<text x="471.3" y="366.9" font-size="3.9" text-anchor="middle" fill="#444">10<tspan dy="-1.4" font-size="2.6">3</tspan></text>
<text x="424.3" y="297.8" font-size="3.9" text-anchor="end" fill="#444">10<tspan dy="-1.4" font-size="2.6">4</tspan></text>
<text x="486.2" y="366.9" font-size="3.9" text-anchor="middle" fill="#444">10<tspan dy="-1.4" font-size="2.6">4</tspan></text>
<line x1="426.1" y1="361.8" x2="485.6" y2="361.8" stroke="#bbb" stroke-width="0.9" stroke-dasharray="0.5 1.6"/>
<line x1="425.0" y1="296.3" x2="425.0" y2="360.6" stroke="#bbb" stroke-width="0.9" stroke-dasharray="0.5 1.6"/>
<ellipse cx="450.1" cy="313.3" rx="9.7" ry="14.9" fill="none" stroke="#a8a8a8" stroke-width="0.7"/>
<path d="M448.8,360.0 C448.4,356.0 445.6,355.0 445.8,349.0 C446.0,344.0 448.4,341.2 451.2,341.2 C454.0,341.2 456.4,344.0 456.6,349.0 C456.8,355.0 454.0,356.0 453.6,360.0 Z" fill="#9a9a9a" stroke="#000" stroke-width="1.9"/>
<path d="M449.7,356.0 C449.5,353.5 447.7,352.9 447.9,349.2 C448.0,346.1 449.5,344.3 451.2,344.3 C452.9,344.3 454.4,346.1 454.5,349.2 C454.7,352.9 452.9,353.5 452.7,356.0 Z" fill="#e6e6e6" stroke="#f4f4f4" stroke-width="0.6"/>
<path d="M450.5,352.2 C450.4,351.0 449.5,350.7 449.6,348.9 C449.6,347.4 450.4,346.6 451.2,346.6 C452.0,346.6 452.8,347.4 452.8,348.9 C452.9,350.7 452.0,351.0 451.9,352.2 Z" fill="#999"/>
<line x1="450.0" y1="347.0" x2="450.0" y2="355.0" stroke="#888" stroke-width="0.5"/>
<line x1="452.4" y1="347.0" x2="452.4" y2="355.0" stroke="#888" stroke-width="0.5"/>
<g fill="#222"><circle cx="454.1" cy="339.4" r="0.42"/><circle cx="459.0" cy="350.2" r="0.42"/><circle cx="448.6" cy="340.4" r="0.42"/><circle cx="455.1" cy="341.3" r="0.42"/><circle cx="452.7" cy="340.5" r="0.42"/><circle cx="443.2" cy="347.9" r="0.42"/><circle cx="443.6" cy="346.8" r="0.42"/><circle cx="452.1" cy="340.0" r="0.42"/><circle cx="458.4" cy="348.9" r="0.42"/><circle cx="458.1" cy="345.2" r="0.42"/><circle cx="456.1" cy="341.6" r="0.42"/><circle cx="444.5" cy="350.0" r="0.42"/><circle cx="452.3" cy="339.9" r="0.42"/><circle cx="454.9" cy="340.7" r="0.42"/><circle cx="456.8" cy="343.1" r="0.42"/><circle cx="456.6" cy="341.9" r="0.42"/><circle cx="452.6" cy="339.7" r="0.42"/><circle cx="455.3" cy="340.6" r="0.42"/><circle cx="459.9" cy="351.8" r="0.42"/><circle cx="457.6" cy="345.5" r="0.42"/><circle cx="459.0" cy="347.9" r="0.42"/><circle cx="457.9" cy="343.9" r="0.42"/><circle cx="450.7" cy="340.2" r="0.42"/><circle cx="454.5" cy="341.5" r="0.42"/><circle cx="457.2" cy="343.1" r="0.42"/><circle cx="457.1" cy="341.4" r="0.42"/><circle cx="459.2" cy="347.3" r="0.42"/><circle cx="450.3" cy="340.5" r="0.42"/><circle cx="458.9" cy="345.7" r="0.42"/><circle cx="458.4" cy="352.6" r="0.42"/><circle cx="457.8" cy="347.5" r="0.42"/><circle cx="451.6" cy="339.6" r="0.42"/><circle cx="447.4" cy="341.4" r="0.42"/><circle cx="445.2" cy="347.4" r="0.42"/><circle cx="454.6" cy="339.7" r="0.42"/><circle cx="452.4" cy="340.9" r="0.42"/><circle cx="458.0" cy="350.2" r="0.42"/><circle cx="459.4" cy="350.0" r="0.42"/><circle cx="453.9" cy="339.3" r="0.42"/><circle cx="448.1" cy="339.5" r="0.42"/><circle cx="443.1" cy="348.4" r="0.42"/><circle cx="455.5" cy="340.8" r="0.42"/><circle cx="459.5" cy="347.8" r="0.42"/><circle cx="457.7" cy="351.6" r="0.42"/><circle cx="456.6" cy="344.7" r="0.42"/><circle cx="454.6" cy="339.5" r="0.42"/><circle cx="451.9" cy="339.3" r="0.42"/><circle cx="452.5" cy="340.0" r="0.42"/><circle cx="459.0" cy="349.7" r="0.42"/><circle cx="458.9" cy="351.6" r="0.42"/><circle cx="444.1" cy="350.0" r="0.42"/><circle cx="451.0" cy="339.4" r="0.42"/><circle cx="459.2" cy="351.4" r="0.42"/><circle cx="458.3" cy="344.0" r="0.42"/><circle cx="458.4" cy="344.8" r="0.42"/><circle cx="452.9" cy="339.7" r="0.42"/><circle cx="458.0" cy="343.6" r="0.42"/><circle cx="456.6" cy="342.8" r="0.42"/><circle cx="459.1" cy="346.9" r="0.42"/><circle cx="456.2" cy="341.9" r="0.42"/><circle cx="445.9" cy="345.2" r="0.42"/><circle cx="458.5" cy="347.3" r="0.42"/><circle cx="457.8" cy="352.3" r="0.42"/><circle cx="448.2" cy="339.8" r="0.42"/><circle cx="443.5" cy="349.1" r="0.42"/><circle cx="456.2" cy="341.4" r="0.42"/><circle cx="455.3" cy="340.6" r="0.42"/><circle cx="454.5" cy="341.6" r="0.42"/><circle cx="454.6" cy="340.1" r="0.42"/><circle cx="458.5" cy="347.3" r="0.42"/><circle cx="455.9" cy="342.6" r="0.42"/><circle cx="457.5" cy="351.9" r="0.42"/><circle cx="453.1" cy="339.1" r="0.42"/><circle cx="455.7" cy="343.8" r="0.42"/><circle cx="459.0" cy="345.0" r="0.42"/><circle cx="459.1" cy="350.0" r="0.42"/><circle cx="457.3" cy="351.9" r="0.42"/><circle cx="454.3" cy="339.0" r="0.42"/><circle cx="457.2" cy="348.0" r="0.42"/><circle cx="459.2" cy="351.9" r="0.42"/><circle cx="444.6" cy="343.9" r="0.42"/><circle cx="446.5" cy="343.6" r="0.42"/><circle cx="446.2" cy="342.4" r="0.42"/><circle cx="457.9" cy="342.6" r="0.42"/><circle cx="457.4" cy="352.1" r="0.42"/><circle cx="454.8" cy="342.2" r="0.42"/><circle cx="459.6" cy="351.7" r="0.42"/><circle cx="456.0" cy="341.7" r="0.42"/><circle cx="456.7" cy="341.7" r="0.42"/><circle cx="454.7" cy="341.0" r="0.42"/><circle cx="459.1" cy="347.3" r="0.42"/><circle cx="459.9" cy="350.3" r="0.42"/><circle cx="444.7" cy="346.2" r="0.42"/><circle cx="442.9" cy="351.9" r="0.42"/><circle cx="455.8" cy="342.0" r="0.42"/><circle cx="454.6" cy="340.0" r="0.42"/><circle cx="459.3" cy="352.8" r="0.42"/><circle cx="454.4" cy="340.7" r="0.42"/><circle cx="445.0" cy="348.5" r="0.42"/><circle cx="459.4" cy="347.6" r="0.42"/><circle cx="443.3" cy="346.7" r="0.42"/><circle cx="456.7" cy="343.7" r="0.42"/><circle cx="445.4" cy="345.4" r="0.42"/><circle cx="444.4" cy="350.1" r="0.42"/><circle cx="458.4" cy="348.2" r="0.42"/><circle cx="459.4" cy="351.2" r="0.42"/><circle cx="457.3" cy="342.6" r="0.42"/><circle cx="458.4" cy="344.0" r="0.42"/><circle cx="457.9" cy="349.6" r="0.42"/><circle cx="457.6" cy="345.8" r="0.42"/><circle cx="452.0" cy="340.4" r="0.42"/><circle cx="454.0" cy="341.4" r="0.42"/><circle cx="457.4" cy="346.9" r="0.42"/><circle cx="452.1" cy="340.8" r="0.42"/><circle cx="458.5" cy="348.1" r="0.42"/><circle cx="445.1" cy="344.5" r="0.42"/><circle cx="444.4" cy="343.5" r="0.42"/><circle cx="457.5" cy="349.6" r="0.42"/><circle cx="453.5" cy="341.2" r="0.42"/><circle cx="452.2" cy="338.4" r="0.42"/><circle cx="459.0" cy="350.6" r="0.42"/><circle cx="455.8" cy="342.7" r="0.42"/><circle cx="458.1" cy="344.7" r="0.42"/><circle cx="459.3" cy="346.1" r="0.42"/><circle cx="457.1" cy="346.9" r="0.42"/><circle cx="442.7" cy="348.8" r="0.42"/><circle cx="459.4" cy="350.9" r="0.42"/><circle cx="460.0" cy="350.1" r="0.42"/><circle cx="444.4" cy="342.9" r="0.42"/><circle cx="456.3" cy="341.9" r="0.42"/><circle cx="458.2" cy="350.5" r="0.42"/><circle cx="457.8" cy="350.2" r="0.42"/><circle cx="447.5" cy="342.5" r="0.42"/><circle cx="456.8" cy="345.8" r="0.42"/><circle cx="458.4" cy="343.8" r="0.42"/><circle cx="457.8" cy="350.9" r="0.42"/><circle cx="442.8" cy="349.9" r="0.42"/><circle cx="452.2" cy="340.0" r="0.42"/><circle cx="458.9" cy="348.7" r="0.42"/><circle cx="459.3" cy="350.1" r="0.42"/><circle cx="458.1" cy="350.0" r="0.42"/><circle cx="459.6" cy="349.7" r="0.42"/><circle cx="451.4" cy="339.9" r="0.42"/><circle cx="454.0" cy="338.8" r="0.42"/><circle cx="457.7" cy="347.8" r="0.42"/><circle cx="452.1" cy="340.3" r="0.42"/><circle cx="459.5" cy="347.3" r="0.42"/><circle cx="444.9" cy="348.8" r="0.42"/><circle cx="455.1" cy="339.5" r="0.42"/><circle cx="453.9" cy="341.3" r="0.42"/><circle cx="451.6" cy="359.7" r="0.45"/><circle cx="450.2" cy="358.6" r="0.45"/><circle cx="446.7" cy="359.1" r="0.45"/><circle cx="445.4" cy="359.7" r="0.45"/><circle cx="455.5" cy="358.9" r="0.45"/><circle cx="446.3" cy="359.9" r="0.45"/><circle cx="444.6" cy="359.1" r="0.45"/><circle cx="451.1" cy="359.6" r="0.45"/><circle cx="446.5" cy="359.1" r="0.45"/><circle cx="454.5" cy="358.8" r="0.45"/><circle cx="452.5" cy="359.7" r="0.45"/><circle cx="444.3" cy="358.9" r="0.45"/><circle cx="448.3" cy="336.5" r="0.35"/><circle cx="452.6" cy="337.5" r="0.35"/><circle cx="448.8" cy="333.4" r="0.35"/><circle cx="451.3" cy="336.5" r="0.35"/><circle cx="453.3" cy="339.1" r="0.35"/><circle cx="447.4" cy="338.8" r="0.35"/><circle cx="450.1" cy="337.4" r="0.35"/><circle cx="450.9" cy="336.7" r="0.35"/><circle cx="450.9" cy="336.7" r="0.35"/><circle cx="450.1" cy="339.8" r="0.35"/></g>
<rect x="452.1" y="306.7" width="32.2" height="13" fill="#fff"/>
<text font-size="14" textLength="31.8" lengthAdjust="spacingAndGlyphs" fill="#1a1a1a" x="452.4" y="317.9">0.063</text>
<rect x="355.2" y="371.9" width="59.5" height="64.3" fill="#fff" stroke="#b4b4b4" stroke-width="0.8"/>
<text x="353.4" y="437.7" font-size="3.9" text-anchor="end" fill="#444">10<tspan dy="-1.4" font-size="2.6">0</tspan></text>
<text x="355.8" y="442.5" font-size="3.9" text-anchor="middle" fill="#444">10<tspan dy="-1.4" font-size="2.6">0</tspan></text>
<text x="353.4" y="421.6" font-size="3.9" text-anchor="end" fill="#444">10<tspan dy="-1.4" font-size="2.6">1</tspan></text>
<text x="370.7" y="442.5" font-size="3.9" text-anchor="middle" fill="#444">10<tspan dy="-1.4" font-size="2.6">1</tspan></text>
<text x="353.4" y="405.5" font-size="3.9" text-anchor="end" fill="#444">10<tspan dy="-1.4" font-size="2.6">2</tspan></text>
<text x="385.6" y="442.5" font-size="3.9" text-anchor="middle" fill="#444">10<tspan dy="-1.4" font-size="2.6">2</tspan></text>
<text x="353.4" y="389.5" font-size="3.9" text-anchor="end" fill="#444">10<tspan dy="-1.4" font-size="2.6">3</tspan></text>
<text x="400.4" y="442.5" font-size="3.9" text-anchor="middle" fill="#444">10<tspan dy="-1.4" font-size="2.6">3</tspan></text>
<text x="353.4" y="373.4" font-size="3.9" text-anchor="end" fill="#444">10<tspan dy="-1.4" font-size="2.6">4</tspan></text>
<text x="415.3" y="442.5" font-size="3.9" text-anchor="middle" fill="#444">10<tspan dy="-1.4" font-size="2.6">4</tspan></text>
<line x1="355.2" y1="437.4" x2="414.7" y2="437.4" stroke="#bbb" stroke-width="0.9" stroke-dasharray="0.5 1.6"/>
<line x1="354.1" y1="371.9" x2="354.1" y2="436.2" stroke="#bbb" stroke-width="0.9" stroke-dasharray="0.5 1.6"/>
<ellipse cx="379.2" cy="388.9" rx="9.7" ry="14.9" fill="none" stroke="#a8a8a8" stroke-width="0.7"/>
<path d="M377.9,435.6 C377.5,431.6 374.7,430.6 374.9,424.6 C375.1,419.6 377.5,416.8 380.3,416.8 C383.1,416.8 385.5,419.6 385.7,424.6 C385.9,430.6 383.1,431.6 382.7,435.6 Z" fill="#9a9a9a" stroke="#000" stroke-width="1.9"/>
<path d="M378.8,431.6 C378.6,429.1 376.8,428.5 377.0,424.8 C377.1,421.7 378.6,419.9 380.3,419.9 C382.0,419.9 383.5,421.7 383.6,424.8 C383.8,428.5 382.0,429.1 381.8,431.6 Z" fill="#e6e6e6" stroke="#f4f4f4" stroke-width="0.6"/>
<path d="M379.6,427.8 C379.5,426.6 378.6,426.3 378.7,424.5 C378.7,423.0 379.5,422.2 380.3,422.2 C381.1,422.2 381.9,423.0 381.9,424.5 C382.0,426.3 381.1,426.6 381.0,427.8 Z" fill="#999"/>
<line x1="379.1" y1="422.6" x2="379.1" y2="430.6" stroke="#888" stroke-width="0.5"/>
<line x1="381.5" y1="422.6" x2="381.5" y2="430.6" stroke="#888" stroke-width="0.5"/>
<g fill="#222"><circle cx="387.7" cy="426.2" r="0.42"/><circle cx="374.6" cy="417.5" r="0.42"/><circle cx="384.6" cy="416.2" r="0.42"/><circle cx="388.8" cy="425.9" r="0.42"/><circle cx="386.2" cy="419.2" r="0.42"/><circle cx="389.0" cy="424.9" r="0.42"/><circle cx="387.1" cy="424.4" r="0.42"/><circle cx="386.7" cy="427.0" r="0.42"/><circle cx="385.0" cy="419.5" r="0.42"/><circle cx="383.2" cy="415.2" r="0.42"/><circle cx="385.5" cy="420.5" r="0.42"/><circle cx="386.5" cy="421.5" r="0.42"/><circle cx="387.7" cy="422.9" r="0.42"/><circle cx="387.6" cy="422.5" r="0.42"/><circle cx="388.0" cy="421.6" r="0.42"/><circle cx="383.1" cy="416.0" r="0.42"/><circle cx="379.8" cy="415.3" r="0.42"/><circle cx="387.0" cy="422.5" r="0.42"/><circle cx="381.9" cy="414.1" r="0.42"/><circle cx="372.0" cy="424.8" r="0.42"/><circle cx="387.8" cy="426.2" r="0.42"/><circle cx="385.0" cy="418.5" r="0.42"/><circle cx="387.0" cy="420.8" r="0.42"/><circle cx="381.3" cy="416.5" r="0.42"/><circle cx="373.1" cy="419.3" r="0.42"/><circle cx="372.7" cy="420.6" r="0.42"/><circle cx="385.2" cy="417.2" r="0.42"/><circle cx="385.8" cy="418.3" r="0.42"/><circle cx="386.3" cy="421.1" r="0.42"/><circle cx="384.9" cy="418.2" r="0.42"/><circle cx="387.8" cy="423.6" r="0.42"/><circle cx="385.7" cy="419.7" r="0.42"/><circle cx="386.6" cy="423.4" r="0.42"/><circle cx="387.2" cy="426.7" r="0.42"/><circle cx="379.2" cy="414.3" r="0.42"/><circle cx="384.9" cy="416.8" r="0.42"/><circle cx="381.1" cy="415.0" r="0.42"/><circle cx="387.2" cy="424.4" r="0.42"/><circle cx="387.4" cy="428.0" r="0.42"/><circle cx="386.8" cy="418.4" r="0.42"/><circle cx="380.5" cy="415.6" r="0.42"/><circle cx="388.5" cy="427.2" r="0.42"/><circle cx="387.0" cy="421.6" r="0.42"/><circle cx="388.3" cy="424.2" r="0.42"/><circle cx="387.9" cy="422.1" r="0.42"/><circle cx="384.3" cy="416.1" r="0.42"/><circle cx="384.9" cy="416.1" r="0.42"/><circle cx="384.2" cy="415.8" r="0.42"/><circle cx="383.4" cy="414.7" r="0.42"/><circle cx="387.0" cy="419.4" r="0.42"/><circle cx="384.0" cy="416.2" r="0.42"/><circle cx="387.0" cy="420.3" r="0.42"/><circle cx="387.6" cy="421.2" r="0.42"/><circle cx="383.8" cy="416.6" r="0.42"/><circle cx="387.8" cy="425.0" r="0.42"/><circle cx="385.2" cy="419.2" r="0.42"/><circle cx="383.7" cy="414.9" r="0.42"/><circle cx="388.0" cy="420.3" r="0.42"/><circle cx="385.0" cy="419.7" r="0.42"/><circle cx="380.4" cy="413.9" r="0.42"/><circle cx="387.4" cy="418.7" r="0.42"/><circle cx="385.5" cy="418.7" r="0.42"/><circle cx="384.7" cy="415.5" r="0.42"/><circle cx="386.1" cy="421.8" r="0.42"/><circle cx="379.0" cy="415.1" r="0.42"/><circle cx="385.5" cy="418.1" r="0.42"/><circle cx="383.4" cy="416.5" r="0.42"/><circle cx="386.8" cy="421.9" r="0.42"/><circle cx="382.7" cy="415.6" r="0.42"/><circle cx="375.1" cy="416.8" r="0.42"/><circle cx="387.3" cy="423.2" r="0.42"/><circle cx="387.8" cy="425.1" r="0.42"/><circle cx="381.3" cy="414.9" r="0.42"/><circle cx="383.3" cy="417.4" r="0.42"/><circle cx="388.0" cy="422.8" r="0.42"/><circle cx="373.1" cy="422.1" r="0.42"/><circle cx="387.6" cy="423.6" r="0.42"/><circle cx="376.5" cy="416.4" r="0.42"/><circle cx="387.6" cy="425.5" r="0.42"/><circle cx="386.8" cy="425.3" r="0.42"/><circle cx="379.8" cy="414.2" r="0.42"/><circle cx="383.5" cy="417.5" r="0.42"/><circle cx="388.3" cy="425.2" r="0.42"/><circle cx="385.1" cy="419.3" r="0.42"/><circle cx="386.8" cy="421.7" r="0.42"/><circle cx="381.8" cy="414.3" r="0.42"/><circle cx="388.0" cy="427.6" r="0.42"/><circle cx="383.0" cy="414.7" r="0.42"/><circle cx="374.0" cy="421.5" r="0.42"/><circle cx="372.8" cy="426.7" r="0.42"/><circle cx="386.0" cy="419.5" r="0.42"/><circle cx="386.1" cy="420.3" r="0.42"/><circle cx="388.5" cy="425.2" r="0.42"/><circle cx="383.5" cy="417.1" r="0.42"/><circle cx="386.3" cy="419.2" r="0.42"/><circle cx="387.5" cy="426.1" r="0.42"/><circle cx="387.4" cy="424.9" r="0.42"/><circle cx="384.7" cy="418.1" r="0.42"/><circle cx="383.8" cy="417.5" r="0.42"/><circle cx="387.1" cy="424.8" r="0.42"/><circle cx="387.4" cy="423.4" r="0.42"/><circle cx="384.1" cy="417.7" r="0.42"/><circle cx="381.9" cy="414.1" r="0.42"/><circle cx="387.1" cy="426.0" r="0.42"/><circle cx="375.7" cy="418.3" r="0.42"/><circle cx="385.4" cy="418.5" r="0.42"/><circle cx="387.2" cy="419.0" r="0.42"/><circle cx="379.5" cy="415.7" r="0.42"/><circle cx="387.9" cy="422.7" r="0.42"/><circle cx="382.8" cy="416.9" r="0.42"/><circle cx="386.3" cy="418.6" r="0.42"/><circle cx="387.8" cy="427.1" r="0.42"/><circle cx="384.2" cy="417.6" r="0.42"/><circle cx="385.4" cy="418.3" r="0.42"/><circle cx="373.3" cy="419.3" r="0.42"/><circle cx="384.6" cy="417.9" r="0.42"/><circle cx="384.9" cy="418.0" r="0.42"/><circle cx="375.9" cy="418.1" r="0.42"/><circle cx="388.1" cy="426.3" r="0.42"/><circle cx="372.2" cy="424.8" r="0.42"/><circle cx="386.6" cy="424.9" r="0.42"/><circle cx="387.2" cy="422.9" r="0.42"/><circle cx="377.2" cy="417.0" r="0.42"/><circle cx="387.4" cy="420.5" r="0.42"/><circle cx="383.2" cy="416.3" r="0.42"/><circle cx="383.0" cy="416.4" r="0.42"/><circle cx="386.6" cy="426.3" r="0.42"/><circle cx="374.5" cy="420.8" r="0.42"/><circle cx="375.3" cy="419.7" r="0.42"/><circle cx="383.3" cy="415.2" r="0.42"/><circle cx="384.8" cy="418.9" r="0.42"/><circle cx="382.1" cy="414.3" r="0.42"/><circle cx="374.0" cy="418.2" r="0.42"/><circle cx="381.1" cy="416.3" r="0.42"/><circle cx="381.8" cy="415.3" r="0.42"/><circle cx="385.2" cy="416.6" r="0.42"/><circle cx="381.4" cy="415.8" r="0.42"/><circle cx="387.9" cy="427.3" r="0.42"/><circle cx="387.2" cy="422.9" r="0.42"/><circle cx="388.0" cy="422.8" r="0.42"/><circle cx="386.2" cy="420.9" r="0.42"/><circle cx="382.7" cy="416.0" r="0.42"/><circle cx="383.7" cy="416.0" r="0.42"/><circle cx="385.5" cy="417.1" r="0.42"/><circle cx="377.8" cy="415.8" r="0.42"/><circle cx="386.3" cy="422.3" r="0.42"/><circle cx="386.6" cy="424.9" r="0.42"/><circle cx="387.3" cy="422.6" r="0.42"/><circle cx="387.4" cy="427.0" r="0.42"/><circle cx="389.0" cy="428.1" r="0.42"/><circle cx="373.6" cy="434.5" r="0.45"/><circle cx="388.0" cy="434.8" r="0.45"/><circle cx="374.0" cy="434.9" r="0.45"/><circle cx="379.2" cy="435.3" r="0.45"/><circle cx="381.0" cy="435.6" r="0.45"/><circle cx="387.0" cy="434.6" r="0.45"/><circle cx="382.3" cy="434.2" r="0.45"/><circle cx="382.7" cy="435.2" r="0.45"/><circle cx="376.2" cy="435.4" r="0.45"/><circle cx="372.7" cy="434.4" r="0.45"/><circle cx="385.7" cy="435.2" r="0.45"/><circle cx="375.3" cy="434.6" r="0.45"/><circle cx="381.1" cy="408.1" r="0.35"/><circle cx="380.5" cy="409.5" r="0.35"/><circle cx="380.4" cy="409.8" r="0.35"/><circle cx="378.9" cy="413.3" r="0.35"/><circle cx="379.9" cy="412.5" r="0.35"/><circle cx="378.1" cy="411.9" r="0.35"/><circle cx="377.5" cy="410.1" r="0.35"/><circle cx="379.3" cy="414.4" r="0.35"/><circle cx="377.5" cy="413.3" r="0.35"/><circle cx="380.2" cy="409.9" r="0.35"/></g>
<g fill="#333"><circle cx="384.8" cy="380.0" r="0.4"/><circle cx="377.2" cy="387.6" r="0.4"/><circle cx="381.1" cy="391.3" r="0.4"/><circle cx="379.1" cy="386.3" r="0.4"/><circle cx="379.5" cy="384.4" r="0.4"/><circle cx="374.1" cy="392.5" r="0.4"/><circle cx="380.6" cy="388.2" r="0.4"/><circle cx="378.5" cy="388.7" r="0.4"/><circle cx="380.0" cy="387.0" r="0.4"/><circle cx="382.5" cy="378.3" r="0.4"/><circle cx="380.6" cy="381.8" r="0.4"/><circle cx="379.3" cy="395.3" r="0.4"/><circle cx="377.5" cy="386.9" r="0.4"/><circle cx="378.6" cy="392.4" r="0.4"/><circle cx="377.7" cy="378.5" r="0.4"/><circle cx="381.2" cy="385.5" r="0.4"/><circle cx="379.3" cy="393.1" r="0.4"/><circle cx="378.0" cy="385.4" r="0.4"/><circle cx="380.3" cy="389.6" r="0.4"/><circle cx="378.8" cy="392.9" r="0.4"/><circle cx="385.2" cy="385.2" r="0.4"/><circle cx="384.3" cy="376.3" r="0.4"/><circle cx="383.2" cy="385.6" r="0.4"/><circle cx="380.3" cy="385.6" r="0.4"/><circle cx="378.5" cy="380.7" r="0.4"/><circle cx="379.1" cy="394.2" r="0.4"/><circle cx="382.6" cy="385.6" r="0.4"/><circle cx="378.8" cy="383.7" r="0.4"/><circle cx="377.2" cy="396.9" r="0.4"/><circle cx="381.5" cy="388.0" r="0.4"/><circle cx="378.9" cy="382.0" r="0.4"/><circle cx="383.0" cy="391.5" r="0.4"/><circle cx="377.8" cy="392.6" r="0.4"/><circle cx="377.4" cy="390.8" r="0.4"/><circle cx="377.8" cy="385.2" r="0.4"/><circle cx="381.1" cy="389.7" r="0.4"/><circle cx="382.3" cy="383.0" r="0.4"/><circle cx="383.6" cy="394.5" r="0.4"/><circle cx="380.0" cy="389.9" r="0.4"/><circle cx="378.2" cy="386.6" r="0.4"/><circle cx="378.7" cy="404.7" r="0.38"/><circle cx="380.3" cy="407.5" r="0.38"/><circle cx="381.3" cy="407.6" r="0.38"/><circle cx="381.1" cy="403.5" r="0.38"/><circle cx="379.8" cy="406.4" r="0.38"/><circle cx="380.5" cy="409.8" r="0.38"/><circle cx="378.4" cy="409.0" r="0.38"/><circle cx="379.6" cy="403.8" r="0.38"/></g>
<rect x="388.5" y="381.9" width="24.6" height="13" fill="#fff"/>
<text font-size="14" textLength="24.2" lengthAdjust="spacingAndGlyphs" fill="#1a1a1a" x="388.8" y="393.1">0.82</text>
<rect x="426.1" y="371.9" width="59.5" height="64.3" fill="#fff" stroke="#b4b4b4" stroke-width="0.8"/>
<text x="424.3" y="437.7" font-size="3.9" text-anchor="end" fill="#444">10<tspan dy="-1.4" font-size="2.6">0</tspan></text>
<text x="426.7" y="442.5" font-size="3.9" text-anchor="middle" fill="#444">10<tspan dy="-1.4" font-size="2.6">0</tspan></text>
<text x="424.3" y="421.6" font-size="3.9" text-anchor="end" fill="#444">10<tspan dy="-1.4" font-size="2.6">1</tspan></text>
<text x="441.6" y="442.5" font-size="3.9" text-anchor="middle" fill="#444">10<tspan dy="-1.4" font-size="2.6">1</tspan></text>
<text x="424.3" y="405.5" font-size="3.9" text-anchor="end" fill="#444">10<tspan dy="-1.4" font-size="2.6">2</tspan></text>
<text x="456.5" y="442.5" font-size="3.9" text-anchor="middle" fill="#444">10<tspan dy="-1.4" font-size="2.6">2</tspan></text>
<text x="424.3" y="389.5" font-size="3.9" text-anchor="end" fill="#444">10<tspan dy="-1.4" font-size="2.6">3</tspan></text>
<text x="471.3" y="442.5" font-size="3.9" text-anchor="middle" fill="#444">10<tspan dy="-1.4" font-size="2.6">3</tspan></text>
<text x="424.3" y="373.4" font-size="3.9" text-anchor="end" fill="#444">10<tspan dy="-1.4" font-size="2.6">4</tspan></text>
<text x="486.2" y="442.5" font-size="3.9" text-anchor="middle" fill="#444">10<tspan dy="-1.4" font-size="2.6">4</tspan></text>
<line x1="426.1" y1="437.4" x2="485.6" y2="437.4" stroke="#bbb" stroke-width="0.9" stroke-dasharray="0.5 1.6"/>
<line x1="425.0" y1="371.9" x2="425.0" y2="436.2" stroke="#bbb" stroke-width="0.9" stroke-dasharray="0.5 1.6"/>
<ellipse cx="450.1" cy="388.9" rx="9.7" ry="14.9" fill="none" stroke="#a8a8a8" stroke-width="0.7"/>
<path d="M448.8,435.6 C448.4,431.6 445.6,430.6 445.8,424.6 C446.0,419.6 448.4,416.8 451.2,416.8 C454.0,416.8 456.4,419.6 456.6,424.6 C456.8,430.6 454.0,431.6 453.6,435.6 Z" fill="#9a9a9a" stroke="#000" stroke-width="1.9"/>
<path d="M449.7,431.6 C449.5,429.1 447.7,428.5 447.9,424.8 C448.0,421.7 449.5,419.9 451.2,419.9 C452.9,419.9 454.4,421.7 454.5,424.8 C454.7,428.5 452.9,429.1 452.7,431.6 Z" fill="#e6e6e6" stroke="#f4f4f4" stroke-width="0.6"/>
<path d="M450.5,427.8 C450.4,426.6 449.5,426.3 449.6,424.5 C449.6,423.0 450.4,422.2 451.2,422.2 C452.0,422.2 452.8,423.0 452.8,424.5 C452.9,426.3 452.0,426.6 451.9,427.8 Z" fill="#999"/>
<line x1="450.0" y1="422.6" x2="450.0" y2="430.6" stroke="#888" stroke-width="0.5"/>
<line x1="452.4" y1="422.6" x2="452.4" y2="430.6" stroke="#888" stroke-width="0.5"/>
<g fill="#222"><circle cx="454.6" cy="415.5" r="0.42"/><circle cx="453.7" cy="416.6" r="0.42"/><circle cx="455.3" cy="415.8" r="0.42"/><circle cx="457.9" cy="427.9" r="0.42"/><circle cx="455.2" cy="417.7" r="0.42"/><circle cx="453.0" cy="414.4" r="0.42"/><circle cx="443.8" cy="423.3" r="0.42"/><circle cx="444.8" cy="423.5" r="0.42"/><circle cx="455.6" cy="416.1" r="0.42"/><circle cx="454.8" cy="417.6" r="0.42"/><circle cx="457.0" cy="417.9" r="0.42"/><circle cx="458.7" cy="424.4" r="0.42"/><circle cx="459.6" cy="423.7" r="0.42"/><circle cx="453.9" cy="416.7" r="0.42"/><circle cx="457.7" cy="426.3" r="0.42"/><circle cx="457.6" cy="423.4" r="0.42"/><circle cx="453.7" cy="416.0" r="0.42"/><circle cx="450.3" cy="414.6" r="0.42"/><circle cx="457.4" cy="425.7" r="0.42"/><circle cx="451.2" cy="414.0" r="0.42"/><circle cx="457.9" cy="426.9" r="0.42"/><circle cx="458.4" cy="425.5" r="0.42"/><circle cx="444.4" cy="422.4" r="0.42"/><circle cx="457.5" cy="424.6" r="0.42"/><circle cx="458.9" cy="425.3" r="0.42"/><circle cx="458.0" cy="421.5" r="0.42"/><circle cx="457.1" cy="422.8" r="0.42"/><circle cx="458.5" cy="427.5" r="0.42"/><circle cx="457.8" cy="426.5" r="0.42"/><circle cx="457.9" cy="423.8" r="0.42"/><circle cx="449.7" cy="415.3" r="0.42"/><circle cx="454.4" cy="417.6" r="0.42"/><circle cx="443.2" cy="423.2" r="0.42"/><circle cx="454.5" cy="416.6" r="0.42"/><circle cx="442.8" cy="423.1" r="0.42"/><circle cx="456.4" cy="417.0" r="0.42"/><circle cx="457.3" cy="418.8" r="0.42"/><circle cx="457.2" cy="423.0" r="0.42"/><circle cx="458.5" cy="424.0" r="0.42"/><circle cx="458.2" cy="428.1" r="0.42"/><circle cx="456.8" cy="418.9" r="0.42"/><circle cx="457.6" cy="423.2" r="0.42"/><circle cx="452.9" cy="414.8" r="0.42"/><circle cx="459.8" cy="427.0" r="0.42"/><circle cx="458.2" cy="421.4" r="0.42"/><circle cx="454.2" cy="415.1" r="0.42"/><circle cx="458.7" cy="425.7" r="0.42"/><circle cx="458.1" cy="425.4" r="0.42"/><circle cx="458.4" cy="421.1" r="0.42"/><circle cx="458.0" cy="420.6" r="0.42"/><circle cx="447.8" cy="417.2" r="0.42"/><circle cx="454.7" cy="415.9" r="0.42"/><circle cx="458.2" cy="425.0" r="0.42"/><circle cx="450.3" cy="414.1" r="0.42"/><circle cx="454.8" cy="417.3" r="0.42"/><circle cx="447.5" cy="416.7" r="0.42"/><circle cx="457.5" cy="427.4" r="0.42"/><circle cx="456.3" cy="418.7" r="0.42"/><circle cx="452.8" cy="415.5" r="0.42"/><circle cx="457.4" cy="417.3" r="0.42"/><circle cx="458.2" cy="425.5" r="0.42"/><circle cx="454.8" cy="415.5" r="0.42"/><circle cx="457.0" cy="418.9" r="0.42"/><circle cx="455.4" cy="416.6" r="0.42"/><circle cx="457.3" cy="418.5" r="0.42"/><circle cx="445.4" cy="420.2" r="0.42"/><circle cx="457.1" cy="419.5" r="0.42"/><circle cx="456.7" cy="420.6" r="0.42"/><circle cx="452.3" cy="414.5" r="0.42"/><circle cx="459.3" cy="427.9" r="0.42"/><circle cx="456.1" cy="419.7" r="0.42"/><circle cx="459.8" cy="425.6" r="0.42"/><circle cx="458.6" cy="421.2" r="0.42"/><circle cx="457.0" cy="422.5" r="0.42"/><circle cx="457.1" cy="417.0" r="0.42"/><circle cx="459.1" cy="422.3" r="0.42"/><circle cx="444.8" cy="424.7" r="0.42"/><circle cx="454.1" cy="415.4" r="0.42"/><circle cx="452.9" cy="415.3" r="0.42"/><circle cx="458.9" cy="423.8" r="0.42"/><circle cx="458.5" cy="424.7" r="0.42"/><circle cx="452.2" cy="414.8" r="0.42"/><circle cx="454.0" cy="415.6" r="0.42"/><circle cx="444.5" cy="423.4" r="0.42"/><circle cx="457.0" cy="420.3" r="0.42"/><circle cx="444.7" cy="424.2" r="0.42"/><circle cx="453.7" cy="415.8" r="0.42"/><circle cx="455.4" cy="415.6" r="0.42"/><circle cx="444.8" cy="423.2" r="0.42"/><circle cx="458.2" cy="426.3" r="0.42"/><circle cx="445.0" cy="427.2" r="0.42"/><circle cx="459.3" cy="425.3" r="0.42"/><circle cx="452.7" cy="416.5" r="0.42"/><circle cx="445.3" cy="417.4" r="0.42"/><circle cx="458.0" cy="427.0" r="0.42"/><circle cx="457.4" cy="424.4" r="0.42"/><circle cx="452.1" cy="416.2" r="0.42"/><circle cx="458.3" cy="419.4" r="0.42"/><circle cx="455.7" cy="417.5" r="0.42"/><circle cx="459.3" cy="426.3" r="0.42"/><circle cx="454.9" cy="416.5" r="0.42"/><circle cx="454.6" cy="417.2" r="0.42"/><circle cx="459.3" cy="425.1" r="0.42"/><circle cx="456.4" cy="420.3" r="0.42"/><circle cx="458.7" cy="428.1" r="0.42"/><circle cx="457.3" cy="418.8" r="0.42"/><circle cx="445.7" cy="416.4" r="0.42"/><circle cx="457.6" cy="421.1" r="0.42"/><circle cx="457.7" cy="421.3" r="0.42"/><circle cx="457.4" cy="417.4" r="0.42"/><circle cx="444.4" cy="425.5" r="0.42"/><circle cx="458.0" cy="426.2" r="0.42"/><circle cx="443.5" cy="422.0" r="0.42"/><circle cx="456.5" cy="417.4" r="0.42"/><circle cx="450.2" cy="415.6" r="0.42"/><circle cx="459.2" cy="428.4" r="0.42"/><circle cx="451.0" cy="414.8" r="0.42"/><circle cx="457.5" cy="419.4" r="0.42"/><circle cx="457.6" cy="419.1" r="0.42"/><circle cx="456.7" cy="417.7" r="0.42"/><circle cx="450.4" cy="415.8" r="0.42"/><circle cx="456.1" cy="416.1" r="0.42"/><circle cx="458.6" cy="425.8" r="0.42"/><circle cx="457.2" cy="419.3" r="0.42"/><circle cx="454.1" cy="416.7" r="0.42"/><circle cx="452.1" cy="414.7" r="0.42"/><circle cx="458.9" cy="421.2" r="0.42"/><circle cx="459.5" cy="425.5" r="0.42"/><circle cx="454.2" cy="417.1" r="0.42"/><circle cx="457.9" cy="421.4" r="0.42"/><circle cx="457.9" cy="419.8" r="0.42"/><circle cx="456.3" cy="416.9" r="0.42"/><circle cx="458.2" cy="421.8" r="0.42"/><circle cx="458.3" cy="424.8" r="0.42"/><circle cx="454.8" cy="418.0" r="0.42"/><circle cx="454.1" cy="416.4" r="0.42"/><circle cx="459.0" cy="424.7" r="0.42"/><circle cx="457.6" cy="420.7" r="0.42"/><circle cx="457.4" cy="420.8" r="0.42"/><circle cx="458.4" cy="420.9" r="0.42"/><circle cx="458.8" cy="421.2" r="0.42"/><circle cx="452.6" cy="414.1" r="0.42"/><circle cx="446.3" cy="418.2" r="0.42"/><circle cx="454.8" cy="417.9" r="0.42"/><circle cx="453.6" cy="415.5" r="0.42"/><circle cx="456.6" cy="421.0" r="0.42"/><circle cx="458.3" cy="419.7" r="0.42"/><circle cx="457.2" cy="419.7" r="0.42"/><circle cx="444.0" cy="421.4" r="0.42"/><circle cx="453.4" cy="416.8" r="0.42"/><circle cx="452.1" cy="434.4" r="0.45"/><circle cx="455.5" cy="435.4" r="0.45"/><circle cx="446.7" cy="435.5" r="0.45"/><circle cx="456.3" cy="435.4" r="0.45"/><circle cx="444.6" cy="434.5" r="0.45"/><circle cx="452.2" cy="435.5" r="0.45"/><circle cx="454.1" cy="434.5" r="0.45"/><circle cx="450.9" cy="435.5" r="0.45"/><circle cx="454.3" cy="435.0" r="0.45"/><circle cx="452.5" cy="434.1" r="0.45"/><circle cx="456.3" cy="434.3" r="0.45"/><circle cx="445.5" cy="435.1" r="0.45"/><circle cx="450.0" cy="415.5" r="0.35"/><circle cx="451.3" cy="415.4" r="0.35"/><circle cx="450.1" cy="412.1" r="0.35"/><circle cx="450.1" cy="407.7" r="0.35"/><circle cx="448.6" cy="414.0" r="0.35"/><circle cx="449.8" cy="415.0" r="0.35"/><circle cx="449.3" cy="408.0" r="0.35"/><circle cx="451.1" cy="408.1" r="0.35"/><circle cx="450.2" cy="412.9" r="0.35"/><circle cx="451.8" cy="414.0" r="0.35"/></g>
<g fill="#333"><circle cx="449.0" cy="391.8" r="0.4"/><circle cx="447.7" cy="387.9" r="0.4"/><circle cx="448.0" cy="394.8" r="0.4"/><circle cx="452.6" cy="399.1" r="0.4"/><circle cx="450.2" cy="386.8" r="0.4"/><circle cx="449.7" cy="393.6" r="0.4"/><circle cx="448.3" cy="391.2" r="0.4"/><circle cx="450.0" cy="391.3" r="0.4"/><circle cx="451.5" cy="383.0" r="0.4"/><circle cx="449.8" cy="377.8" r="0.4"/><circle cx="448.7" cy="384.1" r="0.4"/><circle cx="453.3" cy="385.0" r="0.4"/><circle cx="451.5" cy="386.1" r="0.4"/><circle cx="447.8" cy="390.6" r="0.4"/><circle cx="455.5" cy="390.7" r="0.4"/><circle cx="453.8" cy="390.6" r="0.4"/><circle cx="453.2" cy="398.7" r="0.4"/><circle cx="446.9" cy="383.7" r="0.4"/><circle cx="447.3" cy="387.5" r="0.4"/><circle cx="450.0" cy="383.3" r="0.4"/><circle cx="452.0" cy="397.6" r="0.4"/><circle cx="454.2" cy="397.2" r="0.4"/><circle cx="451.2" cy="389.8" r="0.4"/><circle cx="454.4" cy="392.8" r="0.4"/><circle cx="453.3" cy="385.7" r="0.4"/><circle cx="449.9" cy="383.8" r="0.4"/><circle cx="453.9" cy="382.7" r="0.4"/><circle cx="451.4" cy="389.0" r="0.4"/><circle cx="450.7" cy="385.9" r="0.4"/><circle cx="451.9" cy="383.5" r="0.4"/><circle cx="451.2" cy="394.6" r="0.4"/><circle cx="449.6" cy="393.8" r="0.4"/><circle cx="453.9" cy="397.4" r="0.4"/><circle cx="448.8" cy="396.8" r="0.4"/><circle cx="453.4" cy="395.4" r="0.4"/><circle cx="453.3" cy="386.7" r="0.4"/><circle cx="453.2" cy="388.5" r="0.4"/><circle cx="449.8" cy="384.4" r="0.4"/><circle cx="449.9" cy="386.7" r="0.4"/><circle cx="447.1" cy="389.4" r="0.4"/><circle cx="447.6" cy="390.9" r="0.4"/><circle cx="454.3" cy="394.2" r="0.4"/><circle cx="454.8" cy="396.1" r="0.4"/><circle cx="456.6" cy="387.1" r="0.4"/><circle cx="448.9" cy="386.6" r="0.4"/><circle cx="448.6" cy="394.9" r="0.4"/><circle cx="445.4" cy="387.7" r="0.4"/><circle cx="453.2" cy="390.9" r="0.4"/><circle cx="453.0" cy="381.8" r="0.4"/><circle cx="449.9" cy="386.8" r="0.4"/><circle cx="452.1" cy="390.8" r="0.4"/><circle cx="454.5" cy="380.8" r="0.4"/><circle cx="451.7" cy="399.8" r="0.4"/><circle cx="454.1" cy="388.9" r="0.4"/><circle cx="453.1" cy="386.4" r="0.4"/><circle cx="454.2" cy="384.6" r="0.4"/><circle cx="453.0" cy="388.9" r="0.4"/><circle cx="449.2" cy="388.7" r="0.4"/><circle cx="450.8" cy="384.0" r="0.4"/><circle cx="451.4" cy="382.9" r="0.4"/><circle cx="453.7" cy="390.4" r="0.4"/><circle cx="453.4" cy="391.3" r="0.4"/><circle cx="451.7" cy="380.2" r="0.4"/><circle cx="450.3" cy="387.7" r="0.4"/><circle cx="449.8" cy="387.2" r="0.4"/><circle cx="450.1" cy="385.1" r="0.4"/><circle cx="448.9" cy="385.0" r="0.4"/><circle cx="448.4" cy="393.1" r="0.4"/><circle cx="451.7" cy="390.3" r="0.4"/><circle cx="452.9" cy="385.6" r="0.4"/><circle cx="452.4" cy="406.7" r="0.38"/><circle cx="449.1" cy="404.1" r="0.38"/><circle cx="453.1" cy="403.8" r="0.38"/><circle cx="452.5" cy="406.9" r="0.38"/><circle cx="450.5" cy="406.6" r="0.38"/><circle cx="451.0" cy="404.2" r="0.38"/><circle cx="449.7" cy="405.8" r="0.38"/><circle cx="450.8" cy="404.5" r="0.38"/></g>
<rect x="459.3" y="382.1" width="24.6" height="13" fill="#fff"/>
<text font-size="14" textLength="24.2" lengthAdjust="spacingAndGlyphs" fill="#1a1a1a" x="459.6" y="393.3">0.98</text>
<rect x="355.2" y="447.5" width="59.5" height="64.3" fill="#fff" stroke="#b4b4b4" stroke-width="0.8"/>
<text x="353.4" y="513.3" font-size="3.9" text-anchor="end" fill="#444">10<tspan dy="-1.4" font-size="2.6">0</tspan></text>
<text x="355.8" y="518.1" font-size="3.9" text-anchor="middle" fill="#444">10<tspan dy="-1.4" font-size="2.6">0</tspan></text>
<text x="353.4" y="497.2" font-size="3.9" text-anchor="end" fill="#444">10<tspan dy="-1.4" font-size="2.6">1</tspan></text>
<text x="370.7" y="518.1" font-size="3.9" text-anchor="middle" fill="#444">10<tspan dy="-1.4" font-size="2.6">1</tspan></text>
<text x="353.4" y="481.1" font-size="3.9" text-anchor="end" fill="#444">10<tspan dy="-1.4" font-size="2.6">2</tspan></text>
<text x="385.6" y="518.1" font-size="3.9" text-anchor="middle" fill="#444">10<tspan dy="-1.4" font-size="2.6">2</tspan></text>
<text x="353.4" y="465.1" font-size="3.9" text-anchor="end" fill="#444">10<tspan dy="-1.4" font-size="2.6">3</tspan></text>
<text x="400.4" y="518.1" font-size="3.9" text-anchor="middle" fill="#444">10<tspan dy="-1.4" font-size="2.6">3</tspan></text>
<text x="353.4" y="449.0" font-size="3.9" text-anchor="end" fill="#444">10<tspan dy="-1.4" font-size="2.6">4</tspan></text>
<text x="415.3" y="518.1" font-size="3.9" text-anchor="middle" fill="#444">10<tspan dy="-1.4" font-size="2.6">4</tspan></text>
<line x1="355.2" y1="513.0" x2="414.7" y2="513.0" stroke="#bbb" stroke-width="0.9" stroke-dasharray="0.5 1.6"/>
<line x1="354.1" y1="447.5" x2="354.1" y2="511.8" stroke="#bbb" stroke-width="0.9" stroke-dasharray="0.5 1.6"/>
<ellipse cx="379.2" cy="464.5" rx="9.7" ry="14.9" fill="none" stroke="#a8a8a8" stroke-width="0.7"/>
<path d="M377.9,511.2 C377.5,507.2 374.7,506.2 374.9,500.2 C375.1,495.2 377.5,492.4 380.3,492.4 C383.1,492.4 385.5,495.2 385.7,500.2 C385.9,506.2 383.1,507.2 382.7,511.2 Z" fill="#9a9a9a" stroke="#000" stroke-width="1.9"/>
<path d="M378.8,507.2 C378.6,504.7 376.8,504.1 377.0,500.4 C377.1,497.3 378.6,495.5 380.3,495.5 C382.0,495.5 383.5,497.3 383.6,500.4 C383.8,504.1 382.0,504.7 381.8,507.2 Z" fill="#e6e6e6" stroke="#f4f4f4" stroke-width="0.6"/>
<path d="M379.6,503.4 C379.5,502.2 378.6,501.9 378.7,500.1 C378.7,498.6 379.5,497.8 380.3,497.8 C381.1,497.8 381.9,498.6 381.9,500.1 C382.0,501.9 381.1,502.2 381.0,503.4 Z" fill="#999"/>
<line x1="379.1" y1="498.2" x2="379.1" y2="506.2" stroke="#888" stroke-width="0.5"/>
<line x1="381.5" y1="498.2" x2="381.5" y2="506.2" stroke="#888" stroke-width="0.5"/>
<g fill="#222"><circle cx="386.9" cy="499.8" r="0.42"/><circle cx="373.0" cy="498.9" r="0.42"/><circle cx="384.4" cy="490.9" r="0.42"/><circle cx="384.5" cy="491.9" r="0.42"/><circle cx="386.5" cy="497.3" r="0.42"/><circle cx="379.9" cy="491.2" r="0.42"/><circle cx="385.9" cy="493.9" r="0.42"/><circle cx="388.2" cy="499.4" r="0.42"/><circle cx="386.4" cy="492.9" r="0.42"/><circle cx="384.0" cy="491.0" r="0.42"/><circle cx="382.0" cy="489.9" r="0.42"/><circle cx="387.4" cy="499.6" r="0.42"/><circle cx="387.8" cy="497.7" r="0.42"/><circle cx="386.6" cy="498.3" r="0.42"/><circle cx="371.6" cy="503.1" r="0.42"/><circle cx="380.7" cy="490.6" r="0.42"/><circle cx="372.2" cy="500.2" r="0.42"/><circle cx="387.1" cy="496.2" r="0.42"/><circle cx="374.8" cy="496.4" r="0.42"/><circle cx="383.7" cy="492.9" r="0.42"/><circle cx="383.7" cy="491.0" r="0.42"/><circle cx="371.7" cy="501.4" r="0.42"/><circle cx="387.6" cy="496.0" r="0.42"/><circle cx="372.8" cy="496.9" r="0.42"/><circle cx="382.0" cy="489.8" r="0.42"/><circle cx="388.8" cy="499.1" r="0.42"/><circle cx="388.6" cy="500.3" r="0.42"/><circle cx="382.3" cy="491.8" r="0.42"/><circle cx="384.2" cy="491.5" r="0.42"/><circle cx="373.4" cy="495.8" r="0.42"/><circle cx="385.1" cy="493.5" r="0.42"/><circle cx="383.2" cy="492.0" r="0.42"/><circle cx="386.4" cy="503.4" r="0.42"/><circle cx="386.2" cy="493.4" r="0.42"/><circle cx="386.9" cy="497.8" r="0.42"/><circle cx="388.1" cy="502.4" r="0.42"/><circle cx="385.5" cy="492.8" r="0.42"/><circle cx="374.5" cy="497.0" r="0.42"/><circle cx="388.4" cy="498.9" r="0.42"/><circle cx="382.6" cy="491.6" r="0.42"/><circle cx="387.3" cy="494.8" r="0.42"/><circle cx="372.8" cy="502.2" r="0.42"/><circle cx="387.0" cy="494.5" r="0.42"/><circle cx="386.8" cy="503.7" r="0.42"/><circle cx="388.0" cy="497.4" r="0.42"/><circle cx="387.8" cy="499.9" r="0.42"/><circle cx="380.0" cy="490.9" r="0.42"/><circle cx="385.8" cy="493.4" r="0.42"/><circle cx="385.9" cy="492.3" r="0.42"/><circle cx="384.8" cy="493.3" r="0.42"/><circle cx="381.5" cy="490.8" r="0.42"/><circle cx="388.7" cy="501.7" r="0.42"/><circle cx="379.1" cy="491.0" r="0.42"/><circle cx="372.3" cy="499.5" r="0.42"/><circle cx="381.6" cy="491.3" r="0.42"/><circle cx="385.2" cy="494.9" r="0.42"/><circle cx="387.5" cy="502.1" r="0.42"/><circle cx="377.0" cy="492.5" r="0.42"/><circle cx="381.5" cy="490.7" r="0.42"/><circle cx="376.1" cy="491.4" r="0.42"/><circle cx="383.9" cy="490.5" r="0.42"/><circle cx="385.5" cy="494.7" r="0.42"/><circle cx="388.6" cy="501.4" r="0.42"/><circle cx="384.9" cy="491.6" r="0.42"/><circle cx="387.0" cy="498.8" r="0.42"/><circle cx="383.8" cy="490.4" r="0.42"/><circle cx="386.6" cy="497.0" r="0.42"/><circle cx="387.3" cy="502.0" r="0.42"/><circle cx="381.5" cy="491.1" r="0.42"/><circle cx="385.2" cy="494.7" r="0.42"/><circle cx="381.5" cy="489.9" r="0.42"/><circle cx="384.0" cy="492.6" r="0.42"/><circle cx="380.9" cy="490.5" r="0.42"/><circle cx="381.9" cy="491.6" r="0.42"/><circle cx="379.7" cy="491.2" r="0.42"/><circle cx="383.8" cy="491.0" r="0.42"/><circle cx="379.0" cy="491.3" r="0.42"/><circle cx="385.6" cy="495.1" r="0.42"/><circle cx="383.9" cy="491.4" r="0.42"/><circle cx="387.2" cy="499.7" r="0.42"/><circle cx="372.5" cy="502.7" r="0.42"/><circle cx="374.3" cy="495.6" r="0.42"/><circle cx="383.5" cy="492.2" r="0.42"/><circle cx="383.7" cy="492.8" r="0.42"/><circle cx="379.6" cy="490.6" r="0.42"/><circle cx="386.8" cy="502.6" r="0.42"/><circle cx="382.6" cy="491.1" r="0.42"/><circle cx="386.1" cy="494.2" r="0.42"/><circle cx="386.3" cy="493.4" r="0.42"/><circle cx="374.2" cy="498.0" r="0.42"/><circle cx="374.4" cy="494.8" r="0.42"/><circle cx="372.3" cy="499.8" r="0.42"/><circle cx="385.3" cy="492.0" r="0.42"/><circle cx="388.1" cy="502.7" r="0.42"/><circle cx="388.6" cy="500.0" r="0.42"/><circle cx="385.6" cy="496.1" r="0.42"/><circle cx="385.3" cy="492.2" r="0.42"/><circle cx="388.5" cy="504.0" r="0.42"/><circle cx="386.8" cy="502.8" r="0.42"/><circle cx="381.5" cy="490.7" r="0.42"/><circle cx="388.5" cy="499.8" r="0.42"/><circle cx="385.6" cy="494.7" r="0.42"/><circle cx="383.6" cy="490.8" r="0.42"/><circle cx="384.0" cy="492.0" r="0.42"/><circle cx="387.8" cy="502.8" r="0.42"/><circle cx="387.6" cy="496.7" r="0.42"/><circle cx="383.1" cy="491.1" r="0.42"/><circle cx="372.2" cy="503.9" r="0.42"/><circle cx="387.7" cy="495.0" r="0.42"/><circle cx="387.4" cy="498.7" r="0.42"/><circle cx="387.6" cy="500.5" r="0.42"/><circle cx="384.1" cy="492.9" r="0.42"/><circle cx="384.7" cy="492.9" r="0.42"/><circle cx="384.4" cy="493.3" r="0.42"/><circle cx="372.2" cy="502.9" r="0.42"/><circle cx="372.2" cy="500.7" r="0.42"/><circle cx="382.8" cy="492.1" r="0.42"/><circle cx="387.6" cy="497.5" r="0.42"/><circle cx="387.6" cy="497.5" r="0.42"/><circle cx="386.2" cy="498.1" r="0.42"/><circle cx="388.6" cy="502.1" r="0.42"/><circle cx="386.8" cy="499.9" r="0.42"/><circle cx="381.0" cy="489.4" r="0.42"/><circle cx="373.9" cy="496.1" r="0.42"/><circle cx="385.6" cy="495.8" r="0.42"/><circle cx="381.9" cy="491.7" r="0.42"/><circle cx="374.4" cy="492.7" r="0.42"/><circle cx="383.9" cy="491.2" r="0.42"/><circle cx="386.8" cy="500.2" r="0.42"/><circle cx="383.3" cy="491.9" r="0.42"/><circle cx="382.7" cy="491.3" r="0.42"/><circle cx="384.7" cy="494.5" r="0.42"/><circle cx="373.0" cy="499.4" r="0.42"/><circle cx="386.2" cy="496.4" r="0.42"/><circle cx="386.8" cy="501.7" r="0.42"/><circle cx="385.3" cy="493.6" r="0.42"/><circle cx="384.5" cy="492.7" r="0.42"/><circle cx="385.0" cy="493.2" r="0.42"/><circle cx="375.6" cy="494.1" r="0.42"/><circle cx="382.1" cy="491.2" r="0.42"/><circle cx="381.2" cy="491.9" r="0.42"/><circle cx="386.2" cy="495.5" r="0.42"/><circle cx="373.1" cy="497.0" r="0.42"/><circle cx="386.7" cy="502.3" r="0.42"/><circle cx="386.5" cy="499.8" r="0.42"/><circle cx="373.5" cy="501.2" r="0.42"/><circle cx="372.4" cy="501.2" r="0.42"/><circle cx="383.7" cy="493.0" r="0.42"/><circle cx="388.9" cy="499.6" r="0.42"/><circle cx="387.0" cy="494.7" r="0.42"/><circle cx="374.0" cy="510.0" r="0.45"/><circle cx="386.5" cy="509.8" r="0.45"/><circle cx="372.3" cy="509.9" r="0.45"/><circle cx="381.2" cy="510.0" r="0.45"/><circle cx="380.3" cy="510.3" r="0.45"/><circle cx="381.8" cy="510.0" r="0.45"/><circle cx="373.5" cy="511.1" r="0.45"/><circle cx="381.0" cy="510.8" r="0.45"/><circle cx="378.7" cy="511.2" r="0.45"/><circle cx="384.2" cy="511.2" r="0.45"/><circle cx="385.6" cy="510.0" r="0.45"/><circle cx="379.6" cy="511.0" r="0.45"/><circle cx="378.7" cy="489.0" r="0.35"/><circle cx="378.7" cy="490.4" r="0.35"/><circle cx="381.0" cy="490.5" r="0.35"/><circle cx="378.9" cy="489.8" r="0.35"/><circle cx="379.0" cy="483.5" r="0.35"/><circle cx="379.7" cy="489.7" r="0.35"/><circle cx="378.5" cy="488.7" r="0.35"/><circle cx="379.4" cy="488.9" r="0.35"/><circle cx="376.3" cy="484.3" r="0.35"/><circle cx="379.3" cy="490.7" r="0.35"/></g>
<g fill="#333"><circle cx="381.1" cy="464.2" r="0.4"/><circle cx="378.9" cy="456.0" r="0.4"/><circle cx="377.4" cy="462.2" r="0.4"/><circle cx="377.2" cy="467.2" r="0.4"/><circle cx="376.8" cy="453.2" r="0.4"/><circle cx="379.5" cy="453.2" r="0.4"/><circle cx="383.9" cy="457.5" r="0.4"/><circle cx="379.9" cy="461.7" r="0.4"/><circle cx="378.0" cy="453.3" r="0.4"/><circle cx="375.5" cy="467.8" r="0.4"/><circle cx="382.5" cy="474.9" r="0.4"/><circle cx="376.5" cy="466.1" r="0.4"/><circle cx="380.0" cy="467.6" r="0.4"/><circle cx="378.8" cy="467.0" r="0.4"/><circle cx="382.1" cy="466.3" r="0.4"/><circle cx="383.5" cy="462.0" r="0.4"/><circle cx="383.7" cy="459.1" r="0.4"/><circle cx="384.0" cy="447.9" r="0.4"/><circle cx="380.0" cy="458.6" r="0.4"/><circle cx="380.0" cy="468.7" r="0.4"/><circle cx="381.7" cy="463.5" r="0.4"/><circle cx="384.1" cy="454.9" r="0.4"/><circle cx="378.0" cy="471.3" r="0.4"/><circle cx="380.8" cy="451.6" r="0.4"/><circle cx="380.8" cy="456.5" r="0.4"/><circle cx="383.5" cy="469.3" r="0.4"/><circle cx="378.7" cy="470.1" r="0.4"/><circle cx="378.0" cy="468.1" r="0.4"/><circle cx="381.4" cy="462.3" r="0.4"/><circle cx="376.6" cy="461.5" r="0.4"/><circle cx="374.5" cy="459.9" r="0.4"/><circle cx="375.6" cy="469.7" r="0.4"/><circle cx="377.7" cy="449.6" r="0.4"/><circle cx="381.4" cy="465.0" r="0.4"/><circle cx="378.8" cy="474.6" r="0.4"/><circle cx="381.9" cy="463.4" r="0.4"/><circle cx="378.5" cy="446.7" r="0.4"/><circle cx="381.2" cy="468.3" r="0.4"/><circle cx="378.6" cy="455.2" r="0.4"/><circle cx="379.9" cy="453.8" r="0.4"/><circle cx="380.2" cy="478.7" r="0.38"/><circle cx="381.1" cy="484.0" r="0.38"/><circle cx="380.4" cy="486.2" r="0.38"/><circle cx="381.1" cy="483.6" r="0.38"/><circle cx="378.7" cy="483.3" r="0.38"/><circle cx="379.3" cy="484.1" r="0.38"/><circle cx="380.1" cy="479.0" r="0.38"/><circle cx="380.6" cy="478.6" r="0.38"/></g>
<rect x="388.9" y="458.4" width="24.6" height="13" fill="#fff"/>
<text font-size="14" textLength="24.2" lengthAdjust="spacingAndGlyphs" fill="#1a1a1a" x="389.2" y="469.6">0.98</text>
<rect x="426.1" y="447.5" width="59.5" height="64.3" fill="#fff" stroke="#b4b4b4" stroke-width="0.8"/>
<text x="424.3" y="513.3" font-size="3.9" text-anchor="end" fill="#444">10<tspan dy="-1.4" font-size="2.6">0</tspan></text>
<text x="426.7" y="518.1" font-size="3.9" text-anchor="middle" fill="#444">10<tspan dy="-1.4" font-size="2.6">0</tspan></text>
<text x="424.3" y="497.2" font-size="3.9" text-anchor="end" fill="#444">10<tspan dy="-1.4" font-size="2.6">1</tspan></text>
<text x="441.6" y="518.1" font-size="3.9" text-anchor="middle" fill="#444">10<tspan dy="-1.4" font-size="2.6">1</tspan></text>
<text x="424.3" y="481.1" font-size="3.9" text-anchor="end" fill="#444">10<tspan dy="-1.4" font-size="2.6">2</tspan></text>
<text x="456.5" y="518.1" font-size="3.9" text-anchor="middle" fill="#444">10<tspan dy="-1.4" font-size="2.6">2</tspan></text>
<text x="424.3" y="465.1" font-size="3.9" text-anchor="end" fill="#444">10<tspan dy="-1.4" font-size="2.6">3</tspan></text>
<text x="471.3" y="518.1" font-size="3.9" text-anchor="middle" fill="#444">10<tspan dy="-1.4" font-size="2.6">3</tspan></text>
<text x="424.3" y="449.0" font-size="3.9" text-anchor="end" fill="#444">10<tspan dy="-1.4" font-size="2.6">4</tspan></text>
<text x="486.2" y="518.1" font-size="3.9" text-anchor="middle" fill="#444">10<tspan dy="-1.4" font-size="2.6">4</tspan></text>
<line x1="426.1" y1="513.0" x2="485.6" y2="513.0" stroke="#bbb" stroke-width="0.9" stroke-dasharray="0.5 1.6"/>
<line x1="425.0" y1="447.5" x2="425.0" y2="511.8" stroke="#bbb" stroke-width="0.9" stroke-dasharray="0.5 1.6"/>
<ellipse cx="450.1" cy="464.5" rx="9.7" ry="14.9" fill="none" stroke="#a8a8a8" stroke-width="0.7"/>
<path d="M448.8,511.2 C448.4,507.2 445.6,506.2 445.8,500.2 C446.0,495.2 448.4,492.4 451.2,492.4 C454.0,492.4 456.4,495.2 456.6,500.2 C456.8,506.2 454.0,507.2 453.6,511.2 Z" fill="#9a9a9a" stroke="#000" stroke-width="1.9"/>
<path d="M449.7,507.2 C449.5,504.7 447.7,504.1 447.9,500.4 C448.0,497.3 449.5,495.5 451.2,495.5 C452.9,495.5 454.4,497.3 454.5,500.4 C454.7,504.1 452.9,504.7 452.7,507.2 Z" fill="#e6e6e6" stroke="#f4f4f4" stroke-width="0.6"/>
<path d="M450.5,503.4 C450.4,502.2 449.5,501.9 449.6,500.1 C449.6,498.6 450.4,497.8 451.2,497.8 C452.0,497.8 452.8,498.6 452.8,500.1 C452.9,501.9 452.0,502.2 451.9,503.4 Z" fill="#999"/>
<line x1="450.0" y1="498.2" x2="450.0" y2="506.2" stroke="#888" stroke-width="0.5"/>
<line x1="452.4" y1="498.2" x2="452.4" y2="506.2" stroke="#888" stroke-width="0.5"/>
<g fill="#222"><circle cx="456.6" cy="496.0" r="0.42"/><circle cx="455.2" cy="491.7" r="0.42"/><circle cx="457.0" cy="497.2" r="0.42"/><circle cx="446.6" cy="493.1" r="0.42"/><circle cx="454.8" cy="490.6" r="0.42"/><circle cx="454.4" cy="490.6" r="0.42"/><circle cx="459.0" cy="503.8" r="0.42"/><circle cx="456.8" cy="492.5" r="0.42"/><circle cx="459.1" cy="501.3" r="0.42"/><circle cx="457.0" cy="492.4" r="0.42"/><circle cx="457.9" cy="503.5" r="0.42"/><circle cx="445.0" cy="498.5" r="0.42"/><circle cx="455.1" cy="491.4" r="0.42"/><circle cx="458.4" cy="501.9" r="0.42"/><circle cx="458.8" cy="496.9" r="0.42"/><circle cx="457.9" cy="500.1" r="0.42"/><circle cx="454.1" cy="491.8" r="0.42"/><circle cx="456.6" cy="492.5" r="0.42"/><circle cx="457.2" cy="496.6" r="0.42"/><circle cx="458.4" cy="499.4" r="0.42"/><circle cx="457.7" cy="500.9" r="0.42"/><circle cx="458.5" cy="502.7" r="0.42"/><circle cx="454.7" cy="492.0" r="0.42"/><circle cx="454.6" cy="493.3" r="0.42"/><circle cx="449.7" cy="489.9" r="0.42"/><circle cx="445.0" cy="498.7" r="0.42"/><circle cx="453.7" cy="492.0" r="0.42"/><circle cx="452.6" cy="492.1" r="0.42"/><circle cx="458.2" cy="495.8" r="0.42"/><circle cx="455.2" cy="493.4" r="0.42"/><circle cx="454.3" cy="492.8" r="0.42"/><circle cx="455.6" cy="494.0" r="0.42"/><circle cx="454.6" cy="493.4" r="0.42"/><circle cx="456.1" cy="494.4" r="0.42"/><circle cx="447.8" cy="492.9" r="0.42"/><circle cx="443.1" cy="501.8" r="0.42"/><circle cx="459.6" cy="499.7" r="0.42"/><circle cx="459.6" cy="499.9" r="0.42"/><circle cx="458.5" cy="500.5" r="0.42"/><circle cx="445.2" cy="494.5" r="0.42"/><circle cx="452.7" cy="490.5" r="0.42"/><circle cx="452.6" cy="491.0" r="0.42"/><circle cx="451.4" cy="489.3" r="0.42"/><circle cx="452.3" cy="489.9" r="0.42"/><circle cx="452.0" cy="491.4" r="0.42"/><circle cx="455.8" cy="493.3" r="0.42"/><circle cx="454.2" cy="491.9" r="0.42"/><circle cx="457.9" cy="495.9" r="0.42"/><circle cx="459.1" cy="499.5" r="0.42"/><circle cx="459.9" cy="501.4" r="0.42"/><circle cx="450.7" cy="490.4" r="0.42"/><circle cx="456.2" cy="494.6" r="0.42"/><circle cx="452.2" cy="491.0" r="0.42"/><circle cx="446.6" cy="491.6" r="0.42"/><circle cx="459.8" cy="503.1" r="0.42"/><circle cx="457.4" cy="499.0" r="0.42"/><circle cx="457.1" cy="492.7" r="0.42"/><circle cx="452.9" cy="491.0" r="0.42"/><circle cx="459.1" cy="501.8" r="0.42"/><circle cx="454.8" cy="491.5" r="0.42"/><circle cx="459.9" cy="502.7" r="0.42"/><circle cx="455.9" cy="492.7" r="0.42"/><circle cx="456.6" cy="495.4" r="0.42"/><circle cx="447.4" cy="493.6" r="0.42"/><circle cx="448.0" cy="491.7" r="0.42"/><circle cx="455.1" cy="494.0" r="0.42"/><circle cx="452.6" cy="490.5" r="0.42"/><circle cx="452.4" cy="491.6" r="0.42"/><circle cx="457.5" cy="496.2" r="0.42"/><circle cx="444.5" cy="500.1" r="0.42"/><circle cx="455.0" cy="491.6" r="0.42"/><circle cx="457.8" cy="499.3" r="0.42"/><circle cx="457.0" cy="497.0" r="0.42"/><circle cx="458.9" cy="500.8" r="0.42"/><circle cx="449.7" cy="491.4" r="0.42"/><circle cx="457.8" cy="503.5" r="0.42"/><circle cx="452.3" cy="491.7" r="0.42"/><circle cx="444.4" cy="494.7" r="0.42"/><circle cx="447.5" cy="491.4" r="0.42"/><circle cx="459.2" cy="499.2" r="0.42"/><circle cx="444.1" cy="496.9" r="0.42"/><circle cx="458.8" cy="503.7" r="0.42"/><circle cx="459.3" cy="502.7" r="0.42"/><circle cx="457.7" cy="503.6" r="0.42"/><circle cx="455.2" cy="493.3" r="0.42"/><circle cx="452.5" cy="492.2" r="0.42"/><circle cx="456.5" cy="495.6" r="0.42"/><circle cx="458.3" cy="499.4" r="0.42"/><circle cx="457.6" cy="502.2" r="0.42"/><circle cx="455.0" cy="491.5" r="0.42"/><circle cx="458.3" cy="500.6" r="0.42"/><circle cx="458.8" cy="501.2" r="0.42"/><circle cx="446.7" cy="493.3" r="0.42"/><circle cx="458.0" cy="494.9" r="0.42"/><circle cx="455.7" cy="492.5" r="0.42"/><circle cx="459.4" cy="502.3" r="0.42"/><circle cx="458.8" cy="500.5" r="0.42"/><circle cx="449.7" cy="492.0" r="0.42"/><circle cx="456.6" cy="495.3" r="0.42"/><circle cx="446.7" cy="494.8" r="0.42"/><circle cx="457.0" cy="495.9" r="0.42"/><circle cx="446.3" cy="492.8" r="0.42"/><circle cx="457.3" cy="496.4" r="0.42"/><circle cx="454.5" cy="492.9" r="0.42"/><circle cx="443.8" cy="497.0" r="0.42"/><circle cx="455.2" cy="493.0" r="0.42"/><circle cx="458.9" cy="503.1" r="0.42"/><circle cx="450.9" cy="491.5" r="0.42"/><circle cx="458.6" cy="501.8" r="0.42"/><circle cx="455.6" cy="492.6" r="0.42"/><circle cx="459.4" cy="502.7" r="0.42"/><circle cx="456.0" cy="493.2" r="0.42"/><circle cx="455.3" cy="493.1" r="0.42"/><circle cx="452.8" cy="491.3" r="0.42"/><circle cx="457.9" cy="495.9" r="0.42"/><circle cx="452.2" cy="491.4" r="0.42"/><circle cx="455.8" cy="494.4" r="0.42"/><circle cx="455.3" cy="494.1" r="0.42"/><circle cx="457.9" cy="497.1" r="0.42"/><circle cx="459.6" cy="498.5" r="0.42"/><circle cx="457.7" cy="502.6" r="0.42"/><circle cx="458.2" cy="497.5" r="0.42"/><circle cx="457.3" cy="497.7" r="0.42"/><circle cx="458.1" cy="499.7" r="0.42"/><circle cx="454.7" cy="493.2" r="0.42"/><circle cx="452.7" cy="489.9" r="0.42"/><circle cx="455.2" cy="493.1" r="0.42"/><circle cx="452.4" cy="491.8" r="0.42"/><circle cx="459.3" cy="499.3" r="0.42"/><circle cx="456.9" cy="494.6" r="0.42"/><circle cx="459.6" cy="500.8" r="0.42"/><circle cx="457.5" cy="496.8" r="0.42"/><circle cx="459.5" cy="503.9" r="0.42"/><circle cx="445.0" cy="494.9" r="0.42"/><circle cx="444.2" cy="502.0" r="0.42"/><circle cx="457.5" cy="497.6" r="0.42"/><circle cx="458.3" cy="499.9" r="0.42"/><circle cx="444.0" cy="500.4" r="0.42"/><circle cx="453.0" cy="490.4" r="0.42"/><circle cx="443.5" cy="495.8" r="0.42"/><circle cx="456.6" cy="492.7" r="0.42"/><circle cx="457.8" cy="494.3" r="0.42"/><circle cx="454.5" cy="490.8" r="0.42"/><circle cx="452.9" cy="490.0" r="0.42"/><circle cx="445.1" cy="494.2" r="0.42"/><circle cx="458.5" cy="495.5" r="0.42"/><circle cx="455.6" cy="491.7" r="0.42"/><circle cx="457.8" cy="499.6" r="0.42"/><circle cx="454.5" cy="492.3" r="0.42"/><circle cx="454.7" cy="493.3" r="0.42"/><circle cx="446.4" cy="510.5" r="0.45"/><circle cx="449.6" cy="510.0" r="0.45"/><circle cx="458.5" cy="510.7" r="0.45"/><circle cx="453.3" cy="509.9" r="0.45"/><circle cx="450.7" cy="509.9" r="0.45"/><circle cx="454.9" cy="510.7" r="0.45"/><circle cx="457.2" cy="510.3" r="0.45"/><circle cx="444.9" cy="510.3" r="0.45"/><circle cx="456.5" cy="510.4" r="0.45"/><circle cx="450.9" cy="510.6" r="0.45"/><circle cx="457.3" cy="510.2" r="0.45"/><circle cx="446.5" cy="510.7" r="0.45"/><circle cx="447.9" cy="483.6" r="0.35"/><circle cx="450.0" cy="489.3" r="0.35"/><circle cx="450.5" cy="490.7" r="0.35"/><circle cx="448.9" cy="488.9" r="0.35"/><circle cx="449.9" cy="487.1" r="0.35"/><circle cx="451.6" cy="488.5" r="0.35"/><circle cx="451.3" cy="484.8" r="0.35"/><circle cx="449.6" cy="489.0" r="0.35"/><circle cx="450.1" cy="484.0" r="0.35"/><circle cx="450.8" cy="483.1" r="0.35"/></g>
<g fill="#333"><circle cx="453.5" cy="462.7" r="0.4"/><circle cx="448.1" cy="468.9" r="0.4"/><circle cx="452.4" cy="461.4" r="0.4"/><circle cx="450.2" cy="467.7" r="0.4"/><circle cx="450.7" cy="459.5" r="0.4"/><circle cx="448.2" cy="461.1" r="0.4"/><circle cx="450.2" cy="460.3" r="0.4"/><circle cx="461.3" cy="456.3" r="0.4"/><circle cx="446.9" cy="459.3" r="0.4"/><circle cx="453.0" cy="474.0" r="0.4"/><circle cx="447.1" cy="460.1" r="0.4"/><circle cx="452.4" cy="459.2" r="0.4"/><circle cx="452.4" cy="461.3" r="0.4"/><circle cx="453.7" cy="464.0" r="0.4"/><circle cx="455.0" cy="456.0" r="0.4"/><circle cx="453.7" cy="461.2" r="0.4"/><circle cx="453.7" cy="460.1" r="0.4"/><circle cx="453.0" cy="469.1" r="0.4"/><circle cx="451.7" cy="457.5" r="0.4"/><circle cx="449.4" cy="460.5" r="0.4"/><circle cx="450.5" cy="468.7" r="0.4"/><circle cx="448.2" cy="462.5" r="0.4"/><circle cx="451.1" cy="463.3" r="0.4"/><circle cx="448.9" cy="470.4" r="0.4"/><circle cx="450.9" cy="459.0" r="0.4"/><circle cx="450.8" cy="469.6" r="0.4"/><circle cx="452.4" cy="469.7" r="0.4"/><circle cx="452.2" cy="460.9" r="0.4"/><circle cx="447.6" cy="458.5" r="0.4"/><circle cx="450.9" cy="454.3" r="0.4"/><circle cx="450.4" cy="458.7" r="0.4"/><circle cx="453.8" cy="452.4" r="0.4"/><circle cx="456.4" cy="467.3" r="0.4"/><circle cx="449.9" cy="463.8" r="0.4"/><circle cx="454.8" cy="467.2" r="0.4"/><circle cx="450.3" cy="460.3" r="0.4"/><circle cx="447.6" cy="465.0" r="0.4"/><circle cx="453.1" cy="462.9" r="0.4"/><circle cx="451.1" cy="458.9" r="0.4"/><circle cx="451.3" cy="466.1" r="0.4"/><circle cx="448.1" cy="467.1" r="0.4"/><circle cx="450.4" cy="466.1" r="0.4"/><circle cx="451.1" cy="465.3" r="0.4"/><circle cx="451.6" cy="467.5" r="0.4"/><circle cx="449.4" cy="462.9" r="0.4"/><circle cx="448.3" cy="463.8" r="0.4"/><circle cx="453.6" cy="461.9" r="0.4"/><circle cx="453.4" cy="460.9" r="0.4"/><circle cx="451.9" cy="470.0" r="0.4"/><circle cx="451.8" cy="465.6" r="0.4"/><circle cx="454.2" cy="466.8" r="0.4"/><circle cx="453.3" cy="461.8" r="0.4"/><circle cx="449.4" cy="467.6" r="0.4"/><circle cx="448.7" cy="469.8" r="0.4"/><circle cx="449.8" cy="465.0" r="0.4"/><circle cx="453.0" cy="457.6" r="0.4"/><circle cx="455.6" cy="463.4" r="0.4"/><circle cx="450.6" cy="457.9" r="0.4"/><circle cx="447.2" cy="454.0" r="0.4"/><circle cx="448.8" cy="466.4" r="0.4"/><circle cx="450.0" cy="469.7" r="0.4"/><circle cx="448.9" cy="455.3" r="0.4"/><circle cx="452.2" cy="462.0" r="0.4"/><circle cx="447.8" cy="471.0" r="0.4"/><circle cx="451.7" cy="455.9" r="0.4"/><circle cx="449.9" cy="458.5" r="0.4"/><circle cx="453.8" cy="460.6" r="0.4"/><circle cx="449.7" cy="465.0" r="0.4"/><circle cx="454.7" cy="470.8" r="0.4"/><circle cx="451.1" cy="461.8" r="0.4"/><circle cx="450.5" cy="482.5" r="0.38"/><circle cx="452.3" cy="481.4" r="0.38"/><circle cx="452.0" cy="482.8" r="0.38"/><circle cx="450.4" cy="485.9" r="0.38"/><circle cx="450.2" cy="481.2" r="0.38"/><circle cx="450.1" cy="481.6" r="0.38"/><circle cx="449.5" cy="480.6" r="0.38"/><circle cx="449.8" cy="481.5" r="0.38"/></g>
<rect x="459.9" y="458.4" width="24.6" height="13" fill="#fff"/>
<text font-size="14" textLength="24.2" lengthAdjust="spacingAndGlyphs" fill="#1a1a1a" x="460.2" y="469.6">0.86</text>
<rect x="355.2" y="524.4" width="59.5" height="64.3" fill="#fff" stroke="#b4b4b4" stroke-width="0.8"/>
<text x="353.4" y="590.2" font-size="3.9" text-anchor="end" fill="#444">10<tspan dy="-1.4" font-size="2.6">0</tspan></text>
<text x="355.8" y="595.0" font-size="3.9" text-anchor="middle" fill="#444">10<tspan dy="-1.4" font-size="2.6">0</tspan></text>
<text x="353.4" y="574.1" font-size="3.9" text-anchor="end" fill="#444">10<tspan dy="-1.4" font-size="2.6">1</tspan></text>
<text x="370.7" y="595.0" font-size="3.9" text-anchor="middle" fill="#444">10<tspan dy="-1.4" font-size="2.6">1</tspan></text>
<text x="353.4" y="558.0" font-size="3.9" text-anchor="end" fill="#444">10<tspan dy="-1.4" font-size="2.6">2</tspan></text>
<text x="385.6" y="595.0" font-size="3.9" text-anchor="middle" fill="#444">10<tspan dy="-1.4" font-size="2.6">2</tspan></text>
<text x="353.4" y="542.0" font-size="3.9" text-anchor="end" fill="#444">10<tspan dy="-1.4" font-size="2.6">3</tspan></text>
<text x="400.4" y="595.0" font-size="3.9" text-anchor="middle" fill="#444">10<tspan dy="-1.4" font-size="2.6">3</tspan></text>
<text x="353.4" y="525.9" font-size="3.9" text-anchor="end" fill="#444">10<tspan dy="-1.4" font-size="2.6">4</tspan></text>
<text x="415.3" y="595.0" font-size="3.9" text-anchor="middle" fill="#444">10<tspan dy="-1.4" font-size="2.6">4</tspan></text>
<line x1="355.2" y1="589.9" x2="414.7" y2="589.9" stroke="#bbb" stroke-width="0.9" stroke-dasharray="0.5 1.6"/>
<line x1="354.1" y1="524.4" x2="354.1" y2="588.7" stroke="#bbb" stroke-width="0.9" stroke-dasharray="0.5 1.6"/>
<ellipse cx="379.2" cy="541.4" rx="9.7" ry="14.9" fill="none" stroke="#a8a8a8" stroke-width="0.7"/>
<path d="M377.9,588.1 C377.5,584.1 374.7,583.1 374.9,577.1 C375.1,572.1 377.5,569.3 380.3,569.3 C383.1,569.3 385.5,572.1 385.7,577.1 C385.9,583.1 383.1,584.1 382.7,588.1 Z" fill="#9a9a9a" stroke="#000" stroke-width="1.9"/>
<path d="M378.8,584.1 C378.6,581.6 376.8,581.0 377.0,577.3 C377.1,574.2 378.6,572.4 380.3,572.4 C382.0,572.4 383.5,574.2 383.6,577.3 C383.8,581.0 382.0,581.6 381.8,584.1 Z" fill="#e6e6e6" stroke="#f4f4f4" stroke-width="0.6"/>
<path d="M379.6,580.3 C379.5,579.1 378.6,578.8 378.7,577.0 C378.7,575.5 379.5,574.7 380.3,574.7 C381.1,574.7 381.9,575.5 381.9,577.0 C382.0,578.8 381.1,579.1 381.0,580.3 Z" fill="#999"/>
<line x1="379.1" y1="575.1" x2="379.1" y2="583.1" stroke="#888" stroke-width="0.5"/>
<line x1="381.5" y1="575.1" x2="381.5" y2="583.1" stroke="#888" stroke-width="0.5"/>
<g fill="#222"><circle cx="383.1" cy="568.7" r="0.42"/><circle cx="383.3" cy="569.1" r="0.42"/><circle cx="388.2" cy="577.3" r="0.42"/><circle cx="388.5" cy="576.6" r="0.42"/><circle cx="387.2" cy="578.6" r="0.42"/><circle cx="374.3" cy="569.9" r="0.42"/><circle cx="382.2" cy="566.9" r="0.42"/><circle cx="381.5" cy="568.6" r="0.42"/><circle cx="382.9" cy="568.5" r="0.42"/><circle cx="374.2" cy="571.5" r="0.42"/><circle cx="386.6" cy="580.2" r="0.42"/><circle cx="388.1" cy="577.9" r="0.42"/><circle cx="387.3" cy="573.7" r="0.42"/><circle cx="373.2" cy="579.6" r="0.42"/><circle cx="387.4" cy="576.7" r="0.42"/><circle cx="371.6" cy="580.0" r="0.42"/><circle cx="386.5" cy="574.9" r="0.42"/><circle cx="384.3" cy="570.8" r="0.42"/><circle cx="387.6" cy="579.5" r="0.42"/><circle cx="378.7" cy="568.0" r="0.42"/><circle cx="381.7" cy="568.3" r="0.42"/><circle cx="388.9" cy="578.2" r="0.42"/><circle cx="386.9" cy="574.2" r="0.42"/><circle cx="388.4" cy="580.8" r="0.42"/><circle cx="380.0" cy="568.8" r="0.42"/><circle cx="384.8" cy="569.0" r="0.42"/><circle cx="383.1" cy="566.9" r="0.42"/><circle cx="387.5" cy="574.1" r="0.42"/><circle cx="386.5" cy="570.3" r="0.42"/><circle cx="373.2" cy="572.4" r="0.42"/><circle cx="376.0" cy="570.2" r="0.42"/><circle cx="383.2" cy="568.1" r="0.42"/><circle cx="380.5" cy="568.1" r="0.42"/><circle cx="388.9" cy="577.5" r="0.42"/><circle cx="382.8" cy="567.4" r="0.42"/><circle cx="378.1" cy="568.2" r="0.42"/><circle cx="388.3" cy="575.7" r="0.42"/><circle cx="385.1" cy="568.6" r="0.42"/><circle cx="386.4" cy="571.0" r="0.42"/><circle cx="387.7" cy="577.0" r="0.42"/><circle cx="387.6" cy="574.1" r="0.42"/><circle cx="371.7" cy="577.6" r="0.42"/><circle cx="381.9" cy="567.7" r="0.42"/><circle cx="374.4" cy="571.9" r="0.42"/><circle cx="389.0" cy="578.7" r="0.42"/><circle cx="375.2" cy="572.1" r="0.42"/><circle cx="385.1" cy="568.2" r="0.42"/><circle cx="388.0" cy="576.3" r="0.42"/><circle cx="386.6" cy="579.2" r="0.42"/><circle cx="387.6" cy="572.3" r="0.42"/><circle cx="381.0" cy="567.0" r="0.42"/><circle cx="388.9" cy="578.3" r="0.42"/><circle cx="385.6" cy="572.8" r="0.42"/><circle cx="383.9" cy="570.0" r="0.42"/><circle cx="382.2" cy="567.3" r="0.42"/><circle cx="387.4" cy="571.9" r="0.42"/><circle cx="372.1" cy="579.7" r="0.42"/><circle cx="388.7" cy="579.1" r="0.42"/><circle cx="372.1" cy="577.3" r="0.42"/><circle cx="383.2" cy="569.2" r="0.42"/><circle cx="385.6" cy="569.0" r="0.42"/><circle cx="387.6" cy="578.4" r="0.42"/><circle cx="387.2" cy="574.4" r="0.42"/><circle cx="388.5" cy="577.9" r="0.42"/><circle cx="373.3" cy="576.4" r="0.42"/><circle cx="381.4" cy="568.7" r="0.42"/><circle cx="387.8" cy="580.3" r="0.42"/><circle cx="384.8" cy="571.2" r="0.42"/><circle cx="378.8" cy="566.6" r="0.42"/><circle cx="384.4" cy="567.8" r="0.42"/><circle cx="379.3" cy="566.7" r="0.42"/><circle cx="381.6" cy="567.5" r="0.42"/><circle cx="388.9" cy="580.9" r="0.42"/><circle cx="387.0" cy="578.7" r="0.42"/><circle cx="372.9" cy="574.3" r="0.42"/><circle cx="371.5" cy="577.9" r="0.42"/><circle cx="385.8" cy="574.0" r="0.42"/><circle cx="387.2" cy="580.6" r="0.42"/><circle cx="383.9" cy="567.6" r="0.42"/><circle cx="383.1" cy="569.2" r="0.42"/><circle cx="383.3" cy="567.1" r="0.42"/><circle cx="380.0" cy="568.0" r="0.42"/><circle cx="383.6" cy="568.0" r="0.42"/><circle cx="373.9" cy="579.9" r="0.42"/><circle cx="384.6" cy="570.8" r="0.42"/><circle cx="371.5" cy="579.0" r="0.42"/><circle cx="384.8" cy="569.1" r="0.42"/><circle cx="379.3" cy="568.0" r="0.42"/><circle cx="386.9" cy="578.2" r="0.42"/><circle cx="387.1" cy="571.8" r="0.42"/><circle cx="386.3" cy="571.5" r="0.42"/><circle cx="386.5" cy="576.8" r="0.42"/><circle cx="374.9" cy="572.2" r="0.42"/><circle cx="386.2" cy="574.5" r="0.42"/><circle cx="385.5" cy="569.5" r="0.42"/><circle cx="381.9" cy="568.1" r="0.42"/><circle cx="387.0" cy="579.3" r="0.42"/><circle cx="383.9" cy="570.3" r="0.42"/><circle cx="381.7" cy="568.4" r="0.42"/><circle cx="386.6" cy="575.4" r="0.42"/><circle cx="388.3" cy="577.8" r="0.42"/><circle cx="386.8" cy="579.0" r="0.42"/><circle cx="377.0" cy="569.8" r="0.42"/><circle cx="387.8" cy="579.0" r="0.42"/><circle cx="388.3" cy="577.8" r="0.42"/><circle cx="376.2" cy="569.6" r="0.42"/><circle cx="388.7" cy="576.7" r="0.42"/><circle cx="384.4" cy="570.5" r="0.42"/><circle cx="384.8" cy="570.4" r="0.42"/><circle cx="386.3" cy="572.6" r="0.42"/><circle cx="385.5" cy="572.2" r="0.42"/><circle cx="387.3" cy="571.6" r="0.42"/><circle cx="380.5" cy="568.3" r="0.42"/><circle cx="382.0" cy="567.1" r="0.42"/><circle cx="386.5" cy="572.5" r="0.42"/><circle cx="388.0" cy="575.7" r="0.42"/><circle cx="385.4" cy="568.5" r="0.42"/><circle cx="386.8" cy="579.7" r="0.42"/><circle cx="385.2" cy="569.3" r="0.42"/><circle cx="381.5" cy="567.2" r="0.42"/><circle cx="383.8" cy="570.5" r="0.42"/><circle cx="383.1" cy="567.9" r="0.42"/><circle cx="384.4" cy="570.8" r="0.42"/><circle cx="382.5" cy="569.3" r="0.42"/><circle cx="373.4" cy="580.6" r="0.42"/><circle cx="381.7" cy="566.8" r="0.42"/><circle cx="388.9" cy="577.2" r="0.42"/><circle cx="387.2" cy="574.3" r="0.42"/><circle cx="387.8" cy="575.8" r="0.42"/><circle cx="385.1" cy="570.1" r="0.42"/><circle cx="384.1" cy="568.9" r="0.42"/><circle cx="388.4" cy="576.2" r="0.42"/><circle cx="387.6" cy="575.6" r="0.42"/><circle cx="383.0" cy="567.7" r="0.42"/><circle cx="387.3" cy="572.7" r="0.42"/><circle cx="384.0" cy="569.6" r="0.42"/><circle cx="383.6" cy="569.6" r="0.42"/><circle cx="376.2" cy="568.7" r="0.42"/><circle cx="386.7" cy="574.7" r="0.42"/><circle cx="385.8" cy="569.1" r="0.42"/><circle cx="388.1" cy="574.6" r="0.42"/><circle cx="388.4" cy="576.4" r="0.42"/><circle cx="386.3" cy="572.6" r="0.42"/><circle cx="374.5" cy="569.7" r="0.42"/><circle cx="387.3" cy="575.3" r="0.42"/><circle cx="386.8" cy="576.0" r="0.42"/><circle cx="383.6" cy="567.5" r="0.42"/><circle cx="384.0" cy="569.2" r="0.42"/><circle cx="383.1" cy="569.5" r="0.42"/><circle cx="387.4" cy="576.3" r="0.42"/><circle cx="372.6" cy="587.5" r="0.45"/><circle cx="378.4" cy="588.1" r="0.45"/><circle cx="378.2" cy="587.0" r="0.45"/><circle cx="377.6" cy="587.1" r="0.45"/><circle cx="382.3" cy="587.8" r="0.45"/><circle cx="372.6" cy="587.1" r="0.45"/><circle cx="382.1" cy="587.7" r="0.45"/><circle cx="375.5" cy="586.8" r="0.45"/><circle cx="386.8" cy="587.7" r="0.45"/><circle cx="381.7" cy="587.2" r="0.45"/><circle cx="377.5" cy="588.0" r="0.45"/><circle cx="377.5" cy="587.1" r="0.45"/><circle cx="378.0" cy="565.2" r="0.35"/><circle cx="380.0" cy="566.2" r="0.35"/><circle cx="378.8" cy="564.3" r="0.35"/><circle cx="377.3" cy="561.6" r="0.35"/><circle cx="382.4" cy="560.3" r="0.35"/><circle cx="379.5" cy="560.2" r="0.35"/><circle cx="379.4" cy="562.8" r="0.35"/><circle cx="379.0" cy="567.3" r="0.35"/><circle cx="380.0" cy="561.1" r="0.35"/><circle cx="379.0" cy="561.2" r="0.35"/></g>
<g fill="#333"><circle cx="373.0" cy="542.0" r="0.4"/><circle cx="382.2" cy="541.7" r="0.4"/><circle cx="380.5" cy="547.5" r="0.4"/><circle cx="380.8" cy="529.5" r="0.4"/><circle cx="377.7" cy="538.3" r="0.4"/><circle cx="380.3" cy="537.4" r="0.4"/><circle cx="379.7" cy="549.1" r="0.4"/><circle cx="373.0" cy="546.2" r="0.4"/><circle cx="382.2" cy="543.2" r="0.4"/><circle cx="380.0" cy="540.3" r="0.4"/><circle cx="380.9" cy="541.2" r="0.4"/><circle cx="378.3" cy="544.2" r="0.4"/><circle cx="378.0" cy="539.7" r="0.4"/><circle cx="379.1" cy="533.6" r="0.4"/><circle cx="381.5" cy="539.5" r="0.4"/><circle cx="377.2" cy="539.5" r="0.4"/><circle cx="376.7" cy="547.8" r="0.4"/><circle cx="381.2" cy="550.8" r="0.4"/><circle cx="378.6" cy="543.8" r="0.4"/><circle cx="377.7" cy="535.2" r="0.4"/><circle cx="379.8" cy="542.2" r="0.4"/><circle cx="382.2" cy="538.4" r="0.4"/><circle cx="382.6" cy="545.2" r="0.4"/><circle cx="377.9" cy="538.9" r="0.4"/><circle cx="377.8" cy="549.3" r="0.4"/><circle cx="378.7" cy="544.8" r="0.4"/><circle cx="382.2" cy="538.5" r="0.4"/><circle cx="378.8" cy="541.8" r="0.4"/><circle cx="378.1" cy="533.0" r="0.4"/><circle cx="377.7" cy="541.8" r="0.4"/><circle cx="380.5" cy="549.6" r="0.4"/><circle cx="375.6" cy="542.7" r="0.4"/><circle cx="377.2" cy="546.2" r="0.4"/><circle cx="381.7" cy="540.6" r="0.4"/><circle cx="383.5" cy="537.9" r="0.4"/><circle cx="378.7" cy="534.1" r="0.4"/><circle cx="378.4" cy="540.5" r="0.4"/><circle cx="381.6" cy="546.9" r="0.4"/><circle cx="379.4" cy="535.9" r="0.4"/><circle cx="379.2" cy="537.6" r="0.4"/><circle cx="379.6" cy="559.5" r="0.38"/><circle cx="379.7" cy="557.9" r="0.38"/><circle cx="379.6" cy="559.3" r="0.38"/><circle cx="380.0" cy="560.3" r="0.38"/><circle cx="380.9" cy="560.8" r="0.38"/><circle cx="381.0" cy="559.8" r="0.38"/><circle cx="378.6" cy="560.0" r="0.38"/><circle cx="378.8" cy="557.2" r="0.38"/></g>
<rect x="389.1" y="534.3" width="24.8" height="13" fill="#fff"/>
<text font-size="14" textLength="24.4" lengthAdjust="spacingAndGlyphs" fill="#1a1a1a" x="389.4" y="545.5">0.97</text>
<rect x="426.1" y="524.4" width="59.5" height="64.3" fill="#fff" stroke="#b4b4b4" stroke-width="0.8"/>
<text x="424.3" y="590.2" font-size="3.9" text-anchor="end" fill="#444">10<tspan dy="-1.4" font-size="2.6">0</tspan></text>
<text x="426.7" y="595.0" font-size="3.9" text-anchor="middle" fill="#444">10<tspan dy="-1.4" font-size="2.6">0</tspan></text>
<text x="424.3" y="574.1" font-size="3.9" text-anchor="end" fill="#444">10<tspan dy="-1.4" font-size="2.6">1</tspan></text>
<text x="441.6" y="595.0" font-size="3.9" text-anchor="middle" fill="#444">10<tspan dy="-1.4" font-size="2.6">1</tspan></text>
<text x="424.3" y="558.0" font-size="3.9" text-anchor="end" fill="#444">10<tspan dy="-1.4" font-size="2.6">2</tspan></text>
<text x="456.5" y="595.0" font-size="3.9" text-anchor="middle" fill="#444">10<tspan dy="-1.4" font-size="2.6">2</tspan></text>
<text x="424.3" y="542.0" font-size="3.9" text-anchor="end" fill="#444">10<tspan dy="-1.4" font-size="2.6">3</tspan></text>
<text x="471.3" y="595.0" font-size="3.9" text-anchor="middle" fill="#444">10<tspan dy="-1.4" font-size="2.6">3</tspan></text>
<text x="424.3" y="525.9" font-size="3.9" text-anchor="end" fill="#444">10<tspan dy="-1.4" font-size="2.6">4</tspan></text>
<text x="486.2" y="595.0" font-size="3.9" text-anchor="middle" fill="#444">10<tspan dy="-1.4" font-size="2.6">4</tspan></text>
<line x1="426.1" y1="589.9" x2="485.6" y2="589.9" stroke="#bbb" stroke-width="0.9" stroke-dasharray="0.5 1.6"/>
<line x1="425.0" y1="524.4" x2="425.0" y2="588.7" stroke="#bbb" stroke-width="0.9" stroke-dasharray="0.5 1.6"/>
<ellipse cx="450.1" cy="541.4" rx="9.7" ry="14.9" fill="none" stroke="#a8a8a8" stroke-width="0.7"/>
<path d="M448.8,588.1 C448.4,584.1 445.6,583.1 445.8,577.1 C446.0,572.1 448.4,569.3 451.2,569.3 C454.0,569.3 456.4,572.1 456.6,577.1 C456.8,583.1 454.0,584.1 453.6,588.1 Z" fill="#9a9a9a" stroke="#000" stroke-width="1.9"/>
<path d="M449.7,584.1 C449.5,581.6 447.7,581.0 447.9,577.3 C448.0,574.2 449.5,572.4 451.2,572.4 C452.9,572.4 454.4,574.2 454.5,577.3 C454.7,581.0 452.9,581.6 452.7,584.1 Z" fill="#e6e6e6" stroke="#f4f4f4" stroke-width="0.6"/>
<path d="M450.5,580.3 C450.4,579.1 449.5,578.8 449.6,577.0 C449.6,575.5 450.4,574.7 451.2,574.7 C452.0,574.7 452.8,575.5 452.8,577.0 C452.9,578.8 452.0,579.1 451.9,580.3 Z" fill="#999"/>
<line x1="450.0" y1="575.1" x2="450.0" y2="583.1" stroke="#888" stroke-width="0.5"/>
<line x1="452.4" y1="575.1" x2="452.4" y2="583.1" stroke="#888" stroke-width="0.5"/>
<g fill="#222"><circle cx="455.6" cy="568.4" r="0.42"/><circle cx="454.6" cy="568.9" r="0.42"/><circle cx="456.8" cy="570.5" r="0.42"/><circle cx="459.8" cy="579.6" r="0.42"/><circle cx="446.2" cy="571.3" r="0.42"/><circle cx="459.4" cy="580.7" r="0.42"/><circle cx="444.0" cy="576.5" r="0.42"/><circle cx="446.5" cy="569.8" r="0.42"/><circle cx="459.6" cy="580.5" r="0.42"/><circle cx="455.6" cy="571.4" r="0.42"/><circle cx="457.6" cy="576.1" r="0.42"/><circle cx="442.7" cy="577.6" r="0.42"/><circle cx="444.0" cy="580.4" r="0.42"/><circle cx="457.2" cy="569.9" r="0.42"/><circle cx="452.7" cy="568.6" r="0.42"/><circle cx="450.1" cy="567.4" r="0.42"/><circle cx="455.1" cy="568.4" r="0.42"/><circle cx="452.0" cy="568.4" r="0.42"/><circle cx="456.9" cy="570.2" r="0.42"/><circle cx="459.1" cy="576.7" r="0.42"/><circle cx="458.3" cy="571.4" r="0.42"/><circle cx="451.2" cy="568.7" r="0.42"/><circle cx="459.6" cy="576.9" r="0.42"/><circle cx="455.4" cy="568.6" r="0.42"/><circle cx="452.9" cy="567.9" r="0.42"/><circle cx="451.8" cy="567.5" r="0.42"/><circle cx="454.8" cy="568.1" r="0.42"/><circle cx="458.1" cy="577.2" r="0.42"/><circle cx="458.3" cy="577.0" r="0.42"/><circle cx="452.3" cy="569.0" r="0.42"/><circle cx="457.2" cy="570.3" r="0.42"/><circle cx="448.4" cy="569.5" r="0.42"/><circle cx="456.9" cy="569.7" r="0.42"/><circle cx="456.5" cy="569.4" r="0.42"/><circle cx="457.2" cy="574.0" r="0.42"/><circle cx="453.6" cy="569.1" r="0.42"/><circle cx="456.1" cy="571.8" r="0.42"/><circle cx="457.7" cy="573.2" r="0.42"/><circle cx="453.0" cy="567.1" r="0.42"/><circle cx="456.7" cy="573.8" r="0.42"/><circle cx="454.9" cy="568.8" r="0.42"/><circle cx="457.3" cy="570.9" r="0.42"/><circle cx="458.3" cy="579.6" r="0.42"/><circle cx="457.4" cy="571.2" r="0.42"/><circle cx="446.5" cy="571.8" r="0.42"/><circle cx="457.5" cy="579.2" r="0.42"/><circle cx="457.5" cy="576.6" r="0.42"/><circle cx="454.7" cy="568.9" r="0.42"/><circle cx="457.6" cy="580.5" r="0.42"/><circle cx="454.9" cy="570.3" r="0.42"/><circle cx="459.9" cy="580.3" r="0.42"/><circle cx="445.5" cy="571.9" r="0.42"/><circle cx="452.5" cy="568.3" r="0.42"/><circle cx="454.9" cy="569.2" r="0.42"/><circle cx="457.9" cy="573.7" r="0.42"/><circle cx="444.1" cy="576.6" r="0.42"/><circle cx="458.5" cy="576.5" r="0.42"/><circle cx="459.0" cy="574.0" r="0.42"/><circle cx="457.2" cy="569.6" r="0.42"/><circle cx="459.6" cy="578.5" r="0.42"/><circle cx="456.4" cy="569.7" r="0.42"/><circle cx="458.0" cy="572.9" r="0.42"/><circle cx="457.1" cy="575.5" r="0.42"/><circle cx="455.7" cy="570.4" r="0.42"/><circle cx="457.6" cy="571.1" r="0.42"/><circle cx="445.4" cy="573.9" r="0.42"/><circle cx="456.1" cy="568.5" r="0.42"/><circle cx="456.7" cy="572.7" r="0.42"/><circle cx="457.5" cy="575.8" r="0.42"/><circle cx="458.3" cy="576.8" r="0.42"/><circle cx="444.2" cy="579.6" r="0.42"/><circle cx="444.5" cy="574.5" r="0.42"/><circle cx="456.8" cy="573.5" r="0.42"/><circle cx="454.7" cy="569.7" r="0.42"/><circle cx="457.0" cy="573.8" r="0.42"/><circle cx="457.7" cy="570.7" r="0.42"/><circle cx="452.7" cy="569.1" r="0.42"/><circle cx="456.2" cy="569.9" r="0.42"/><circle cx="459.5" cy="575.2" r="0.42"/><circle cx="457.5" cy="578.6" r="0.42"/><circle cx="457.4" cy="577.0" r="0.42"/><circle cx="456.4" cy="572.6" r="0.42"/><circle cx="459.4" cy="576.2" r="0.42"/><circle cx="455.7" cy="568.5" r="0.42"/><circle cx="457.4" cy="570.1" r="0.42"/><circle cx="455.1" cy="570.6" r="0.42"/><circle cx="457.9" cy="572.0" r="0.42"/><circle cx="456.6" cy="571.2" r="0.42"/><circle cx="455.7" cy="570.6" r="0.42"/><circle cx="459.4" cy="576.6" r="0.42"/><circle cx="455.5" cy="569.5" r="0.42"/><circle cx="454.3" cy="568.8" r="0.42"/><circle cx="457.5" cy="570.0" r="0.42"/><circle cx="455.0" cy="567.6" r="0.42"/><circle cx="448.6" cy="569.1" r="0.42"/><circle cx="459.5" cy="579.5" r="0.42"/><circle cx="455.9" cy="571.3" r="0.42"/><circle cx="457.7" cy="573.5" r="0.42"/><circle cx="457.9" cy="572.4" r="0.42"/><circle cx="459.1" cy="577.3" r="0.42"/><circle cx="457.8" cy="574.3" r="0.42"/><circle cx="446.0" cy="569.6" r="0.42"/><circle cx="458.8" cy="577.4" r="0.42"/><circle cx="442.5" cy="578.9" r="0.42"/><circle cx="443.9" cy="580.5" r="0.42"/><circle cx="457.7" cy="571.5" r="0.42"/><circle cx="442.8" cy="578.4" r="0.42"/><circle cx="459.1" cy="575.1" r="0.42"/><circle cx="454.9" cy="568.0" r="0.42"/><circle cx="459.1" cy="578.0" r="0.42"/><circle cx="457.9" cy="579.0" r="0.42"/><circle cx="454.4" cy="567.9" r="0.42"/><circle cx="459.4" cy="575.8" r="0.42"/><circle cx="456.9" cy="574.7" r="0.42"/><circle cx="459.5" cy="581.0" r="0.42"/><circle cx="457.9" cy="580.3" r="0.42"/><circle cx="457.8" cy="571.9" r="0.42"/><circle cx="456.6" cy="572.0" r="0.42"/><circle cx="455.0" cy="567.5" r="0.42"/><circle cx="456.1" cy="568.9" r="0.42"/><circle cx="454.7" cy="568.2" r="0.42"/><circle cx="458.1" cy="573.8" r="0.42"/><circle cx="455.1" cy="568.5" r="0.42"/><circle cx="447.8" cy="568.4" r="0.42"/><circle cx="452.9" cy="567.7" r="0.42"/><circle cx="455.0" cy="570.5" r="0.42"/><circle cx="443.3" cy="578.1" r="0.42"/><circle cx="458.2" cy="572.5" r="0.42"/><circle cx="456.1" cy="571.0" r="0.42"/><circle cx="445.1" cy="573.8" r="0.42"/><circle cx="456.6" cy="572.9" r="0.42"/><circle cx="456.0" cy="568.4" r="0.42"/><circle cx="452.5" cy="567.0" r="0.42"/><circle cx="459.9" cy="579.6" r="0.42"/><circle cx="456.8" cy="574.2" r="0.42"/><circle cx="443.9" cy="579.0" r="0.42"/><circle cx="458.6" cy="575.3" r="0.42"/><circle cx="451.4" cy="567.8" r="0.42"/><circle cx="451.1" cy="568.0" r="0.42"/><circle cx="457.8" cy="580.5" r="0.42"/><circle cx="453.8" cy="569.5" r="0.42"/><circle cx="445.6" cy="569.2" r="0.42"/><circle cx="458.2" cy="574.0" r="0.42"/><circle cx="457.3" cy="571.5" r="0.42"/><circle cx="458.7" cy="579.0" r="0.42"/><circle cx="459.5" cy="578.8" r="0.42"/><circle cx="448.3" cy="567.3" r="0.42"/><circle cx="446.2" cy="572.6" r="0.42"/><circle cx="447.4" cy="569.8" r="0.42"/><circle cx="457.5" cy="570.5" r="0.42"/><circle cx="449.3" cy="587.7" r="0.45"/><circle cx="455.4" cy="587.2" r="0.45"/><circle cx="448.5" cy="587.3" r="0.45"/><circle cx="458.1" cy="587.2" r="0.45"/><circle cx="457.8" cy="587.3" r="0.45"/><circle cx="459.1" cy="588.1" r="0.45"/><circle cx="450.6" cy="587.3" r="0.45"/><circle cx="454.8" cy="586.6" r="0.45"/><circle cx="453.2" cy="587.4" r="0.45"/><circle cx="453.3" cy="587.3" r="0.45"/><circle cx="454.5" cy="586.7" r="0.45"/><circle cx="443.4" cy="587.6" r="0.45"/><circle cx="450.6" cy="567.1" r="0.35"/><circle cx="450.3" cy="567.1" r="0.35"/><circle cx="448.7" cy="562.3" r="0.35"/><circle cx="450.3" cy="564.2" r="0.35"/><circle cx="450.5" cy="561.9" r="0.35"/><circle cx="448.3" cy="567.1" r="0.35"/><circle cx="449.3" cy="563.4" r="0.35"/><circle cx="452.5" cy="566.1" r="0.35"/><circle cx="451.2" cy="567.2" r="0.35"/><circle cx="448.8" cy="567.7" r="0.35"/></g>
<g fill="#333"><circle cx="448.4" cy="548.1" r="0.4"/><circle cx="452.3" cy="546.2" r="0.4"/><circle cx="451.7" cy="527.2" r="0.4"/><circle cx="452.8" cy="540.4" r="0.4"/><circle cx="445.3" cy="540.5" r="0.4"/><circle cx="453.3" cy="548.9" r="0.4"/><circle cx="448.5" cy="544.1" r="0.4"/><circle cx="451.7" cy="539.0" r="0.4"/><circle cx="450.2" cy="542.7" r="0.4"/><circle cx="452.3" cy="543.4" r="0.4"/><circle cx="449.9" cy="533.0" r="0.4"/><circle cx="454.0" cy="546.8" r="0.4"/><circle cx="449.6" cy="539.8" r="0.4"/><circle cx="452.8" cy="530.7" r="0.4"/><circle cx="452.1" cy="552.6" r="0.4"/><circle cx="451.5" cy="536.2" r="0.4"/><circle cx="455.7" cy="540.0" r="0.4"/><circle cx="451.4" cy="537.7" r="0.4"/><circle cx="451.3" cy="530.5" r="0.4"/><circle cx="447.9" cy="532.2" r="0.4"/><circle cx="453.0" cy="539.4" r="0.4"/><circle cx="453.6" cy="529.2" r="0.4"/><circle cx="449.5" cy="547.6" r="0.4"/><circle cx="449.0" cy="530.1" r="0.4"/><circle cx="449.1" cy="538.1" r="0.4"/><circle cx="450.9" cy="546.8" r="0.4"/><circle cx="454.0" cy="548.1" r="0.4"/><circle cx="452.3" cy="537.3" r="0.4"/><circle cx="449.7" cy="532.1" r="0.4"/><circle cx="453.9" cy="546.5" r="0.4"/><circle cx="451.1" cy="535.2" r="0.4"/><circle cx="452.5" cy="542.5" r="0.4"/><circle cx="451.3" cy="533.8" r="0.4"/><circle cx="451.5" cy="536.9" r="0.4"/><circle cx="452.6" cy="543.1" r="0.4"/><circle cx="451.9" cy="537.7" r="0.4"/><circle cx="454.5" cy="544.0" r="0.4"/><circle cx="453.9" cy="544.3" r="0.4"/><circle cx="452.5" cy="542.0" r="0.4"/><circle cx="448.4" cy="530.3" r="0.4"/><circle cx="448.7" cy="543.1" r="0.4"/><circle cx="453.0" cy="540.9" r="0.4"/><circle cx="451.1" cy="549.6" r="0.4"/><circle cx="450.0" cy="530.5" r="0.4"/><circle cx="447.3" cy="538.2" r="0.4"/><circle cx="452.6" cy="543.8" r="0.4"/><circle cx="450.4" cy="544.2" r="0.4"/><circle cx="450.8" cy="536.1" r="0.4"/><circle cx="450.0" cy="543.9" r="0.4"/><circle cx="453.1" cy="534.0" r="0.4"/><circle cx="448.6" cy="540.6" r="0.4"/><circle cx="455.9" cy="533.7" r="0.4"/><circle cx="447.9" cy="542.1" r="0.4"/><circle cx="452.1" cy="536.7" r="0.4"/><circle cx="450.8" cy="542.5" r="0.4"/><circle cx="446.8" cy="539.8" r="0.4"/><circle cx="452.3" cy="544.8" r="0.4"/><circle cx="453.6" cy="539.5" r="0.4"/><circle cx="447.5" cy="547.0" r="0.4"/><circle cx="452.7" cy="536.5" r="0.4"/><circle cx="453.3" cy="545.4" r="0.4"/><circle cx="450.6" cy="527.5" r="0.4"/><circle cx="449.8" cy="535.9" r="0.4"/><circle cx="448.9" cy="539.5" r="0.4"/><circle cx="448.4" cy="542.0" r="0.4"/><circle cx="455.3" cy="533.6" r="0.4"/><circle cx="453.3" cy="537.1" r="0.4"/><circle cx="452.2" cy="539.2" r="0.4"/><circle cx="453.9" cy="536.2" r="0.4"/><circle cx="452.6" cy="535.8" r="0.4"/><circle cx="451.4" cy="562.2" r="0.38"/><circle cx="451.1" cy="562.0" r="0.38"/><circle cx="449.5" cy="557.1" r="0.38"/><circle cx="452.7" cy="561.4" r="0.38"/><circle cx="449.9" cy="557.0" r="0.38"/><circle cx="451.3" cy="561.8" r="0.38"/><circle cx="451.0" cy="563.2" r="0.38"/><circle cx="450.6" cy="557.2" r="0.38"/></g>
<rect x="459.7" y="534.0" width="24.8" height="13" fill="#fff"/>
<text font-size="14" textLength="24.4" lengthAdjust="spacingAndGlyphs" fill="#1a1a1a" x="460.0" y="545.2">1.05</text>
<text font-size="21.6" textLength="13.0" lengthAdjust="spacingAndGlyphs" font-weight="bold" class="m" x="0.2" y="638.1">E</text>
<rect x="55.8" y="643.3" width="33.4" height="8.7" fill="#fff" stroke="#111" stroke-width="1.3"/>
<rect x="55.5" y="661.2" width="34" height="9.6" fill="#000"/>
<text font-size="16" textLength="64.4" lengthAdjust="spacingAndGlyphs" class="m" x="94.6" y="653.0">Teff cells</text>
<text font-size="16" textLength="143.6" lengthAdjust="spacingAndGlyphs" class="m" x="94.6" y="670.9">Teff cells+Treg cells</text>
<line x1="56.3" y1="682.0" x2="56.3" y2="827.4" stroke="#111" stroke-width="1.2"/>
<line x1="55.7" y1="826.8" x2="246.0" y2="826.8" stroke="#111" stroke-width="1.5"/>
<line x1="49.5" y1="682.5" x2="56.3" y2="682.5" stroke="#111" stroke-width="1.2"/>
<text font-size="16" textLength="25.4" lengthAdjust="spacingAndGlyphs" text-anchor="end" class="m" x="47.6" y="687.4">100</text>
<line x1="49.5" y1="711.4" x2="56.3" y2="711.4" stroke="#111" stroke-width="1.2"/>
<text font-size="16" textLength="17.2" lengthAdjust="spacingAndGlyphs" text-anchor="end" class="m" x="47.6" y="716.2">80</text>
<line x1="49.5" y1="740.2" x2="56.3" y2="740.2" stroke="#111" stroke-width="1.2"/>
<text font-size="16" textLength="17.2" lengthAdjust="spacingAndGlyphs" text-anchor="end" class="m" x="47.6" y="745.1">60</text>
<line x1="49.5" y1="769.0" x2="56.3" y2="769.0" stroke="#111" stroke-width="1.2"/>
<text font-size="16" textLength="17.2" lengthAdjust="spacingAndGlyphs" text-anchor="end" class="m" x="47.6" y="773.9">40</text>
<line x1="49.5" y1="797.9" x2="56.3" y2="797.9" stroke="#111" stroke-width="1.2"/>
<text font-size="16" textLength="17.2" lengthAdjust="spacingAndGlyphs" text-anchor="end" class="m" x="47.6" y="802.8">20</text>
<line x1="49.5" y1="826.8" x2="56.3" y2="826.8" stroke="#111" stroke-width="1.2"/>
<text font-size="16" textLength="8.7" lengthAdjust="spacingAndGlyphs" text-anchor="end" class="m" x="47.6" y="831.6">0</text>
<text font-size="14.6" textLength="13.8" lengthAdjust="spacingAndGlyphs" class="m" transform="translate(15.6 842.3) rotate(-90)">%</text>
<text font-size="14.6" textLength="82.8" lengthAdjust="spacingAndGlyphs" class="m" transform="translate(15.6 821.3) rotate(-90)">proliferating</text>
<text font-size="14.6" textLength="26.2" lengthAdjust="spacingAndGlyphs" class="m" transform="translate(15.6 732.8) rotate(-90)">Teff</text>
<text font-size="14.6" textLength="31.7" lengthAdjust="spacingAndGlyphs" class="m" transform="translate(15.6 700.3) rotate(-90)">cells</text>
<rect x="61.4" y="733.1" width="17.4" height="93.6" fill="#fff" stroke="#111" stroke-width="1.3"/>
<line x1="89.2" y1="805.4" x2="89.2" y2="807.5" stroke="#111" stroke-width="1.4"/>
<line x1="84.2" y1="805.7" x2="94.2" y2="805.7" stroke="#111" stroke-width="1.4"/>
<rect x="79.4" y="807.0" width="19.5" height="19.8" fill="#000"/>
<line x1="117.3" y1="686.0" x2="117.3" y2="693.5" stroke="#111" stroke-width="1.4"/>
<line x1="112.3" y1="686.3" x2="122.3" y2="686.3" stroke="#111" stroke-width="1.4"/>
<rect x="108.4" y="693.6" width="18.0" height="133.1" fill="#fff" stroke="#111" stroke-width="1.3"/>
<line x1="136.6" y1="724.8" x2="136.6" y2="729.5" stroke="#111" stroke-width="1.4"/>
<line x1="131.6" y1="725.1" x2="141.6" y2="725.1" stroke="#111" stroke-width="1.4"/>
<rect x="127.0" y="729.0" width="19.2" height="97.8" fill="#000"/>
<line x1="164.9" y1="699.0" x2="164.9" y2="700.3" stroke="#111" stroke-width="1.4"/>
<line x1="159.9" y1="699.3" x2="169.9" y2="699.3" stroke="#111" stroke-width="1.4"/>
<rect x="156.1" y="700.4" width="17.8" height="126.3" fill="#fff" stroke="#111" stroke-width="1.3"/>
<line x1="183.8" y1="734.6" x2="183.8" y2="737.3" stroke="#111" stroke-width="1.4"/>
<line x1="178.8" y1="734.9" x2="188.8" y2="734.9" stroke="#111" stroke-width="1.4"/>
<rect x="174.5" y="736.8" width="18.7" height="90.0" fill="#000"/>
<line x1="212.0" y1="693.0" x2="212.0" y2="694.5" stroke="#111" stroke-width="1.4"/>
<line x1="207.0" y1="693.3" x2="217.0" y2="693.3" stroke="#111" stroke-width="1.4"/>
<rect x="203.2" y="694.6" width="17.7" height="132.1" fill="#fff" stroke="#111" stroke-width="1.3"/>
<line x1="231.1" y1="771.0" x2="231.1" y2="775.1" stroke="#111" stroke-width="1.4"/>
<line x1="226.1" y1="771.3" x2="236.1" y2="771.3" stroke="#111" stroke-width="1.4"/>
<rect x="221.5" y="774.6" width="19.1" height="52.2" fill="#000"/>
<text font-size="12.4" textLength="12.8" lengthAdjust="spacingAndGlyphs" font-style="italic" class="m" x="82.9" y="802.6">78</text>
<text font-size="12.4" textLength="13.0" lengthAdjust="spacingAndGlyphs" font-style="italic" class="m" x="132.3" y="723.2">27</text>
<text font-size="12.4" textLength="13.3" lengthAdjust="spacingAndGlyphs" font-style="italic" class="m" x="177.5" y="733.2">29</text>
<text font-size="12.4" textLength="13.6" lengthAdjust="spacingAndGlyphs" font-style="italic" class="m" x="224.6" y="767.8">60</text>
<text font-size="21" text-anchor="middle" class="m" x="230.4" y="761.0">*</text>
<text font-size="11.8" textLength="39.4" lengthAdjust="spacingAndGlyphs" class="m" x="154.8" y="838.5">BMMCs</text>
<text font-size="11.8" textLength="26.8" lengthAdjust="spacingAndGlyphs" class="m" x="210.8" y="838.5">Teffs</text>
<text x="163.0" y="853.7" font-size="12" font-style="italic" textLength="22.6" lengthAdjust="spacingAndGlyphs">il6<tspan dy="-4.4" font-size="7.5">-/-</tspan></text>
<text x="212.3" y="853.7" font-size="12" font-style="italic" textLength="22.6" lengthAdjust="spacingAndGlyphs">il6<tspan dy="-4.4" font-size="7.5">-/-</tspan></text>
<line x1="112.3" y1="857.0" x2="242.0" y2="857.0" stroke="#111" stroke-width="1.2"/>
<text font-size="16" textLength="64.8" lengthAdjust="spacingAndGlyphs" class="m" x="144.6" y="870.8">+BMMCs</text>
<text font-size="22.4" textLength="12.0" lengthAdjust="spacingAndGlyphs" font-weight="bold" class="m" x="265.4" y="638.9">F</text>
<rect x="324.3" y="641.8" width="33.4" height="8.8" fill="#9a9a9a" stroke="#111" stroke-width="1.1"/>
<rect x="323.8" y="660" width="34.4" height="9.4" fill="#000"/>
<text font-size="16" textLength="70.4" lengthAdjust="spacingAndGlyphs" class="m" x="362.6" y="651.0">Treg cells</text>
<text font-size="16" textLength="145.0" lengthAdjust="spacingAndGlyphs" class="m" x="362.6" y="669.5">Treg cells+Teff cells</text>
<line x1="321.3" y1="682.0" x2="321.3" y2="827.8" stroke="#111" stroke-width="1.2"/>
<line x1="320.7" y1="827.2" x2="511.5" y2="827.2" stroke="#111" stroke-width="1.5"/>
<line x1="314.5" y1="682.5" x2="321.3" y2="682.5" stroke="#111" stroke-width="1.2"/>
<text font-size="16" textLength="25.4" lengthAdjust="spacingAndGlyphs" text-anchor="end" class="m" x="312.5" y="687.4">100</text>
<line x1="314.5" y1="711.4" x2="321.3" y2="711.4" stroke="#111" stroke-width="1.2"/>
<text font-size="16" textLength="17.2" lengthAdjust="spacingAndGlyphs" text-anchor="end" class="m" x="312.5" y="716.3">80</text>
<line x1="314.5" y1="740.3" x2="321.3" y2="740.3" stroke="#111" stroke-width="1.2"/>
<text font-size="16" textLength="17.2" lengthAdjust="spacingAndGlyphs" text-anchor="end" class="m" x="312.5" y="745.2">60</text>
<line x1="314.5" y1="769.2" x2="321.3" y2="769.2" stroke="#111" stroke-width="1.2"/>
<text font-size="16" textLength="17.2" lengthAdjust="spacingAndGlyphs" text-anchor="end" class="m" x="312.5" y="774.1">40</text>
<line x1="314.5" y1="798.1" x2="321.3" y2="798.1" stroke="#111" stroke-width="1.2"/>
<text font-size="16" textLength="17.2" lengthAdjust="spacingAndGlyphs" text-anchor="end" class="m" x="312.5" y="803.0">20</text>
<line x1="314.5" y1="827.0" x2="321.3" y2="827.0" stroke="#111" stroke-width="1.2"/>
<text font-size="16" textLength="8.7" lengthAdjust="spacingAndGlyphs" text-anchor="end" class="m" x="312.5" y="831.9">0</text>
<text font-size="15.2" textLength="13.8" lengthAdjust="spacingAndGlyphs" class="m" transform="translate(279.4 845.6) rotate(-90)">%</text>
<text font-size="15.2" textLength="82.8" lengthAdjust="spacingAndGlyphs" class="m" transform="translate(279.4 824.6) rotate(-90)">proliferating</text>
<text font-size="15.2" textLength="31.5" lengthAdjust="spacingAndGlyphs" class="m" transform="translate(279.4 736.1) rotate(-90)">Treg</text>
<text font-size="15.2" textLength="31.7" lengthAdjust="spacingAndGlyphs" class="m" transform="translate(279.4 698.3) rotate(-90)">cells</text>
<line x1="334.8" y1="812.0" x2="334.8" y2="816.5" stroke="#111" stroke-width="1.4"/>
<line x1="329.8" y1="812.3" x2="339.8" y2="812.3" stroke="#111" stroke-width="1.4"/>
<rect x="325.9" y="816.6" width="17.7" height="10.6" fill="#9a9a9a" stroke="#111" stroke-width="1.3"/>
<line x1="354.0" y1="761.9" x2="354.0" y2="783.4" stroke="#111" stroke-width="1.4"/>
<line x1="349.0" y1="762.2" x2="359.0" y2="762.2" stroke="#111" stroke-width="1.4"/>
<rect x="344.3" y="782.9" width="19.4" height="44.3" fill="#000"/>
<line x1="382.3" y1="774.8" x2="382.3" y2="788.2" stroke="#111" stroke-width="1.4"/>
<line x1="377.3" y1="775.1" x2="387.3" y2="775.1" stroke="#111" stroke-width="1.4"/>
<rect x="373.2" y="788.4" width="18.1" height="38.9" fill="#9a9a9a" stroke="#111" stroke-width="1.3"/>
<line x1="401.5" y1="708.2" x2="401.5" y2="731.7" stroke="#111" stroke-width="1.4"/>
<line x1="396.5" y1="708.5" x2="406.5" y2="708.5" stroke="#111" stroke-width="1.4"/>
<rect x="392.0" y="731.2" width="19.0" height="96.0" fill="#000"/>
<line x1="429.5" y1="782.9" x2="429.5" y2="790.3" stroke="#111" stroke-width="1.4"/>
<line x1="424.5" y1="783.2" x2="434.5" y2="783.2" stroke="#111" stroke-width="1.4"/>
<rect x="420.5" y="790.4" width="18.0" height="36.8" fill="#9a9a9a" stroke="#111" stroke-width="1.3"/>
<line x1="448.9" y1="729.6" x2="448.9" y2="741.0" stroke="#111" stroke-width="1.4"/>
<line x1="443.9" y1="729.9" x2="453.9" y2="729.9" stroke="#111" stroke-width="1.4"/>
<rect x="439.2" y="740.5" width="19.4" height="86.7" fill="#000"/>
<line x1="477.0" y1="768.8" x2="477.0" y2="774.1" stroke="#111" stroke-width="1.4"/>
<line x1="472.0" y1="769.1" x2="482.0" y2="769.1" stroke="#111" stroke-width="1.4"/>
<rect x="468.1" y="774.2" width="17.7" height="53.0" fill="#9a9a9a" stroke="#111" stroke-width="1.3"/>
<line x1="496.2" y1="737.7" x2="496.2" y2="744.2" stroke="#111" stroke-width="1.4"/>
<line x1="491.2" y1="738.0" x2="501.2" y2="738.0" stroke="#111" stroke-width="1.4"/>
<rect x="486.5" y="743.7" width="19.4" height="83.5" fill="#000"/>
<text font-size="11.8" textLength="39.4" lengthAdjust="spacingAndGlyphs" class="m" x="419.5" y="839.5">BMMCs</text>
<text font-size="11.8" textLength="26.8" lengthAdjust="spacingAndGlyphs" class="m" x="475.0" y="839.5">Teffs</text>
<text x="427.7" y="854.7" font-size="12" font-style="italic" textLength="22.6" lengthAdjust="spacingAndGlyphs">il6<tspan dy="-4.4" font-size="7.5">-/-</tspan></text>
<text x="476.5" y="854.7" font-size="12" font-style="italic" textLength="22.6" lengthAdjust="spacingAndGlyphs">il6<tspan dy="-4.4" font-size="7.5">-/-</tspan></text>
<line x1="376.6" y1="856.8" x2="506.7" y2="856.8" stroke="#111" stroke-width="1.2"/>
<text font-size="16" textLength="64.8" lengthAdjust="spacingAndGlyphs" class="m" x="409.5" y="870.8">+BMMCs</text>
</svg>
</body></html>
